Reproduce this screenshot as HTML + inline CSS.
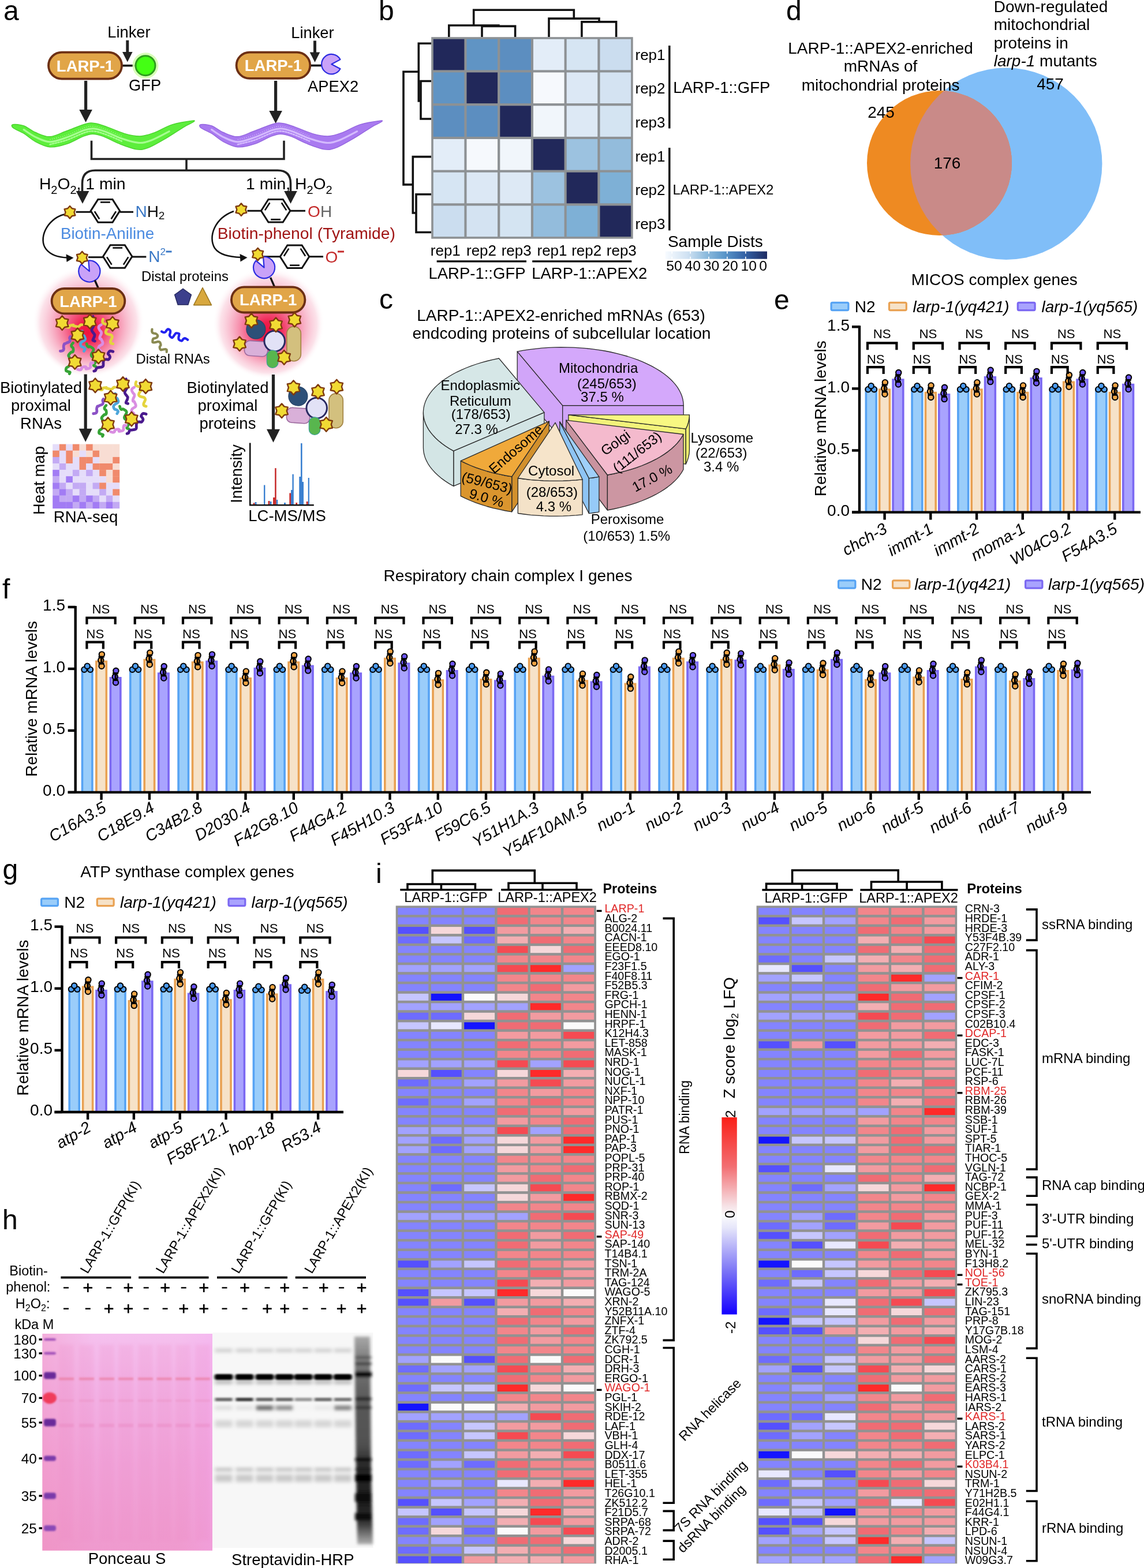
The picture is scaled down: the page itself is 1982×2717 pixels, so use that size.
<!DOCTYPE html><html><head><meta charset="utf-8"><title>Figure</title><style>html,body{margin:0;padding:0;background:#fff;}svg{display:block;}text{font-family:"Liberation Sans", Arial, Helvetica, sans-serif;}</style></head><body><svg width="1982" height="2717" viewBox="0 0 1982 2717"><defs><linearGradient id="cbar" x1="0" y1="0" x2="0" y2="1"><stop offset="0" stop-color="#FA2018"/><stop offset="0.25" stop-color="#F26E72"/><stop offset="0.45" stop-color="#F6E2E6"/><stop offset="0.5" stop-color="#FAFAFC"/><stop offset="0.56" stop-color="#E6E6FA"/><stop offset="0.78" stop-color="#7B74F6"/><stop offset="1" stop-color="#1400FF"/></linearGradient><linearGradient id="ponG" x1="0" y1="0" x2="0" y2="1"><stop offset="0" stop-color="#F5C0EE"/><stop offset="0.25" stop-color="#F3B2E6"/><stop offset="0.6" stop-color="#F1A4DA"/><stop offset="1" stop-color="#EF9ACE"/></linearGradient><linearGradient id="ponH" x1="0" y1="0" x2="1" y2="0"><stop offset="0" stop-color="#F08CB8" stop-opacity="0.35"/><stop offset="0.3" stop-color="#F08CB8" stop-opacity="0"/><stop offset="0.8" stop-color="#F4A8F0" stop-opacity="0"/><stop offset="1" stop-color="#F4A8F4" stop-opacity="0.3"/></linearGradient><filter id="blur2" x="-20%" y="-200%" width="140%" height="500%"><feGaussianBlur stdDeviation="1.6"/></filter><filter id="blur3" x="-20%" y="-200%" width="140%" height="500%"><feGaussianBlur stdDeviation="2.4"/></filter><filter id="blur5" x="-50%" y="-50%" width="200%" height="200%"><feGaussianBlur stdDeviation="4"/></filter><filter id="blurB" x="-30%" y="-300%" width="160%" height="700%"><feGaussianBlur stdDeviation="2.2 1.8"/></filter><filter id="blurS" x="-30%" y="-300%" width="160%" height="700%"><feGaussianBlur stdDeviation="3 3"/></filter><linearGradient id="l8" x1="0" y1="0" x2="0" y2="1"><stop offset="0" stop-color="#A8A8A8"/><stop offset="0.12" stop-color="#787878"/><stop offset="0.3" stop-color="#5A5A5A"/><stop offset="0.52" stop-color="#505050"/><stop offset="0.62" stop-color="#2A2A2A"/><stop offset="0.8" stop-color="#1A1A1A"/><stop offset="0.9" stop-color="#383838"/><stop offset="1" stop-color="#B0B0B0"/></linearGradient><linearGradient id="sdist" x1="0" y1="0" x2="1" y2="0"><stop offset="0" stop-color="#F7FBFF"/><stop offset="0.22" stop-color="#CFE1F2"/><stop offset="0.4" stop-color="#8DBBDD"/><stop offset="0.58" stop-color="#5A97CA"/><stop offset="0.78" stop-color="#3462A6"/><stop offset="1" stop-color="#1E2B62"/></linearGradient><clipPath id="orclip"><circle cx="1627.5" cy="282.5" r="125.5"/></clipPath><radialGradient id="glow" fx="0.5" fy="0.6"><stop offset="0" stop-color="#F0123E"/><stop offset="0.18" stop-color="#F01E4C"/><stop offset="0.42" stop-color="#F4628A" stop-opacity="0.92"/><stop offset="0.66" stop-color="#F7A6BE" stop-opacity="0.82"/><stop offset="0.86" stop-color="#FAD2DE" stop-opacity="0.65"/><stop offset="1" stop-color="#FFFFFF" stop-opacity="0"/></radialGradient></defs><rect width="1982" height="2717" fill="#fff"/><text x="651.0" y="1530.0" font-size="48">i</text>
<rect x="685.7" y="1569.4" width="347.2" height="1140.0" fill="#929292"/>
<rect x="689.4" y="1573.1" width="52.9" height="12.0" fill="#8484FF"/>
<rect x="746.8" y="1573.1" width="52.9" height="12.0" fill="#8484FF"/>
<rect x="804.2" y="1573.1" width="52.9" height="12.0" fill="#8484FF"/>
<rect x="861.6" y="1573.1" width="52.9" height="12.0" fill="#F06C74"/>
<rect x="918.9" y="1573.1" width="52.9" height="12.0" fill="#F2868B"/>
<rect x="976.3" y="1573.1" width="52.9" height="12.0" fill="#F2868B"/>
<rect x="689.4" y="1589.6" width="52.9" height="12.0" fill="#8484FF"/>
<rect x="746.8" y="1589.6" width="52.9" height="12.0" fill="#8484FF"/>
<rect x="804.2" y="1589.6" width="52.9" height="12.0" fill="#8484FF"/>
<rect x="861.6" y="1589.6" width="52.9" height="12.0" fill="#F06C74"/>
<rect x="918.9" y="1589.6" width="52.9" height="12.0" fill="#F2868B"/>
<rect x="976.3" y="1589.6" width="52.9" height="12.0" fill="#F2868B"/>
<rect x="689.4" y="1606.1" width="52.9" height="12.0" fill="#5550FF"/>
<rect x="746.8" y="1606.1" width="52.9" height="12.0" fill="#F6D8DA"/>
<rect x="804.2" y="1606.1" width="52.9" height="12.0" fill="#5550FF"/>
<rect x="861.6" y="1606.1" width="52.9" height="12.0" fill="#F29BA0"/>
<rect x="918.9" y="1606.1" width="52.9" height="12.0" fill="#F29BA0"/>
<rect x="976.3" y="1606.1" width="52.9" height="12.0" fill="#F3AEB2"/>
<rect x="689.4" y="1622.7" width="52.9" height="12.0" fill="#6E6CFF"/>
<rect x="746.8" y="1622.7" width="52.9" height="12.0" fill="#C6C6FF"/>
<rect x="804.2" y="1622.7" width="52.9" height="12.0" fill="#6E6CFF"/>
<rect x="861.6" y="1622.7" width="52.9" height="12.0" fill="#F3AEB2"/>
<rect x="918.9" y="1622.7" width="52.9" height="12.0" fill="#F06C74"/>
<rect x="976.3" y="1622.7" width="52.9" height="12.0" fill="#F2868B"/>
<rect x="689.4" y="1639.2" width="52.9" height="12.0" fill="#8484FF"/>
<rect x="746.8" y="1639.2" width="52.9" height="12.0" fill="#8484FF"/>
<rect x="804.2" y="1639.2" width="52.9" height="12.0" fill="#8484FF"/>
<rect x="861.6" y="1639.2" width="52.9" height="12.0" fill="#F54A52"/>
<rect x="918.9" y="1639.2" width="52.9" height="12.0" fill="#F6D8DA"/>
<rect x="976.3" y="1639.2" width="52.9" height="12.0" fill="#F06C74"/>
<rect x="689.4" y="1655.7" width="52.9" height="12.0" fill="#8484FF"/>
<rect x="746.8" y="1655.7" width="52.9" height="12.0" fill="#8484FF"/>
<rect x="804.2" y="1655.7" width="52.9" height="12.0" fill="#8484FF"/>
<rect x="861.6" y="1655.7" width="52.9" height="12.0" fill="#F2868B"/>
<rect x="918.9" y="1655.7" width="52.9" height="12.0" fill="#F2868B"/>
<rect x="976.3" y="1655.7" width="52.9" height="12.0" fill="#F2868B"/>
<rect x="689.4" y="1672.2" width="52.9" height="12.0" fill="#A2A2FF"/>
<rect x="746.8" y="1672.2" width="52.9" height="12.0" fill="#A2A2FF"/>
<rect x="804.2" y="1672.2" width="52.9" height="12.0" fill="#A2A2FF"/>
<rect x="861.6" y="1672.2" width="52.9" height="12.0" fill="#F54A52"/>
<rect x="918.9" y="1672.2" width="52.9" height="12.0" fill="#FF2A2A"/>
<rect x="976.3" y="1672.2" width="52.9" height="12.0" fill="#A2A2FF"/>
<rect x="689.4" y="1688.8" width="52.9" height="12.0" fill="#8484FF"/>
<rect x="746.8" y="1688.8" width="52.9" height="12.0" fill="#8484FF"/>
<rect x="804.2" y="1688.8" width="52.9" height="12.0" fill="#8484FF"/>
<rect x="861.6" y="1688.8" width="52.9" height="12.0" fill="#F2868B"/>
<rect x="918.9" y="1688.8" width="52.9" height="12.0" fill="#F2868B"/>
<rect x="976.3" y="1688.8" width="52.9" height="12.0" fill="#F2868B"/>
<rect x="689.4" y="1705.3" width="52.9" height="12.0" fill="#8484FF"/>
<rect x="746.8" y="1705.3" width="52.9" height="12.0" fill="#8484FF"/>
<rect x="804.2" y="1705.3" width="52.9" height="12.0" fill="#8484FF"/>
<rect x="861.6" y="1705.3" width="52.9" height="12.0" fill="#F2868B"/>
<rect x="918.9" y="1705.3" width="52.9" height="12.0" fill="#F06C74"/>
<rect x="976.3" y="1705.3" width="52.9" height="12.0" fill="#F29BA0"/>
<rect x="689.4" y="1721.8" width="52.9" height="12.0" fill="#C6C6FF"/>
<rect x="746.8" y="1721.8" width="52.9" height="12.0" fill="#1414FF"/>
<rect x="804.2" y="1721.8" width="52.9" height="12.0" fill="#FBFBFB"/>
<rect x="861.6" y="1721.8" width="52.9" height="12.0" fill="#F6D8DA"/>
<rect x="918.9" y="1721.8" width="52.9" height="12.0" fill="#F2868B"/>
<rect x="976.3" y="1721.8" width="52.9" height="12.0" fill="#F2868B"/>
<rect x="689.4" y="1738.3" width="52.9" height="12.0" fill="#A2A2FF"/>
<rect x="746.8" y="1738.3" width="52.9" height="12.0" fill="#A2A2FF"/>
<rect x="804.2" y="1738.3" width="52.9" height="12.0" fill="#A2A2FF"/>
<rect x="861.6" y="1738.3" width="52.9" height="12.0" fill="#A2A2FF"/>
<rect x="918.9" y="1738.3" width="52.9" height="12.0" fill="#FF2A2A"/>
<rect x="976.3" y="1738.3" width="52.9" height="12.0" fill="#F2868B"/>
<rect x="689.4" y="1754.8" width="52.9" height="12.0" fill="#6E6CFF"/>
<rect x="746.8" y="1754.8" width="52.9" height="12.0" fill="#6E6CFF"/>
<rect x="804.2" y="1754.8" width="52.9" height="12.0" fill="#F6D8DA"/>
<rect x="861.6" y="1754.8" width="52.9" height="12.0" fill="#F06C74"/>
<rect x="918.9" y="1754.8" width="52.9" height="12.0" fill="#F29BA0"/>
<rect x="976.3" y="1754.8" width="52.9" height="12.0" fill="#F29BA0"/>
<rect x="689.4" y="1771.4" width="52.9" height="12.0" fill="#C6C6FF"/>
<rect x="746.8" y="1771.4" width="52.9" height="12.0" fill="#E8E8FF"/>
<rect x="804.2" y="1771.4" width="52.9" height="12.0" fill="#1414FF"/>
<rect x="861.6" y="1771.4" width="52.9" height="12.0" fill="#F06C74"/>
<rect x="918.9" y="1771.4" width="52.9" height="12.0" fill="#F06C74"/>
<rect x="976.3" y="1771.4" width="52.9" height="12.0" fill="#FBFBFB"/>
<rect x="689.4" y="1787.9" width="52.9" height="12.0" fill="#8484FF"/>
<rect x="746.8" y="1787.9" width="52.9" height="12.0" fill="#8484FF"/>
<rect x="804.2" y="1787.9" width="52.9" height="12.0" fill="#8484FF"/>
<rect x="861.6" y="1787.9" width="52.9" height="12.0" fill="#F29BA0"/>
<rect x="918.9" y="1787.9" width="52.9" height="12.0" fill="#F29BA0"/>
<rect x="976.3" y="1787.9" width="52.9" height="12.0" fill="#F54A52"/>
<rect x="689.4" y="1804.4" width="52.9" height="12.0" fill="#8484FF"/>
<rect x="746.8" y="1804.4" width="52.9" height="12.0" fill="#8484FF"/>
<rect x="804.2" y="1804.4" width="52.9" height="12.0" fill="#8484FF"/>
<rect x="861.6" y="1804.4" width="52.9" height="12.0" fill="#F06C74"/>
<rect x="918.9" y="1804.4" width="52.9" height="12.0" fill="#F2868B"/>
<rect x="976.3" y="1804.4" width="52.9" height="12.0" fill="#F29BA0"/>
<rect x="689.4" y="1820.9" width="52.9" height="12.0" fill="#8484FF"/>
<rect x="746.8" y="1820.9" width="52.9" height="12.0" fill="#8484FF"/>
<rect x="804.2" y="1820.9" width="52.9" height="12.0" fill="#8484FF"/>
<rect x="861.6" y="1820.9" width="52.9" height="12.0" fill="#F2868B"/>
<rect x="918.9" y="1820.9" width="52.9" height="12.0" fill="#F2868B"/>
<rect x="976.3" y="1820.9" width="52.9" height="12.0" fill="#F06C74"/>
<rect x="689.4" y="1837.4" width="52.9" height="12.0" fill="#A2A2FF"/>
<rect x="746.8" y="1837.4" width="52.9" height="12.0" fill="#A2A2FF"/>
<rect x="804.2" y="1837.4" width="52.9" height="12.0" fill="#A2A2FF"/>
<rect x="861.6" y="1837.4" width="52.9" height="12.0" fill="#F54A52"/>
<rect x="918.9" y="1837.4" width="52.9" height="12.0" fill="#A2A2FF"/>
<rect x="976.3" y="1837.4" width="52.9" height="12.0" fill="#F54A52"/>
<rect x="689.4" y="1854.0" width="52.9" height="12.0" fill="#F6D8DA"/>
<rect x="746.8" y="1854.0" width="52.9" height="12.0" fill="#5550FF"/>
<rect x="804.2" y="1854.0" width="52.9" height="12.0" fill="#8484FF"/>
<rect x="861.6" y="1854.0" width="52.9" height="12.0" fill="#F6D8DA"/>
<rect x="918.9" y="1854.0" width="52.9" height="12.0" fill="#FF2A2A"/>
<rect x="976.3" y="1854.0" width="52.9" height="12.0" fill="#F3AEB2"/>
<rect x="689.4" y="1870.5" width="52.9" height="12.0" fill="#6E6CFF"/>
<rect x="746.8" y="1870.5" width="52.9" height="12.0" fill="#8484FF"/>
<rect x="804.2" y="1870.5" width="52.9" height="12.0" fill="#A2A2FF"/>
<rect x="861.6" y="1870.5" width="52.9" height="12.0" fill="#F29BA0"/>
<rect x="918.9" y="1870.5" width="52.9" height="12.0" fill="#F54A52"/>
<rect x="976.3" y="1870.5" width="52.9" height="12.0" fill="#F29BA0"/>
<rect x="689.4" y="1887.0" width="52.9" height="12.0" fill="#8484FF"/>
<rect x="746.8" y="1887.0" width="52.9" height="12.0" fill="#8484FF"/>
<rect x="804.2" y="1887.0" width="52.9" height="12.0" fill="#8484FF"/>
<rect x="861.6" y="1887.0" width="52.9" height="12.0" fill="#F2868B"/>
<rect x="918.9" y="1887.0" width="52.9" height="12.0" fill="#F29BA0"/>
<rect x="976.3" y="1887.0" width="52.9" height="12.0" fill="#F2868B"/>
<rect x="689.4" y="1903.5" width="52.9" height="12.0" fill="#6E6CFF"/>
<rect x="746.8" y="1903.5" width="52.9" height="12.0" fill="#8484FF"/>
<rect x="804.2" y="1903.5" width="52.9" height="12.0" fill="#A2A2FF"/>
<rect x="861.6" y="1903.5" width="52.9" height="12.0" fill="#F2868B"/>
<rect x="918.9" y="1903.5" width="52.9" height="12.0" fill="#F06C74"/>
<rect x="976.3" y="1903.5" width="52.9" height="12.0" fill="#F2868B"/>
<rect x="689.4" y="1920.1" width="52.9" height="12.0" fill="#8484FF"/>
<rect x="746.8" y="1920.1" width="52.9" height="12.0" fill="#8484FF"/>
<rect x="804.2" y="1920.1" width="52.9" height="12.0" fill="#8484FF"/>
<rect x="861.6" y="1920.1" width="52.9" height="12.0" fill="#F06C74"/>
<rect x="918.9" y="1920.1" width="52.9" height="12.0" fill="#F2868B"/>
<rect x="976.3" y="1920.1" width="52.9" height="12.0" fill="#F29BA0"/>
<rect x="689.4" y="1936.6" width="52.9" height="12.0" fill="#8484FF"/>
<rect x="746.8" y="1936.6" width="52.9" height="12.0" fill="#8484FF"/>
<rect x="804.2" y="1936.6" width="52.9" height="12.0" fill="#8484FF"/>
<rect x="861.6" y="1936.6" width="52.9" height="12.0" fill="#F29BA0"/>
<rect x="918.9" y="1936.6" width="52.9" height="12.0" fill="#F2868B"/>
<rect x="976.3" y="1936.6" width="52.9" height="12.0" fill="#F06C74"/>
<rect x="689.4" y="1953.1" width="52.9" height="12.0" fill="#A2A2FF"/>
<rect x="746.8" y="1953.1" width="52.9" height="12.0" fill="#A2A2FF"/>
<rect x="804.2" y="1953.1" width="52.9" height="12.0" fill="#A2A2FF"/>
<rect x="861.6" y="1953.1" width="52.9" height="12.0" fill="#F54A52"/>
<rect x="918.9" y="1953.1" width="52.9" height="12.0" fill="#A2A2FF"/>
<rect x="976.3" y="1953.1" width="52.9" height="12.0" fill="#F06C74"/>
<rect x="689.4" y="1969.6" width="52.9" height="12.0" fill="#A2A2FF"/>
<rect x="746.8" y="1969.6" width="52.9" height="12.0" fill="#6E6CFF"/>
<rect x="804.2" y="1969.6" width="52.9" height="12.0" fill="#A2A2FF"/>
<rect x="861.6" y="1969.6" width="52.9" height="12.0" fill="#F6D8DA"/>
<rect x="918.9" y="1969.6" width="52.9" height="12.0" fill="#F29BA0"/>
<rect x="976.3" y="1969.6" width="52.9" height="12.0" fill="#FF2A2A"/>
<rect x="689.4" y="1986.1" width="52.9" height="12.0" fill="#A2A2FF"/>
<rect x="746.8" y="1986.1" width="52.9" height="12.0" fill="#6E6CFF"/>
<rect x="804.2" y="1986.1" width="52.9" height="12.0" fill="#A2A2FF"/>
<rect x="861.6" y="1986.1" width="52.9" height="12.0" fill="#F6D8DA"/>
<rect x="918.9" y="1986.1" width="52.9" height="12.0" fill="#F29BA0"/>
<rect x="976.3" y="1986.1" width="52.9" height="12.0" fill="#FF2A2A"/>
<rect x="689.4" y="2002.7" width="52.9" height="12.0" fill="#8484FF"/>
<rect x="746.8" y="2002.7" width="52.9" height="12.0" fill="#8484FF"/>
<rect x="804.2" y="2002.7" width="52.9" height="12.0" fill="#8484FF"/>
<rect x="861.6" y="2002.7" width="52.9" height="12.0" fill="#F2868B"/>
<rect x="918.9" y="2002.7" width="52.9" height="12.0" fill="#F2868B"/>
<rect x="976.3" y="2002.7" width="52.9" height="12.0" fill="#F2868B"/>
<rect x="689.4" y="2019.2" width="52.9" height="12.0" fill="#8484FF"/>
<rect x="746.8" y="2019.2" width="52.9" height="12.0" fill="#8484FF"/>
<rect x="804.2" y="2019.2" width="52.9" height="12.0" fill="#8484FF"/>
<rect x="861.6" y="2019.2" width="52.9" height="12.0" fill="#F29BA0"/>
<rect x="918.9" y="2019.2" width="52.9" height="12.0" fill="#F2868B"/>
<rect x="976.3" y="2019.2" width="52.9" height="12.0" fill="#F06C74"/>
<rect x="689.4" y="2035.7" width="52.9" height="12.0" fill="#8484FF"/>
<rect x="746.8" y="2035.7" width="52.9" height="12.0" fill="#8484FF"/>
<rect x="804.2" y="2035.7" width="52.9" height="12.0" fill="#8484FF"/>
<rect x="861.6" y="2035.7" width="52.9" height="12.0" fill="#F29BA0"/>
<rect x="918.9" y="2035.7" width="52.9" height="12.0" fill="#F06C74"/>
<rect x="976.3" y="2035.7" width="52.9" height="12.0" fill="#F2868B"/>
<rect x="689.4" y="2052.2" width="52.9" height="12.0" fill="#8484FF"/>
<rect x="746.8" y="2052.2" width="52.9" height="12.0" fill="#6E6CFF"/>
<rect x="804.2" y="2052.2" width="52.9" height="12.0" fill="#C6C6FF"/>
<rect x="861.6" y="2052.2" width="52.9" height="12.0" fill="#F6D8DA"/>
<rect x="918.9" y="2052.2" width="52.9" height="12.0" fill="#F54A52"/>
<rect x="976.3" y="2052.2" width="52.9" height="12.0" fill="#F2868B"/>
<rect x="689.4" y="2068.8" width="52.9" height="12.0" fill="#8484FF"/>
<rect x="746.8" y="2068.8" width="52.9" height="12.0" fill="#8484FF"/>
<rect x="804.2" y="2068.8" width="52.9" height="12.0" fill="#8484FF"/>
<rect x="861.6" y="2068.8" width="52.9" height="12.0" fill="#F6D8DA"/>
<rect x="918.9" y="2068.8" width="52.9" height="12.0" fill="#F29BA0"/>
<rect x="976.3" y="2068.8" width="52.9" height="12.0" fill="#FF2A2A"/>
<rect x="689.4" y="2085.3" width="52.9" height="12.0" fill="#8484FF"/>
<rect x="746.8" y="2085.3" width="52.9" height="12.0" fill="#8484FF"/>
<rect x="804.2" y="2085.3" width="52.9" height="12.0" fill="#8484FF"/>
<rect x="861.6" y="2085.3" width="52.9" height="12.0" fill="#F2868B"/>
<rect x="918.9" y="2085.3" width="52.9" height="12.0" fill="#F2868B"/>
<rect x="976.3" y="2085.3" width="52.9" height="12.0" fill="#F2868B"/>
<rect x="689.4" y="2101.8" width="52.9" height="12.0" fill="#A2A2FF"/>
<rect x="746.8" y="2101.8" width="52.9" height="12.0" fill="#A2A2FF"/>
<rect x="804.2" y="2101.8" width="52.9" height="12.0" fill="#A2A2FF"/>
<rect x="861.6" y="2101.8" width="52.9" height="12.0" fill="#A2A2FF"/>
<rect x="918.9" y="2101.8" width="52.9" height="12.0" fill="#F06C74"/>
<rect x="976.3" y="2101.8" width="52.9" height="12.0" fill="#F54A52"/>
<rect x="689.4" y="2118.3" width="52.9" height="12.0" fill="#8484FF"/>
<rect x="746.8" y="2118.3" width="52.9" height="12.0" fill="#8484FF"/>
<rect x="804.2" y="2118.3" width="52.9" height="12.0" fill="#8484FF"/>
<rect x="861.6" y="2118.3" width="52.9" height="12.0" fill="#F2868B"/>
<rect x="918.9" y="2118.3" width="52.9" height="12.0" fill="#F2868B"/>
<rect x="976.3" y="2118.3" width="52.9" height="12.0" fill="#F2868B"/>
<rect x="689.4" y="2134.8" width="52.9" height="12.0" fill="#8484FF"/>
<rect x="746.8" y="2134.8" width="52.9" height="12.0" fill="#8484FF"/>
<rect x="804.2" y="2134.8" width="52.9" height="12.0" fill="#8484FF"/>
<rect x="861.6" y="2134.8" width="52.9" height="12.0" fill="#F06C74"/>
<rect x="918.9" y="2134.8" width="52.9" height="12.0" fill="#F29BA0"/>
<rect x="976.3" y="2134.8" width="52.9" height="12.0" fill="#F06C74"/>
<rect x="689.4" y="2151.4" width="52.9" height="12.0" fill="#8484FF"/>
<rect x="746.8" y="2151.4" width="52.9" height="12.0" fill="#8484FF"/>
<rect x="804.2" y="2151.4" width="52.9" height="12.0" fill="#8484FF"/>
<rect x="861.6" y="2151.4" width="52.9" height="12.0" fill="#F06C74"/>
<rect x="918.9" y="2151.4" width="52.9" height="12.0" fill="#F29BA0"/>
<rect x="976.3" y="2151.4" width="52.9" height="12.0" fill="#F2868B"/>
<rect x="689.4" y="2167.9" width="52.9" height="12.0" fill="#8484FF"/>
<rect x="746.8" y="2167.9" width="52.9" height="12.0" fill="#8484FF"/>
<rect x="804.2" y="2167.9" width="52.9" height="12.0" fill="#8484FF"/>
<rect x="861.6" y="2167.9" width="52.9" height="12.0" fill="#F2868B"/>
<rect x="918.9" y="2167.9" width="52.9" height="12.0" fill="#F2868B"/>
<rect x="976.3" y="2167.9" width="52.9" height="12.0" fill="#F2868B"/>
<rect x="689.4" y="2184.4" width="52.9" height="12.0" fill="#5550FF"/>
<rect x="746.8" y="2184.4" width="52.9" height="12.0" fill="#A2A2FF"/>
<rect x="804.2" y="2184.4" width="52.9" height="12.0" fill="#C6C6FF"/>
<rect x="861.6" y="2184.4" width="52.9" height="12.0" fill="#F06C74"/>
<rect x="918.9" y="2184.4" width="52.9" height="12.0" fill="#F2868B"/>
<rect x="976.3" y="2184.4" width="52.9" height="12.0" fill="#F29BA0"/>
<rect x="689.4" y="2200.9" width="52.9" height="12.0" fill="#8484FF"/>
<rect x="746.8" y="2200.9" width="52.9" height="12.0" fill="#8484FF"/>
<rect x="804.2" y="2200.9" width="52.9" height="12.0" fill="#8484FF"/>
<rect x="861.6" y="2200.9" width="52.9" height="12.0" fill="#F2868B"/>
<rect x="918.9" y="2200.9" width="52.9" height="12.0" fill="#F06C74"/>
<rect x="976.3" y="2200.9" width="52.9" height="12.0" fill="#F29BA0"/>
<rect x="689.4" y="2217.4" width="52.9" height="12.0" fill="#8484FF"/>
<rect x="746.8" y="2217.4" width="52.9" height="12.0" fill="#8484FF"/>
<rect x="804.2" y="2217.4" width="52.9" height="12.0" fill="#8484FF"/>
<rect x="861.6" y="2217.4" width="52.9" height="12.0" fill="#F54A52"/>
<rect x="918.9" y="2217.4" width="52.9" height="12.0" fill="#F3AEB2"/>
<rect x="976.3" y="2217.4" width="52.9" height="12.0" fill="#F29BA0"/>
<rect x="689.4" y="2234.0" width="52.9" height="12.0" fill="#5550FF"/>
<rect x="746.8" y="2234.0" width="52.9" height="12.0" fill="#C6C6FF"/>
<rect x="804.2" y="2234.0" width="52.9" height="12.0" fill="#C6C6FF"/>
<rect x="861.6" y="2234.0" width="52.9" height="12.0" fill="#FF2A2A"/>
<rect x="918.9" y="2234.0" width="52.9" height="12.0" fill="#F6D8DA"/>
<rect x="976.3" y="2234.0" width="52.9" height="12.0" fill="#FBFBFB"/>
<rect x="689.4" y="2250.5" width="52.9" height="12.0" fill="#5550FF"/>
<rect x="746.8" y="2250.5" width="52.9" height="12.0" fill="#F29BA0"/>
<rect x="804.2" y="2250.5" width="52.9" height="12.0" fill="#5550FF"/>
<rect x="861.6" y="2250.5" width="52.9" height="12.0" fill="#F29BA0"/>
<rect x="918.9" y="2250.5" width="52.9" height="12.0" fill="#F29BA0"/>
<rect x="976.3" y="2250.5" width="52.9" height="12.0" fill="#F3AEB2"/>
<rect x="689.4" y="2267.0" width="52.9" height="12.0" fill="#8484FF"/>
<rect x="746.8" y="2267.0" width="52.9" height="12.0" fill="#8484FF"/>
<rect x="804.2" y="2267.0" width="52.9" height="12.0" fill="#8484FF"/>
<rect x="861.6" y="2267.0" width="52.9" height="12.0" fill="#F3AEB2"/>
<rect x="918.9" y="2267.0" width="52.9" height="12.0" fill="#F06C74"/>
<rect x="976.3" y="2267.0" width="52.9" height="12.0" fill="#F2868B"/>
<rect x="689.4" y="2283.5" width="52.9" height="12.0" fill="#8484FF"/>
<rect x="746.8" y="2283.5" width="52.9" height="12.0" fill="#8484FF"/>
<rect x="804.2" y="2283.5" width="52.9" height="12.0" fill="#8484FF"/>
<rect x="861.6" y="2283.5" width="52.9" height="12.0" fill="#F06C74"/>
<rect x="918.9" y="2283.5" width="52.9" height="12.0" fill="#F2868B"/>
<rect x="976.3" y="2283.5" width="52.9" height="12.0" fill="#F29BA0"/>
<rect x="689.4" y="2300.1" width="52.9" height="12.0" fill="#8484FF"/>
<rect x="746.8" y="2300.1" width="52.9" height="12.0" fill="#8484FF"/>
<rect x="804.2" y="2300.1" width="52.9" height="12.0" fill="#8484FF"/>
<rect x="861.6" y="2300.1" width="52.9" height="12.0" fill="#F2868B"/>
<rect x="918.9" y="2300.1" width="52.9" height="12.0" fill="#F29BA0"/>
<rect x="976.3" y="2300.1" width="52.9" height="12.0" fill="#F06C74"/>
<rect x="689.4" y="2316.6" width="52.9" height="12.0" fill="#8484FF"/>
<rect x="746.8" y="2316.6" width="52.9" height="12.0" fill="#8484FF"/>
<rect x="804.2" y="2316.6" width="52.9" height="12.0" fill="#8484FF"/>
<rect x="861.6" y="2316.6" width="52.9" height="12.0" fill="#F06C74"/>
<rect x="918.9" y="2316.6" width="52.9" height="12.0" fill="#F29BA0"/>
<rect x="976.3" y="2316.6" width="52.9" height="12.0" fill="#F2868B"/>
<rect x="689.4" y="2333.1" width="52.9" height="12.0" fill="#8484FF"/>
<rect x="746.8" y="2333.1" width="52.9" height="12.0" fill="#8484FF"/>
<rect x="804.2" y="2333.1" width="52.9" height="12.0" fill="#8484FF"/>
<rect x="861.6" y="2333.1" width="52.9" height="12.0" fill="#F2868B"/>
<rect x="918.9" y="2333.1" width="52.9" height="12.0" fill="#F2868B"/>
<rect x="976.3" y="2333.1" width="52.9" height="12.0" fill="#F2868B"/>
<rect x="689.4" y="2349.6" width="52.9" height="12.0" fill="#A2A2FF"/>
<rect x="746.8" y="2349.6" width="52.9" height="12.0" fill="#FBFBFB"/>
<rect x="804.2" y="2349.6" width="52.9" height="12.0" fill="#5550FF"/>
<rect x="861.6" y="2349.6" width="52.9" height="12.0" fill="#F06C74"/>
<rect x="918.9" y="2349.6" width="52.9" height="12.0" fill="#FBFBFB"/>
<rect x="976.3" y="2349.6" width="52.9" height="12.0" fill="#F06C74"/>
<rect x="689.4" y="2366.1" width="52.9" height="12.0" fill="#6E6CFF"/>
<rect x="746.8" y="2366.1" width="52.9" height="12.0" fill="#A2A2FF"/>
<rect x="804.2" y="2366.1" width="52.9" height="12.0" fill="#A2A2FF"/>
<rect x="861.6" y="2366.1" width="52.9" height="12.0" fill="#F54A52"/>
<rect x="918.9" y="2366.1" width="52.9" height="12.0" fill="#F2868B"/>
<rect x="976.3" y="2366.1" width="52.9" height="12.0" fill="#F3AEB2"/>
<rect x="689.4" y="2382.7" width="52.9" height="12.0" fill="#8484FF"/>
<rect x="746.8" y="2382.7" width="52.9" height="12.0" fill="#8484FF"/>
<rect x="804.2" y="2382.7" width="52.9" height="12.0" fill="#8484FF"/>
<rect x="861.6" y="2382.7" width="52.9" height="12.0" fill="#F06C74"/>
<rect x="918.9" y="2382.7" width="52.9" height="12.0" fill="#F2868B"/>
<rect x="976.3" y="2382.7" width="52.9" height="12.0" fill="#F29BA0"/>
<rect x="689.4" y="2399.2" width="52.9" height="12.0" fill="#6E6CFF"/>
<rect x="746.8" y="2399.2" width="52.9" height="12.0" fill="#C6C6FF"/>
<rect x="804.2" y="2399.2" width="52.9" height="12.0" fill="#C6C6FF"/>
<rect x="861.6" y="2399.2" width="52.9" height="12.0" fill="#FF2A2A"/>
<rect x="918.9" y="2399.2" width="52.9" height="12.0" fill="#F6D8DA"/>
<rect x="976.3" y="2399.2" width="52.9" height="12.0" fill="#FBFBFB"/>
<rect x="689.4" y="2415.7" width="52.9" height="12.0" fill="#8484FF"/>
<rect x="746.8" y="2415.7" width="52.9" height="12.0" fill="#8484FF"/>
<rect x="804.2" y="2415.7" width="52.9" height="12.0" fill="#8484FF"/>
<rect x="861.6" y="2415.7" width="52.9" height="12.0" fill="#F2868B"/>
<rect x="918.9" y="2415.7" width="52.9" height="12.0" fill="#F2868B"/>
<rect x="976.3" y="2415.7" width="52.9" height="12.0" fill="#F2868B"/>
<rect x="689.4" y="2432.2" width="52.9" height="12.0" fill="#1414FF"/>
<rect x="746.8" y="2432.2" width="52.9" height="12.0" fill="#FBFBFB"/>
<rect x="804.2" y="2432.2" width="52.9" height="12.0" fill="#FBFBFB"/>
<rect x="861.6" y="2432.2" width="52.9" height="12.0" fill="#F3AEB2"/>
<rect x="918.9" y="2432.2" width="52.9" height="12.0" fill="#F29BA0"/>
<rect x="976.3" y="2432.2" width="52.9" height="12.0" fill="#F29BA0"/>
<rect x="689.4" y="2448.8" width="52.9" height="12.0" fill="#A2A2FF"/>
<rect x="746.8" y="2448.8" width="52.9" height="12.0" fill="#A2A2FF"/>
<rect x="804.2" y="2448.8" width="52.9" height="12.0" fill="#A2A2FF"/>
<rect x="861.6" y="2448.8" width="52.9" height="12.0" fill="#A2A2FF"/>
<rect x="918.9" y="2448.8" width="52.9" height="12.0" fill="#F54A52"/>
<rect x="976.3" y="2448.8" width="52.9" height="12.0" fill="#F06C74"/>
<rect x="689.4" y="2465.3" width="52.9" height="12.0" fill="#6E6CFF"/>
<rect x="746.8" y="2465.3" width="52.9" height="12.0" fill="#8484FF"/>
<rect x="804.2" y="2465.3" width="52.9" height="12.0" fill="#C6C6FF"/>
<rect x="861.6" y="2465.3" width="52.9" height="12.0" fill="#F29BA0"/>
<rect x="918.9" y="2465.3" width="52.9" height="12.0" fill="#F29BA0"/>
<rect x="976.3" y="2465.3" width="52.9" height="12.0" fill="#F06C74"/>
<rect x="689.4" y="2481.8" width="52.9" height="12.0" fill="#6E6CFF"/>
<rect x="746.8" y="2481.8" width="52.9" height="12.0" fill="#8484FF"/>
<rect x="804.2" y="2481.8" width="52.9" height="12.0" fill="#C6C6FF"/>
<rect x="861.6" y="2481.8" width="52.9" height="12.0" fill="#F54A52"/>
<rect x="918.9" y="2481.8" width="52.9" height="12.0" fill="#F2868B"/>
<rect x="976.3" y="2481.8" width="52.9" height="12.0" fill="#F6D8DA"/>
<rect x="689.4" y="2498.3" width="52.9" height="12.0" fill="#8484FF"/>
<rect x="746.8" y="2498.3" width="52.9" height="12.0" fill="#8484FF"/>
<rect x="804.2" y="2498.3" width="52.9" height="12.0" fill="#8484FF"/>
<rect x="861.6" y="2498.3" width="52.9" height="12.0" fill="#F2868B"/>
<rect x="918.9" y="2498.3" width="52.9" height="12.0" fill="#F2868B"/>
<rect x="976.3" y="2498.3" width="52.9" height="12.0" fill="#F06C74"/>
<rect x="689.4" y="2514.8" width="52.9" height="12.0" fill="#6E6CFF"/>
<rect x="746.8" y="2514.8" width="52.9" height="12.0" fill="#8484FF"/>
<rect x="804.2" y="2514.8" width="52.9" height="12.0" fill="#C6C6FF"/>
<rect x="861.6" y="2514.8" width="52.9" height="12.0" fill="#F29BA0"/>
<rect x="918.9" y="2514.8" width="52.9" height="12.0" fill="#F3AEB2"/>
<rect x="976.3" y="2514.8" width="52.9" height="12.0" fill="#F54A52"/>
<rect x="689.4" y="2531.4" width="52.9" height="12.0" fill="#6E6CFF"/>
<rect x="746.8" y="2531.4" width="52.9" height="12.0" fill="#A2A2FF"/>
<rect x="804.2" y="2531.4" width="52.9" height="12.0" fill="#6E6CFF"/>
<rect x="861.6" y="2531.4" width="52.9" height="12.0" fill="#F06C74"/>
<rect x="918.9" y="2531.4" width="52.9" height="12.0" fill="#F2868B"/>
<rect x="976.3" y="2531.4" width="52.9" height="12.0" fill="#F2868B"/>
<rect x="689.4" y="2547.9" width="52.9" height="12.0" fill="#8484FF"/>
<rect x="746.8" y="2547.9" width="52.9" height="12.0" fill="#8484FF"/>
<rect x="804.2" y="2547.9" width="52.9" height="12.0" fill="#8484FF"/>
<rect x="861.6" y="2547.9" width="52.9" height="12.0" fill="#F06C74"/>
<rect x="918.9" y="2547.9" width="52.9" height="12.0" fill="#F2868B"/>
<rect x="976.3" y="2547.9" width="52.9" height="12.0" fill="#F2868B"/>
<rect x="689.4" y="2564.4" width="52.9" height="12.0" fill="#8484FF"/>
<rect x="746.8" y="2564.4" width="52.9" height="12.0" fill="#A2A2FF"/>
<rect x="804.2" y="2564.4" width="52.9" height="12.0" fill="#8484FF"/>
<rect x="861.6" y="2564.4" width="52.9" height="12.0" fill="#E8E8FF"/>
<rect x="918.9" y="2564.4" width="52.9" height="12.0" fill="#F3AEB2"/>
<rect x="976.3" y="2564.4" width="52.9" height="12.0" fill="#FF2A2A"/>
<rect x="689.4" y="2580.9" width="52.9" height="12.0" fill="#8484FF"/>
<rect x="746.8" y="2580.9" width="52.9" height="12.0" fill="#8484FF"/>
<rect x="804.2" y="2580.9" width="52.9" height="12.0" fill="#8484FF"/>
<rect x="861.6" y="2580.9" width="52.9" height="12.0" fill="#F2868B"/>
<rect x="918.9" y="2580.9" width="52.9" height="12.0" fill="#F06C74"/>
<rect x="976.3" y="2580.9" width="52.9" height="12.0" fill="#F29BA0"/>
<rect x="689.4" y="2597.4" width="52.9" height="12.0" fill="#5550FF"/>
<rect x="746.8" y="2597.4" width="52.9" height="12.0" fill="#C6C6FF"/>
<rect x="804.2" y="2597.4" width="52.9" height="12.0" fill="#A2A2FF"/>
<rect x="861.6" y="2597.4" width="52.9" height="12.0" fill="#F3AEB2"/>
<rect x="918.9" y="2597.4" width="52.9" height="12.0" fill="#F06C74"/>
<rect x="976.3" y="2597.4" width="52.9" height="12.0" fill="#F29BA0"/>
<rect x="689.4" y="2614.0" width="52.9" height="12.0" fill="#C6C6FF"/>
<rect x="746.8" y="2614.0" width="52.9" height="12.0" fill="#5550FF"/>
<rect x="804.2" y="2614.0" width="52.9" height="12.0" fill="#C6C6FF"/>
<rect x="861.6" y="2614.0" width="52.9" height="12.0" fill="#F6D8DA"/>
<rect x="918.9" y="2614.0" width="52.9" height="12.0" fill="#FF2A2A"/>
<rect x="976.3" y="2614.0" width="52.9" height="12.0" fill="#F3AEB2"/>
<rect x="689.4" y="2630.5" width="52.9" height="12.0" fill="#6E6CFF"/>
<rect x="746.8" y="2630.5" width="52.9" height="12.0" fill="#A2A2FF"/>
<rect x="804.2" y="2630.5" width="52.9" height="12.0" fill="#8484FF"/>
<rect x="861.6" y="2630.5" width="52.9" height="12.0" fill="#F3AEB2"/>
<rect x="918.9" y="2630.5" width="52.9" height="12.0" fill="#F54A52"/>
<rect x="976.3" y="2630.5" width="52.9" height="12.0" fill="#F29BA0"/>
<rect x="689.4" y="2647.0" width="52.9" height="12.0" fill="#6E6CFF"/>
<rect x="746.8" y="2647.0" width="52.9" height="12.0" fill="#F6D8DA"/>
<rect x="804.2" y="2647.0" width="52.9" height="12.0" fill="#6E6CFF"/>
<rect x="861.6" y="2647.0" width="52.9" height="12.0" fill="#FBFBFB"/>
<rect x="918.9" y="2647.0" width="52.9" height="12.0" fill="#F29BA0"/>
<rect x="976.3" y="2647.0" width="52.9" height="12.0" fill="#F54A52"/>
<rect x="689.4" y="2663.5" width="52.9" height="12.0" fill="#8484FF"/>
<rect x="746.8" y="2663.5" width="52.9" height="12.0" fill="#A2A2FF"/>
<rect x="804.2" y="2663.5" width="52.9" height="12.0" fill="#8484FF"/>
<rect x="861.6" y="2663.5" width="52.9" height="12.0" fill="#F06C74"/>
<rect x="918.9" y="2663.5" width="52.9" height="12.0" fill="#F06C74"/>
<rect x="976.3" y="2663.5" width="52.9" height="12.0" fill="#F6D8DA"/>
<rect x="689.4" y="2680.1" width="52.9" height="12.0" fill="#6E6CFF"/>
<rect x="746.8" y="2680.1" width="52.9" height="12.0" fill="#8484FF"/>
<rect x="804.2" y="2680.1" width="52.9" height="12.0" fill="#C6C6FF"/>
<rect x="861.6" y="2680.1" width="52.9" height="12.0" fill="#F3AEB2"/>
<rect x="918.9" y="2680.1" width="52.9" height="12.0" fill="#F2868B"/>
<rect x="976.3" y="2680.1" width="52.9" height="12.0" fill="#F06C74"/>
<rect x="689.4" y="2696.6" width="52.9" height="12.0" fill="#5550FF"/>
<rect x="746.8" y="2696.6" width="52.9" height="12.0" fill="#5550FF"/>
<rect x="804.2" y="2696.6" width="52.9" height="12.0" fill="#F29BA0"/>
<rect x="861.6" y="2696.6" width="52.9" height="12.0" fill="#F3AEB2"/>
<rect x="918.9" y="2696.6" width="52.9" height="12.0" fill="#F3AEB2"/>
<rect x="976.3" y="2696.6" width="52.9" height="12.0" fill="#F29BA0"/>
<text x="1047.4" y="1581.4" font-size="19.7" fill="#E02828">LARP-1</text>
<line x1="1033.8" y1="1578.4" x2="1042.5" y2="1578.4" stroke="#000" stroke-width="3.4" />
<text x="1047.4" y="1598.0" font-size="19.7">ALG-2</text>
<text x="1047.4" y="1614.6" font-size="19.7">B0024.11</text>
<text x="1047.4" y="1631.2" font-size="19.7">CACN-1</text>
<text x="1047.4" y="1647.8" font-size="19.7">EEED8.10</text>
<text x="1047.4" y="1664.4" font-size="19.7">EGO-1</text>
<text x="1047.4" y="1681.0" font-size="19.7">F23F1.5</text>
<text x="1047.4" y="1697.6" font-size="19.7">F40F8.11</text>
<text x="1047.4" y="1714.2" font-size="19.7">F52B5.3</text>
<text x="1047.4" y="1730.8" font-size="19.7">FRG-1</text>
<text x="1047.4" y="1747.4" font-size="19.7">GPCH-1</text>
<text x="1047.4" y="1764.0" font-size="19.7">HENN-1</text>
<text x="1047.4" y="1780.6" font-size="19.7">HRPF-1</text>
<text x="1047.4" y="1797.2" font-size="19.7">K12H4.3</text>
<text x="1047.4" y="1813.8" font-size="19.7">LET-858</text>
<text x="1047.4" y="1830.4" font-size="19.7">MASK-1</text>
<text x="1047.4" y="1847.0" font-size="19.7">NRD-1</text>
<text x="1047.4" y="1863.6" font-size="19.7">NOG-1</text>
<text x="1047.4" y="1880.2" font-size="19.7">NUCL-1</text>
<text x="1047.4" y="1896.8" font-size="19.7">NXF-1</text>
<text x="1047.4" y="1913.4" font-size="19.7">NPP-10</text>
<text x="1047.4" y="1930.0" font-size="19.7">PATR-1</text>
<text x="1047.4" y="1946.6" font-size="19.7">PUS-1</text>
<text x="1047.4" y="1963.2" font-size="19.7">PNO-1</text>
<text x="1047.4" y="1979.8" font-size="19.7">PAP-1</text>
<text x="1047.4" y="1996.4" font-size="19.7">PAP-3</text>
<text x="1047.4" y="2013.0" font-size="19.7">POPL-5</text>
<text x="1047.4" y="2029.6" font-size="19.7">PRP-31</text>
<text x="1047.4" y="2046.2" font-size="19.7">PRP-40</text>
<text x="1047.4" y="2062.8" font-size="19.7">ROP-1</text>
<text x="1047.4" y="2079.4" font-size="19.7">RBMX-2</text>
<text x="1047.4" y="2096.0" font-size="19.7">SQD-1</text>
<text x="1047.4" y="2112.6" font-size="19.7">SNR-3</text>
<text x="1047.4" y="2129.2" font-size="19.7">SUN-13</text>
<text x="1047.4" y="2145.8" font-size="19.7" fill="#E02828">SAP-49</text>
<line x1="1033.8" y1="2142.8" x2="1042.5" y2="2142.8" stroke="#000" stroke-width="3.4" />
<text x="1047.4" y="2162.4" font-size="19.7">SAP-140</text>
<text x="1047.4" y="2179.0" font-size="19.7">T14B4.1</text>
<text x="1047.4" y="2195.6" font-size="19.7">TSN-1</text>
<text x="1047.4" y="2212.2" font-size="19.7">TRM-2A</text>
<text x="1047.4" y="2228.8" font-size="19.7">TAG-124</text>
<text x="1047.4" y="2245.4" font-size="19.7">WAGO-5</text>
<text x="1047.4" y="2262.0" font-size="19.7">XRN-2</text>
<text x="1047.4" y="2278.6" font-size="19.7">Y52B11A.10</text>
<text x="1047.4" y="2295.2" font-size="19.7">ZNFX-1</text>
<text x="1047.4" y="2311.8" font-size="19.7">ZTF-4</text>
<text x="1047.4" y="2328.4" font-size="19.7">ZK792.5</text>
<text x="1047.4" y="2345.0" font-size="19.7">CGH-1</text>
<text x="1047.4" y="2361.6" font-size="19.7">DCR-1</text>
<text x="1047.4" y="2378.2" font-size="19.7">DRH-3</text>
<text x="1047.4" y="2394.8" font-size="19.7">ERGO-1</text>
<text x="1047.4" y="2411.4" font-size="19.7" fill="#E02828">WAGO-1</text>
<line x1="1033.8" y1="2408.4" x2="1042.5" y2="2408.4" stroke="#000" stroke-width="3.4" />
<text x="1047.4" y="2428.0" font-size="19.7">PGL-1</text>
<text x="1047.4" y="2444.6" font-size="19.7">SKIH-2</text>
<text x="1047.4" y="2461.2" font-size="19.7">RDE-12</text>
<text x="1047.4" y="2477.8" font-size="19.7">LAF-1</text>
<text x="1047.4" y="2494.4" font-size="19.7">VBH-1</text>
<text x="1047.4" y="2511.0" font-size="19.7">GLH-4</text>
<text x="1047.4" y="2527.6" font-size="19.7">DDX-17</text>
<text x="1047.4" y="2544.2" font-size="19.7">B0511.6</text>
<text x="1047.4" y="2560.8" font-size="19.7">LET-355</text>
<text x="1047.4" y="2577.4" font-size="19.7">HEL-1</text>
<text x="1047.4" y="2594.0" font-size="19.7">T26G10.1</text>
<text x="1047.4" y="2610.6" font-size="19.7">ZK512.2</text>
<text x="1047.4" y="2627.2" font-size="19.7">F21D5.7</text>
<text x="1047.4" y="2643.8" font-size="19.7">SRPA-68</text>
<text x="1047.4" y="2660.4" font-size="19.7">SRPA-72</text>
<text x="1047.4" y="2677.0" font-size="19.7">ADR-2</text>
<text x="1047.4" y="2693.6" font-size="19.7">D2005.1</text>
<text x="1047.4" y="2710.2" font-size="19.7">RHA-1</text>
<rect x="1310.6" y="1569.4" width="347.6" height="1140.0" fill="#929292"/>
<rect x="1314.3" y="1573.1" width="53.0" height="12.0" fill="#8484FF"/>
<rect x="1371.8" y="1573.1" width="53.0" height="12.0" fill="#8484FF"/>
<rect x="1429.2" y="1573.1" width="53.0" height="12.0" fill="#8484FF"/>
<rect x="1486.7" y="1573.1" width="53.0" height="12.0" fill="#F2868B"/>
<rect x="1544.1" y="1573.1" width="53.0" height="12.0" fill="#F2868B"/>
<rect x="1601.6" y="1573.1" width="53.0" height="12.0" fill="#F2868B"/>
<rect x="1314.3" y="1589.6" width="53.0" height="12.0" fill="#5550FF"/>
<rect x="1371.8" y="1589.6" width="53.0" height="12.0" fill="#C6C6FF"/>
<rect x="1429.2" y="1589.6" width="53.0" height="12.0" fill="#A2A2FF"/>
<rect x="1486.7" y="1589.6" width="53.0" height="12.0" fill="#F2868B"/>
<rect x="1544.1" y="1589.6" width="53.0" height="12.0" fill="#F06C74"/>
<rect x="1601.6" y="1589.6" width="53.0" height="12.0" fill="#F29BA0"/>
<rect x="1314.3" y="1606.1" width="53.0" height="12.0" fill="#8484FF"/>
<rect x="1371.8" y="1606.1" width="53.0" height="12.0" fill="#8484FF"/>
<rect x="1429.2" y="1606.1" width="53.0" height="12.0" fill="#8484FF"/>
<rect x="1486.7" y="1606.1" width="53.0" height="12.0" fill="#F06C74"/>
<rect x="1544.1" y="1606.1" width="53.0" height="12.0" fill="#F2868B"/>
<rect x="1601.6" y="1606.1" width="53.0" height="12.0" fill="#F29BA0"/>
<rect x="1314.3" y="1622.7" width="53.0" height="12.0" fill="#8484FF"/>
<rect x="1371.8" y="1622.7" width="53.0" height="12.0" fill="#8484FF"/>
<rect x="1429.2" y="1622.7" width="53.0" height="12.0" fill="#8484FF"/>
<rect x="1486.7" y="1622.7" width="53.0" height="12.0" fill="#F3AEB2"/>
<rect x="1544.1" y="1622.7" width="53.0" height="12.0" fill="#F06C74"/>
<rect x="1601.6" y="1622.7" width="53.0" height="12.0" fill="#F54A52"/>
<rect x="1314.3" y="1639.2" width="53.0" height="12.0" fill="#8484FF"/>
<rect x="1371.8" y="1639.2" width="53.0" height="12.0" fill="#8484FF"/>
<rect x="1429.2" y="1639.2" width="53.0" height="12.0" fill="#8484FF"/>
<rect x="1486.7" y="1639.2" width="53.0" height="12.0" fill="#F06C74"/>
<rect x="1544.1" y="1639.2" width="53.0" height="12.0" fill="#F3AEB2"/>
<rect x="1601.6" y="1639.2" width="53.0" height="12.0" fill="#F06C74"/>
<rect x="1314.3" y="1655.7" width="53.0" height="12.0" fill="#6E6CFF"/>
<rect x="1371.8" y="1655.7" width="53.0" height="12.0" fill="#8484FF"/>
<rect x="1429.2" y="1655.7" width="53.0" height="12.0" fill="#C6C6FF"/>
<rect x="1486.7" y="1655.7" width="53.0" height="12.0" fill="#F3AEB2"/>
<rect x="1544.1" y="1655.7" width="53.0" height="12.0" fill="#F2868B"/>
<rect x="1601.6" y="1655.7" width="53.0" height="12.0" fill="#F06C74"/>
<rect x="1314.3" y="1672.2" width="53.0" height="12.0" fill="#E8E8FF"/>
<rect x="1371.8" y="1672.2" width="53.0" height="12.0" fill="#5550FF"/>
<rect x="1429.2" y="1672.2" width="53.0" height="12.0" fill="#8484FF"/>
<rect x="1486.7" y="1672.2" width="53.0" height="12.0" fill="#F29BA0"/>
<rect x="1544.1" y="1672.2" width="53.0" height="12.0" fill="#F3AEB2"/>
<rect x="1601.6" y="1672.2" width="53.0" height="12.0" fill="#F06C74"/>
<rect x="1314.3" y="1688.8" width="53.0" height="12.0" fill="#A2A2FF"/>
<rect x="1371.8" y="1688.8" width="53.0" height="12.0" fill="#C6C6FF"/>
<rect x="1429.2" y="1688.8" width="53.0" height="12.0" fill="#8484FF"/>
<rect x="1486.7" y="1688.8" width="53.0" height="12.0" fill="#F2868B"/>
<rect x="1544.1" y="1688.8" width="53.0" height="12.0" fill="#FF2A2A"/>
<rect x="1601.6" y="1688.8" width="53.0" height="12.0" fill="#A2A2FF"/>
<rect x="1314.3" y="1705.3" width="53.0" height="12.0" fill="#8484FF"/>
<rect x="1371.8" y="1705.3" width="53.0" height="12.0" fill="#8484FF"/>
<rect x="1429.2" y="1705.3" width="53.0" height="12.0" fill="#8484FF"/>
<rect x="1486.7" y="1705.3" width="53.0" height="12.0" fill="#F06C74"/>
<rect x="1544.1" y="1705.3" width="53.0" height="12.0" fill="#F29BA0"/>
<rect x="1601.6" y="1705.3" width="53.0" height="12.0" fill="#F29BA0"/>
<rect x="1314.3" y="1721.8" width="53.0" height="12.0" fill="#A2A2FF"/>
<rect x="1371.8" y="1721.8" width="53.0" height="12.0" fill="#A2A2FF"/>
<rect x="1429.2" y="1721.8" width="53.0" height="12.0" fill="#A2A2FF"/>
<rect x="1486.7" y="1721.8" width="53.0" height="12.0" fill="#FF2A2A"/>
<rect x="1544.1" y="1721.8" width="53.0" height="12.0" fill="#F06C74"/>
<rect x="1601.6" y="1721.8" width="53.0" height="12.0" fill="#A2A2FF"/>
<rect x="1314.3" y="1738.3" width="53.0" height="12.0" fill="#8484FF"/>
<rect x="1371.8" y="1738.3" width="53.0" height="12.0" fill="#8484FF"/>
<rect x="1429.2" y="1738.3" width="53.0" height="12.0" fill="#8484FF"/>
<rect x="1486.7" y="1738.3" width="53.0" height="12.0" fill="#F3AEB2"/>
<rect x="1544.1" y="1738.3" width="53.0" height="12.0" fill="#F06C74"/>
<rect x="1601.6" y="1738.3" width="53.0" height="12.0" fill="#F06C74"/>
<rect x="1314.3" y="1754.8" width="53.0" height="12.0" fill="#A2A2FF"/>
<rect x="1371.8" y="1754.8" width="53.0" height="12.0" fill="#A2A2FF"/>
<rect x="1429.2" y="1754.8" width="53.0" height="12.0" fill="#A2A2FF"/>
<rect x="1486.7" y="1754.8" width="53.0" height="12.0" fill="#F54A52"/>
<rect x="1544.1" y="1754.8" width="53.0" height="12.0" fill="#F06C74"/>
<rect x="1601.6" y="1754.8" width="53.0" height="12.0" fill="#A2A2FF"/>
<rect x="1314.3" y="1771.4" width="53.0" height="12.0" fill="#8484FF"/>
<rect x="1371.8" y="1771.4" width="53.0" height="12.0" fill="#8484FF"/>
<rect x="1429.2" y="1771.4" width="53.0" height="12.0" fill="#8484FF"/>
<rect x="1486.7" y="1771.4" width="53.0" height="12.0" fill="#F06C74"/>
<rect x="1544.1" y="1771.4" width="53.0" height="12.0" fill="#F29BA0"/>
<rect x="1601.6" y="1771.4" width="53.0" height="12.0" fill="#F29BA0"/>
<rect x="1314.3" y="1787.9" width="53.0" height="12.0" fill="#8484FF"/>
<rect x="1371.8" y="1787.9" width="53.0" height="12.0" fill="#8484FF"/>
<rect x="1429.2" y="1787.9" width="53.0" height="12.0" fill="#8484FF"/>
<rect x="1486.7" y="1787.9" width="53.0" height="12.0" fill="#F29BA0"/>
<rect x="1544.1" y="1787.9" width="53.0" height="12.0" fill="#F29BA0"/>
<rect x="1601.6" y="1787.9" width="53.0" height="12.0" fill="#F06C74"/>
<rect x="1314.3" y="1804.4" width="53.0" height="12.0" fill="#5550FF"/>
<rect x="1371.8" y="1804.4" width="53.0" height="12.0" fill="#F29BA0"/>
<rect x="1429.2" y="1804.4" width="53.0" height="12.0" fill="#5550FF"/>
<rect x="1486.7" y="1804.4" width="53.0" height="12.0" fill="#F29BA0"/>
<rect x="1544.1" y="1804.4" width="53.0" height="12.0" fill="#F29BA0"/>
<rect x="1601.6" y="1804.4" width="53.0" height="12.0" fill="#F3AEB2"/>
<rect x="1314.3" y="1820.9" width="53.0" height="12.0" fill="#8484FF"/>
<rect x="1371.8" y="1820.9" width="53.0" height="12.0" fill="#8484FF"/>
<rect x="1429.2" y="1820.9" width="53.0" height="12.0" fill="#8484FF"/>
<rect x="1486.7" y="1820.9" width="53.0" height="12.0" fill="#F29BA0"/>
<rect x="1544.1" y="1820.9" width="53.0" height="12.0" fill="#F06C74"/>
<rect x="1601.6" y="1820.9" width="53.0" height="12.0" fill="#F29BA0"/>
<rect x="1314.3" y="1837.4" width="53.0" height="12.0" fill="#8484FF"/>
<rect x="1371.8" y="1837.4" width="53.0" height="12.0" fill="#8484FF"/>
<rect x="1429.2" y="1837.4" width="53.0" height="12.0" fill="#8484FF"/>
<rect x="1486.7" y="1837.4" width="53.0" height="12.0" fill="#F2868B"/>
<rect x="1544.1" y="1837.4" width="53.0" height="12.0" fill="#F2868B"/>
<rect x="1601.6" y="1837.4" width="53.0" height="12.0" fill="#F29BA0"/>
<rect x="1314.3" y="1854.0" width="53.0" height="12.0" fill="#8484FF"/>
<rect x="1371.8" y="1854.0" width="53.0" height="12.0" fill="#8484FF"/>
<rect x="1429.2" y="1854.0" width="53.0" height="12.0" fill="#8484FF"/>
<rect x="1486.7" y="1854.0" width="53.0" height="12.0" fill="#F06C74"/>
<rect x="1544.1" y="1854.0" width="53.0" height="12.0" fill="#F2868B"/>
<rect x="1601.6" y="1854.0" width="53.0" height="12.0" fill="#F29BA0"/>
<rect x="1314.3" y="1870.5" width="53.0" height="12.0" fill="#8484FF"/>
<rect x="1371.8" y="1870.5" width="53.0" height="12.0" fill="#8484FF"/>
<rect x="1429.2" y="1870.5" width="53.0" height="12.0" fill="#8484FF"/>
<rect x="1486.7" y="1870.5" width="53.0" height="12.0" fill="#F2868B"/>
<rect x="1544.1" y="1870.5" width="53.0" height="12.0" fill="#F3AEB2"/>
<rect x="1601.6" y="1870.5" width="53.0" height="12.0" fill="#F06C74"/>
<rect x="1314.3" y="1887.0" width="53.0" height="12.0" fill="#8484FF"/>
<rect x="1371.8" y="1887.0" width="53.0" height="12.0" fill="#8484FF"/>
<rect x="1429.2" y="1887.0" width="53.0" height="12.0" fill="#8484FF"/>
<rect x="1486.7" y="1887.0" width="53.0" height="12.0" fill="#F2868B"/>
<rect x="1544.1" y="1887.0" width="53.0" height="12.0" fill="#F2868B"/>
<rect x="1601.6" y="1887.0" width="53.0" height="12.0" fill="#F2868B"/>
<rect x="1314.3" y="1903.5" width="53.0" height="12.0" fill="#8484FF"/>
<rect x="1371.8" y="1903.5" width="53.0" height="12.0" fill="#8484FF"/>
<rect x="1429.2" y="1903.5" width="53.0" height="12.0" fill="#8484FF"/>
<rect x="1486.7" y="1903.5" width="53.0" height="12.0" fill="#F2868B"/>
<rect x="1544.1" y="1903.5" width="53.0" height="12.0" fill="#F3AEB2"/>
<rect x="1601.6" y="1903.5" width="53.0" height="12.0" fill="#F06C74"/>
<rect x="1314.3" y="1920.1" width="53.0" height="12.0" fill="#A2A2FF"/>
<rect x="1371.8" y="1920.1" width="53.0" height="12.0" fill="#A2A2FF"/>
<rect x="1429.2" y="1920.1" width="53.0" height="12.0" fill="#A2A2FF"/>
<rect x="1486.7" y="1920.1" width="53.0" height="12.0" fill="#A2A2FF"/>
<rect x="1544.1" y="1920.1" width="53.0" height="12.0" fill="#F2868B"/>
<rect x="1601.6" y="1920.1" width="53.0" height="12.0" fill="#FF2A2A"/>
<rect x="1314.3" y="1936.6" width="53.0" height="12.0" fill="#8484FF"/>
<rect x="1371.8" y="1936.6" width="53.0" height="12.0" fill="#8484FF"/>
<rect x="1429.2" y="1936.6" width="53.0" height="12.0" fill="#8484FF"/>
<rect x="1486.7" y="1936.6" width="53.0" height="12.0" fill="#F29BA0"/>
<rect x="1544.1" y="1936.6" width="53.0" height="12.0" fill="#F2868B"/>
<rect x="1601.6" y="1936.6" width="53.0" height="12.0" fill="#F2868B"/>
<rect x="1314.3" y="1953.1" width="53.0" height="12.0" fill="#8484FF"/>
<rect x="1371.8" y="1953.1" width="53.0" height="12.0" fill="#8484FF"/>
<rect x="1429.2" y="1953.1" width="53.0" height="12.0" fill="#8484FF"/>
<rect x="1486.7" y="1953.1" width="53.0" height="12.0" fill="#F2868B"/>
<rect x="1544.1" y="1953.1" width="53.0" height="12.0" fill="#F06C74"/>
<rect x="1601.6" y="1953.1" width="53.0" height="12.0" fill="#F29BA0"/>
<rect x="1314.3" y="1969.6" width="53.0" height="12.0" fill="#1414FF"/>
<rect x="1371.8" y="1969.6" width="53.0" height="12.0" fill="#C6C6FF"/>
<rect x="1429.2" y="1969.6" width="53.0" height="12.0" fill="#C6C6FF"/>
<rect x="1486.7" y="1969.6" width="53.0" height="12.0" fill="#F29BA0"/>
<rect x="1544.1" y="1969.6" width="53.0" height="12.0" fill="#F06C74"/>
<rect x="1601.6" y="1969.6" width="53.0" height="12.0" fill="#F29BA0"/>
<rect x="1314.3" y="1986.1" width="53.0" height="12.0" fill="#8484FF"/>
<rect x="1371.8" y="1986.1" width="53.0" height="12.0" fill="#8484FF"/>
<rect x="1429.2" y="1986.1" width="53.0" height="12.0" fill="#8484FF"/>
<rect x="1486.7" y="1986.1" width="53.0" height="12.0" fill="#F29BA0"/>
<rect x="1544.1" y="1986.1" width="53.0" height="12.0" fill="#F06C74"/>
<rect x="1601.6" y="1986.1" width="53.0" height="12.0" fill="#F06C74"/>
<rect x="1314.3" y="2002.7" width="53.0" height="12.0" fill="#8484FF"/>
<rect x="1371.8" y="2002.7" width="53.0" height="12.0" fill="#8484FF"/>
<rect x="1429.2" y="2002.7" width="53.0" height="12.0" fill="#8484FF"/>
<rect x="1486.7" y="2002.7" width="53.0" height="12.0" fill="#F2868B"/>
<rect x="1544.1" y="2002.7" width="53.0" height="12.0" fill="#F2868B"/>
<rect x="1601.6" y="2002.7" width="53.0" height="12.0" fill="#F2868B"/>
<rect x="1314.3" y="2019.2" width="53.0" height="12.0" fill="#5550FF"/>
<rect x="1371.8" y="2019.2" width="53.0" height="12.0" fill="#8484FF"/>
<rect x="1429.2" y="2019.2" width="53.0" height="12.0" fill="#E8E8FF"/>
<rect x="1486.7" y="2019.2" width="53.0" height="12.0" fill="#F29BA0"/>
<rect x="1544.1" y="2019.2" width="53.0" height="12.0" fill="#F2868B"/>
<rect x="1601.6" y="2019.2" width="53.0" height="12.0" fill="#F06C74"/>
<rect x="1314.3" y="2035.7" width="53.0" height="12.0" fill="#8484FF"/>
<rect x="1371.8" y="2035.7" width="53.0" height="12.0" fill="#8484FF"/>
<rect x="1429.2" y="2035.7" width="53.0" height="12.0" fill="#8484FF"/>
<rect x="1486.7" y="2035.7" width="53.0" height="12.0" fill="#F06C74"/>
<rect x="1544.1" y="2035.7" width="53.0" height="12.0" fill="#F2868B"/>
<rect x="1601.6" y="2035.7" width="53.0" height="12.0" fill="#F3AEB2"/>
<rect x="1314.3" y="2052.2" width="53.0" height="12.0" fill="#8484FF"/>
<rect x="1371.8" y="2052.2" width="53.0" height="12.0" fill="#6E6CFF"/>
<rect x="1429.2" y="2052.2" width="53.0" height="12.0" fill="#A2A2FF"/>
<rect x="1486.7" y="2052.2" width="53.0" height="12.0" fill="#F6D8DA"/>
<rect x="1544.1" y="2052.2" width="53.0" height="12.0" fill="#F29BA0"/>
<rect x="1601.6" y="2052.2" width="53.0" height="12.0" fill="#FF2A2A"/>
<rect x="1314.3" y="2068.8" width="53.0" height="12.0" fill="#8484FF"/>
<rect x="1371.8" y="2068.8" width="53.0" height="12.0" fill="#8484FF"/>
<rect x="1429.2" y="2068.8" width="53.0" height="12.0" fill="#8484FF"/>
<rect x="1486.7" y="2068.8" width="53.0" height="12.0" fill="#F2868B"/>
<rect x="1544.1" y="2068.8" width="53.0" height="12.0" fill="#F29BA0"/>
<rect x="1601.6" y="2068.8" width="53.0" height="12.0" fill="#F2868B"/>
<rect x="1314.3" y="2085.3" width="53.0" height="12.0" fill="#8484FF"/>
<rect x="1371.8" y="2085.3" width="53.0" height="12.0" fill="#8484FF"/>
<rect x="1429.2" y="2085.3" width="53.0" height="12.0" fill="#8484FF"/>
<rect x="1486.7" y="2085.3" width="53.0" height="12.0" fill="#F2868B"/>
<rect x="1544.1" y="2085.3" width="53.0" height="12.0" fill="#F2868B"/>
<rect x="1601.6" y="2085.3" width="53.0" height="12.0" fill="#F2868B"/>
<rect x="1314.3" y="2101.8" width="53.0" height="12.0" fill="#8484FF"/>
<rect x="1371.8" y="2101.8" width="53.0" height="12.0" fill="#A2A2FF"/>
<rect x="1429.2" y="2101.8" width="53.0" height="12.0" fill="#6E6CFF"/>
<rect x="1486.7" y="2101.8" width="53.0" height="12.0" fill="#F2868B"/>
<rect x="1544.1" y="2101.8" width="53.0" height="12.0" fill="#F06C74"/>
<rect x="1601.6" y="2101.8" width="53.0" height="12.0" fill="#F29BA0"/>
<rect x="1314.3" y="2118.3" width="53.0" height="12.0" fill="#6E6CFF"/>
<rect x="1371.8" y="2118.3" width="53.0" height="12.0" fill="#A2A2FF"/>
<rect x="1429.2" y="2118.3" width="53.0" height="12.0" fill="#6E6CFF"/>
<rect x="1486.7" y="2118.3" width="53.0" height="12.0" fill="#F29BA0"/>
<rect x="1544.1" y="2118.3" width="53.0" height="12.0" fill="#F54A52"/>
<rect x="1601.6" y="2118.3" width="53.0" height="12.0" fill="#F29BA0"/>
<rect x="1314.3" y="2134.8" width="53.0" height="12.0" fill="#5550FF"/>
<rect x="1371.8" y="2134.8" width="53.0" height="12.0" fill="#C6C6FF"/>
<rect x="1429.2" y="2134.8" width="53.0" height="12.0" fill="#A2A2FF"/>
<rect x="1486.7" y="2134.8" width="53.0" height="12.0" fill="#F06C74"/>
<rect x="1544.1" y="2134.8" width="53.0" height="12.0" fill="#F29BA0"/>
<rect x="1601.6" y="2134.8" width="53.0" height="12.0" fill="#F29BA0"/>
<rect x="1314.3" y="2151.4" width="53.0" height="12.0" fill="#8484FF"/>
<rect x="1371.8" y="2151.4" width="53.0" height="12.0" fill="#5550FF"/>
<rect x="1429.2" y="2151.4" width="53.0" height="12.0" fill="#E8E8FF"/>
<rect x="1486.7" y="2151.4" width="53.0" height="12.0" fill="#F54A52"/>
<rect x="1544.1" y="2151.4" width="53.0" height="12.0" fill="#F3AEB2"/>
<rect x="1601.6" y="2151.4" width="53.0" height="12.0" fill="#F29BA0"/>
<rect x="1314.3" y="2167.9" width="53.0" height="12.0" fill="#8484FF"/>
<rect x="1371.8" y="2167.9" width="53.0" height="12.0" fill="#8484FF"/>
<rect x="1429.2" y="2167.9" width="53.0" height="12.0" fill="#8484FF"/>
<rect x="1486.7" y="2167.9" width="53.0" height="12.0" fill="#F2868B"/>
<rect x="1544.1" y="2167.9" width="53.0" height="12.0" fill="#F06C74"/>
<rect x="1601.6" y="2167.9" width="53.0" height="12.0" fill="#F29BA0"/>
<rect x="1314.3" y="2184.4" width="53.0" height="12.0" fill="#1414FF"/>
<rect x="1371.8" y="2184.4" width="53.0" height="12.0" fill="#FBFBFB"/>
<rect x="1429.2" y="2184.4" width="53.0" height="12.0" fill="#C6C6FF"/>
<rect x="1486.7" y="2184.4" width="53.0" height="12.0" fill="#F29BA0"/>
<rect x="1544.1" y="2184.4" width="53.0" height="12.0" fill="#F2868B"/>
<rect x="1601.6" y="2184.4" width="53.0" height="12.0" fill="#F2868B"/>
<rect x="1314.3" y="2200.9" width="53.0" height="12.0" fill="#8484FF"/>
<rect x="1371.8" y="2200.9" width="53.0" height="12.0" fill="#6E6CFF"/>
<rect x="1429.2" y="2200.9" width="53.0" height="12.0" fill="#C6C6FF"/>
<rect x="1486.7" y="2200.9" width="53.0" height="12.0" fill="#F6D8DA"/>
<rect x="1544.1" y="2200.9" width="53.0" height="12.0" fill="#F06C74"/>
<rect x="1601.6" y="2200.9" width="53.0" height="12.0" fill="#F54A52"/>
<rect x="1314.3" y="2217.4" width="53.0" height="12.0" fill="#6E6CFF"/>
<rect x="1371.8" y="2217.4" width="53.0" height="12.0" fill="#C6C6FF"/>
<rect x="1429.2" y="2217.4" width="53.0" height="12.0" fill="#8484FF"/>
<rect x="1486.7" y="2217.4" width="53.0" height="12.0" fill="#F06C74"/>
<rect x="1544.1" y="2217.4" width="53.0" height="12.0" fill="#F29BA0"/>
<rect x="1601.6" y="2217.4" width="53.0" height="12.0" fill="#F3AEB2"/>
<rect x="1314.3" y="2234.0" width="53.0" height="12.0" fill="#8484FF"/>
<rect x="1371.8" y="2234.0" width="53.0" height="12.0" fill="#8484FF"/>
<rect x="1429.2" y="2234.0" width="53.0" height="12.0" fill="#8484FF"/>
<rect x="1486.7" y="2234.0" width="53.0" height="12.0" fill="#F29BA0"/>
<rect x="1544.1" y="2234.0" width="53.0" height="12.0" fill="#F29BA0"/>
<rect x="1601.6" y="2234.0" width="53.0" height="12.0" fill="#F54A52"/>
<rect x="1314.3" y="2250.5" width="53.0" height="12.0" fill="#8484FF"/>
<rect x="1371.8" y="2250.5" width="53.0" height="12.0" fill="#8484FF"/>
<rect x="1429.2" y="2250.5" width="53.0" height="12.0" fill="#E8E8FF"/>
<rect x="1486.7" y="2250.5" width="53.0" height="12.0" fill="#F06C74"/>
<rect x="1544.1" y="2250.5" width="53.0" height="12.0" fill="#F54A52"/>
<rect x="1601.6" y="2250.5" width="53.0" height="12.0" fill="#C6C6FF"/>
<rect x="1314.3" y="2267.0" width="53.0" height="12.0" fill="#6E6CFF"/>
<rect x="1371.8" y="2267.0" width="53.0" height="12.0" fill="#8484FF"/>
<rect x="1429.2" y="2267.0" width="53.0" height="12.0" fill="#E8E8FF"/>
<rect x="1486.7" y="2267.0" width="53.0" height="12.0" fill="#F06C74"/>
<rect x="1544.1" y="2267.0" width="53.0" height="12.0" fill="#F6D8DA"/>
<rect x="1601.6" y="2267.0" width="53.0" height="12.0" fill="#F06C74"/>
<rect x="1314.3" y="2283.5" width="53.0" height="12.0" fill="#1414FF"/>
<rect x="1371.8" y="2283.5" width="53.0" height="12.0" fill="#C6C6FF"/>
<rect x="1429.2" y="2283.5" width="53.0" height="12.0" fill="#C6C6FF"/>
<rect x="1486.7" y="2283.5" width="53.0" height="12.0" fill="#F29BA0"/>
<rect x="1544.1" y="2283.5" width="53.0" height="12.0" fill="#F06C74"/>
<rect x="1601.6" y="2283.5" width="53.0" height="12.0" fill="#F29BA0"/>
<rect x="1314.3" y="2300.1" width="53.0" height="12.0" fill="#5550FF"/>
<rect x="1371.8" y="2300.1" width="53.0" height="12.0" fill="#5550FF"/>
<rect x="1429.2" y="2300.1" width="53.0" height="12.0" fill="#F29BA0"/>
<rect x="1486.7" y="2300.1" width="53.0" height="12.0" fill="#F3AEB2"/>
<rect x="1544.1" y="2300.1" width="53.0" height="12.0" fill="#F29BA0"/>
<rect x="1601.6" y="2300.1" width="53.0" height="12.0" fill="#F3AEB2"/>
<rect x="1314.3" y="2316.6" width="53.0" height="12.0" fill="#8484FF"/>
<rect x="1371.8" y="2316.6" width="53.0" height="12.0" fill="#8484FF"/>
<rect x="1429.2" y="2316.6" width="53.0" height="12.0" fill="#8484FF"/>
<rect x="1486.7" y="2316.6" width="53.0" height="12.0" fill="#F6D8DA"/>
<rect x="1544.1" y="2316.6" width="53.0" height="12.0" fill="#F06C74"/>
<rect x="1601.6" y="2316.6" width="53.0" height="12.0" fill="#F54A52"/>
<rect x="1314.3" y="2333.1" width="53.0" height="12.0" fill="#8484FF"/>
<rect x="1371.8" y="2333.1" width="53.0" height="12.0" fill="#8484FF"/>
<rect x="1429.2" y="2333.1" width="53.0" height="12.0" fill="#8484FF"/>
<rect x="1486.7" y="2333.1" width="53.0" height="12.0" fill="#F2868B"/>
<rect x="1544.1" y="2333.1" width="53.0" height="12.0" fill="#F29BA0"/>
<rect x="1601.6" y="2333.1" width="53.0" height="12.0" fill="#F2868B"/>
<rect x="1314.3" y="2349.6" width="53.0" height="12.0" fill="#6E6CFF"/>
<rect x="1371.8" y="2349.6" width="53.0" height="12.0" fill="#8484FF"/>
<rect x="1429.2" y="2349.6" width="53.0" height="12.0" fill="#C6C6FF"/>
<rect x="1486.7" y="2349.6" width="53.0" height="12.0" fill="#F29BA0"/>
<rect x="1544.1" y="2349.6" width="53.0" height="12.0" fill="#F29BA0"/>
<rect x="1601.6" y="2349.6" width="53.0" height="12.0" fill="#F06C74"/>
<rect x="1314.3" y="2366.1" width="53.0" height="12.0" fill="#A2A2FF"/>
<rect x="1371.8" y="2366.1" width="53.0" height="12.0" fill="#5550FF"/>
<rect x="1429.2" y="2366.1" width="53.0" height="12.0" fill="#C6C6FF"/>
<rect x="1486.7" y="2366.1" width="53.0" height="12.0" fill="#F54A52"/>
<rect x="1544.1" y="2366.1" width="53.0" height="12.0" fill="#F3AEB2"/>
<rect x="1601.6" y="2366.1" width="53.0" height="12.0" fill="#F6D8DA"/>
<rect x="1314.3" y="2382.7" width="53.0" height="12.0" fill="#8484FF"/>
<rect x="1371.8" y="2382.7" width="53.0" height="12.0" fill="#8484FF"/>
<rect x="1429.2" y="2382.7" width="53.0" height="12.0" fill="#8484FF"/>
<rect x="1486.7" y="2382.7" width="53.0" height="12.0" fill="#F06C74"/>
<rect x="1544.1" y="2382.7" width="53.0" height="12.0" fill="#F29BA0"/>
<rect x="1601.6" y="2382.7" width="53.0" height="12.0" fill="#F29BA0"/>
<rect x="1314.3" y="2399.2" width="53.0" height="12.0" fill="#8484FF"/>
<rect x="1371.8" y="2399.2" width="53.0" height="12.0" fill="#A2A2FF"/>
<rect x="1429.2" y="2399.2" width="53.0" height="12.0" fill="#8484FF"/>
<rect x="1486.7" y="2399.2" width="53.0" height="12.0" fill="#FF2A2A"/>
<rect x="1544.1" y="2399.2" width="53.0" height="12.0" fill="#FBFBFB"/>
<rect x="1601.6" y="2399.2" width="53.0" height="12.0" fill="#F29BA0"/>
<rect x="1314.3" y="2415.7" width="53.0" height="12.0" fill="#8484FF"/>
<rect x="1371.8" y="2415.7" width="53.0" height="12.0" fill="#8484FF"/>
<rect x="1429.2" y="2415.7" width="53.0" height="12.0" fill="#A2A2FF"/>
<rect x="1486.7" y="2415.7" width="53.0" height="12.0" fill="#F2868B"/>
<rect x="1544.1" y="2415.7" width="53.0" height="12.0" fill="#F29BA0"/>
<rect x="1601.6" y="2415.7" width="53.0" height="12.0" fill="#F06C74"/>
<rect x="1314.3" y="2432.2" width="53.0" height="12.0" fill="#8484FF"/>
<rect x="1371.8" y="2432.2" width="53.0" height="12.0" fill="#8484FF"/>
<rect x="1429.2" y="2432.2" width="53.0" height="12.0" fill="#8484FF"/>
<rect x="1486.7" y="2432.2" width="53.0" height="12.0" fill="#F06C74"/>
<rect x="1544.1" y="2432.2" width="53.0" height="12.0" fill="#F29BA0"/>
<rect x="1601.6" y="2432.2" width="53.0" height="12.0" fill="#F2868B"/>
<rect x="1314.3" y="2448.8" width="53.0" height="12.0" fill="#6E6CFF"/>
<rect x="1371.8" y="2448.8" width="53.0" height="12.0" fill="#6E6CFF"/>
<rect x="1429.2" y="2448.8" width="53.0" height="12.0" fill="#E8E8FF"/>
<rect x="1486.7" y="2448.8" width="53.0" height="12.0" fill="#F2868B"/>
<rect x="1544.1" y="2448.8" width="53.0" height="12.0" fill="#F2868B"/>
<rect x="1601.6" y="2448.8" width="53.0" height="12.0" fill="#F29BA0"/>
<rect x="1314.3" y="2465.3" width="53.0" height="12.0" fill="#5550FF"/>
<rect x="1371.8" y="2465.3" width="53.0" height="12.0" fill="#A2A2FF"/>
<rect x="1429.2" y="2465.3" width="53.0" height="12.0" fill="#C6C6FF"/>
<rect x="1486.7" y="2465.3" width="53.0" height="12.0" fill="#F06C74"/>
<rect x="1544.1" y="2465.3" width="53.0" height="12.0" fill="#F06C74"/>
<rect x="1601.6" y="2465.3" width="53.0" height="12.0" fill="#F6D8DA"/>
<rect x="1314.3" y="2481.8" width="53.0" height="12.0" fill="#6E6CFF"/>
<rect x="1371.8" y="2481.8" width="53.0" height="12.0" fill="#A2A2FF"/>
<rect x="1429.2" y="2481.8" width="53.0" height="12.0" fill="#8484FF"/>
<rect x="1486.7" y="2481.8" width="53.0" height="12.0" fill="#F2868B"/>
<rect x="1544.1" y="2481.8" width="53.0" height="12.0" fill="#F06C74"/>
<rect x="1601.6" y="2481.8" width="53.0" height="12.0" fill="#F3AEB2"/>
<rect x="1314.3" y="2498.3" width="53.0" height="12.0" fill="#8484FF"/>
<rect x="1371.8" y="2498.3" width="53.0" height="12.0" fill="#8484FF"/>
<rect x="1429.2" y="2498.3" width="53.0" height="12.0" fill="#8484FF"/>
<rect x="1486.7" y="2498.3" width="53.0" height="12.0" fill="#F2868B"/>
<rect x="1544.1" y="2498.3" width="53.0" height="12.0" fill="#F2868B"/>
<rect x="1601.6" y="2498.3" width="53.0" height="12.0" fill="#F06C74"/>
<rect x="1314.3" y="2514.8" width="53.0" height="12.0" fill="#1414FF"/>
<rect x="1371.8" y="2514.8" width="53.0" height="12.0" fill="#FBFBFB"/>
<rect x="1429.2" y="2514.8" width="53.0" height="12.0" fill="#F6D8DA"/>
<rect x="1486.7" y="2514.8" width="53.0" height="12.0" fill="#F3AEB2"/>
<rect x="1544.1" y="2514.8" width="53.0" height="12.0" fill="#F3AEB2"/>
<rect x="1601.6" y="2514.8" width="53.0" height="12.0" fill="#F29BA0"/>
<rect x="1314.3" y="2531.4" width="53.0" height="12.0" fill="#8484FF"/>
<rect x="1371.8" y="2531.4" width="53.0" height="12.0" fill="#8484FF"/>
<rect x="1429.2" y="2531.4" width="53.0" height="12.0" fill="#8484FF"/>
<rect x="1486.7" y="2531.4" width="53.0" height="12.0" fill="#F2868B"/>
<rect x="1544.1" y="2531.4" width="53.0" height="12.0" fill="#F06C74"/>
<rect x="1601.6" y="2531.4" width="53.0" height="12.0" fill="#F29BA0"/>
<rect x="1314.3" y="2547.9" width="53.0" height="12.0" fill="#E8E8FF"/>
<rect x="1371.8" y="2547.9" width="53.0" height="12.0" fill="#8484FF"/>
<rect x="1429.2" y="2547.9" width="53.0" height="12.0" fill="#5550FF"/>
<rect x="1486.7" y="2547.9" width="53.0" height="12.0" fill="#F2868B"/>
<rect x="1544.1" y="2547.9" width="53.0" height="12.0" fill="#F29BA0"/>
<rect x="1601.6" y="2547.9" width="53.0" height="12.0" fill="#F2868B"/>
<rect x="1314.3" y="2564.4" width="53.0" height="12.0" fill="#6E6CFF"/>
<rect x="1371.8" y="2564.4" width="53.0" height="12.0" fill="#C6C6FF"/>
<rect x="1429.2" y="2564.4" width="53.0" height="12.0" fill="#8484FF"/>
<rect x="1486.7" y="2564.4" width="53.0" height="12.0" fill="#F54A52"/>
<rect x="1544.1" y="2564.4" width="53.0" height="12.0" fill="#F06C74"/>
<rect x="1601.6" y="2564.4" width="53.0" height="12.0" fill="#F6D8DA"/>
<rect x="1314.3" y="2580.9" width="53.0" height="12.0" fill="#8484FF"/>
<rect x="1371.8" y="2580.9" width="53.0" height="12.0" fill="#8484FF"/>
<rect x="1429.2" y="2580.9" width="53.0" height="12.0" fill="#8484FF"/>
<rect x="1486.7" y="2580.9" width="53.0" height="12.0" fill="#F29BA0"/>
<rect x="1544.1" y="2580.9" width="53.0" height="12.0" fill="#F06C74"/>
<rect x="1601.6" y="2580.9" width="53.0" height="12.0" fill="#F06C74"/>
<rect x="1314.3" y="2597.4" width="53.0" height="12.0" fill="#6E6CFF"/>
<rect x="1371.8" y="2597.4" width="53.0" height="12.0" fill="#C6C6FF"/>
<rect x="1429.2" y="2597.4" width="53.0" height="12.0" fill="#A2A2FF"/>
<rect x="1486.7" y="2597.4" width="53.0" height="12.0" fill="#F06C74"/>
<rect x="1544.1" y="2597.4" width="53.0" height="12.0" fill="#E8E8FF"/>
<rect x="1601.6" y="2597.4" width="53.0" height="12.0" fill="#F54A52"/>
<rect x="1314.3" y="2614.0" width="53.0" height="12.0" fill="#E8E8FF"/>
<rect x="1371.8" y="2614.0" width="53.0" height="12.0" fill="#C6C6FF"/>
<rect x="1429.2" y="2614.0" width="53.0" height="12.0" fill="#1414FF"/>
<rect x="1486.7" y="2614.0" width="53.0" height="12.0" fill="#F29BA0"/>
<rect x="1544.1" y="2614.0" width="53.0" height="12.0" fill="#F2868B"/>
<rect x="1601.6" y="2614.0" width="53.0" height="12.0" fill="#F29BA0"/>
<rect x="1314.3" y="2630.5" width="53.0" height="12.0" fill="#5550FF"/>
<rect x="1371.8" y="2630.5" width="53.0" height="12.0" fill="#5550FF"/>
<rect x="1429.2" y="2630.5" width="53.0" height="12.0" fill="#F6D8DA"/>
<rect x="1486.7" y="2630.5" width="53.0" height="12.0" fill="#F29BA0"/>
<rect x="1544.1" y="2630.5" width="53.0" height="12.0" fill="#F29BA0"/>
<rect x="1601.6" y="2630.5" width="53.0" height="12.0" fill="#F29BA0"/>
<rect x="1314.3" y="2647.0" width="53.0" height="12.0" fill="#5550FF"/>
<rect x="1371.8" y="2647.0" width="53.0" height="12.0" fill="#A2A2FF"/>
<rect x="1429.2" y="2647.0" width="53.0" height="12.0" fill="#C6C6FF"/>
<rect x="1486.7" y="2647.0" width="53.0" height="12.0" fill="#F06C74"/>
<rect x="1544.1" y="2647.0" width="53.0" height="12.0" fill="#F2868B"/>
<rect x="1601.6" y="2647.0" width="53.0" height="12.0" fill="#F3AEB2"/>
<rect x="1314.3" y="2663.5" width="53.0" height="12.0" fill="#A2A2FF"/>
<rect x="1371.8" y="2663.5" width="53.0" height="12.0" fill="#8484FF"/>
<rect x="1429.2" y="2663.5" width="53.0" height="12.0" fill="#C6C6FF"/>
<rect x="1486.7" y="2663.5" width="53.0" height="12.0" fill="#FF2A2A"/>
<rect x="1544.1" y="2663.5" width="53.0" height="12.0" fill="#F3AEB2"/>
<rect x="1601.6" y="2663.5" width="53.0" height="12.0" fill="#C6C6FF"/>
<rect x="1314.3" y="2680.1" width="53.0" height="12.0" fill="#8484FF"/>
<rect x="1371.8" y="2680.1" width="53.0" height="12.0" fill="#8484FF"/>
<rect x="1429.2" y="2680.1" width="53.0" height="12.0" fill="#8484FF"/>
<rect x="1486.7" y="2680.1" width="53.0" height="12.0" fill="#F2868B"/>
<rect x="1544.1" y="2680.1" width="53.0" height="12.0" fill="#F2868B"/>
<rect x="1601.6" y="2680.1" width="53.0" height="12.0" fill="#F2868B"/>
<rect x="1314.3" y="2696.6" width="53.0" height="12.0" fill="#A2A2FF"/>
<rect x="1371.8" y="2696.6" width="53.0" height="12.0" fill="#A2A2FF"/>
<rect x="1429.2" y="2696.6" width="53.0" height="12.0" fill="#A2A2FF"/>
<rect x="1486.7" y="2696.6" width="53.0" height="12.0" fill="#F06C74"/>
<rect x="1544.1" y="2696.6" width="53.0" height="12.0" fill="#FF2A2A"/>
<rect x="1601.6" y="2696.6" width="53.0" height="12.0" fill="#A2A2FF"/>
<text x="1671.8" y="1581.4" font-size="19.7">CRN-3</text>
<text x="1671.8" y="1598.0" font-size="19.7">HRDE-1</text>
<text x="1671.8" y="1614.6" font-size="19.7">HRDE-3</text>
<text x="1671.8" y="1631.2" font-size="19.7">Y53F4B.39</text>
<text x="1671.8" y="1647.8" font-size="19.7">C27F2.10</text>
<text x="1671.8" y="1664.4" font-size="19.7">ADR-1</text>
<text x="1671.8" y="1681.0" font-size="19.7">ALY-3</text>
<text x="1671.8" y="1697.6" font-size="19.7" fill="#E02828">CAR-1</text>
<line x1="1658.5" y1="1694.6" x2="1667.5" y2="1694.6" stroke="#000" stroke-width="3.4" />
<text x="1671.8" y="1714.2" font-size="19.7">CFIM-2</text>
<text x="1671.8" y="1730.8" font-size="19.7">CPSF-1</text>
<text x="1671.8" y="1747.4" font-size="19.7">CPSF-2</text>
<text x="1671.8" y="1764.0" font-size="19.7">CPSF-3</text>
<text x="1671.8" y="1780.6" font-size="19.7">C02B10.4</text>
<text x="1671.8" y="1797.2" font-size="19.7" fill="#E02828">DCAP-1</text>
<line x1="1658.5" y1="1794.2" x2="1667.5" y2="1794.2" stroke="#000" stroke-width="3.4" />
<text x="1671.8" y="1813.8" font-size="19.7">EDC-3</text>
<text x="1671.8" y="1830.4" font-size="19.7">FASK-1</text>
<text x="1671.8" y="1847.0" font-size="19.7">LUC-7L</text>
<text x="1671.8" y="1863.6" font-size="19.7">PCF-11</text>
<text x="1671.8" y="1880.2" font-size="19.7">RSP-6</text>
<text x="1671.8" y="1896.8" font-size="19.7" fill="#E02828">RBM-25</text>
<line x1="1658.5" y1="1893.8" x2="1667.5" y2="1893.8" stroke="#000" stroke-width="3.4" />
<text x="1671.8" y="1913.4" font-size="19.7">RBM-26</text>
<text x="1671.8" y="1930.0" font-size="19.7">RBM-39</text>
<text x="1671.8" y="1946.6" font-size="19.7">SSB-1</text>
<text x="1671.8" y="1963.2" font-size="19.7">SUF-1</text>
<text x="1671.8" y="1979.8" font-size="19.7">SPT-5</text>
<text x="1671.8" y="1996.4" font-size="19.7">TIAR-1</text>
<text x="1671.8" y="2013.0" font-size="19.7">THOC-5</text>
<text x="1671.8" y="2029.6" font-size="19.7">VGLN-1</text>
<text x="1671.8" y="2046.2" font-size="19.7">TAG-72</text>
<text x="1671.8" y="2062.8" font-size="19.7">NCBP-1</text>
<text x="1671.8" y="2079.4" font-size="19.7">GEX-2</text>
<text x="1671.8" y="2096.0" font-size="19.7">MMA-1</text>
<text x="1671.8" y="2112.6" font-size="19.7">PUF-3</text>
<text x="1671.8" y="2129.2" font-size="19.7">PUF-11</text>
<text x="1671.8" y="2145.8" font-size="19.7">PUF-12</text>
<text x="1671.8" y="2162.4" font-size="19.7">MEL-32</text>
<text x="1671.8" y="2179.0" font-size="19.7">BYN-1</text>
<text x="1671.8" y="2195.6" font-size="19.7">F13H8.2</text>
<text x="1671.8" y="2212.2" font-size="19.7" fill="#E02828">NOL-56</text>
<line x1="1658.5" y1="2209.2" x2="1667.5" y2="2209.2" stroke="#000" stroke-width="3.4" />
<text x="1671.8" y="2228.8" font-size="19.7" fill="#E02828">TOE-1</text>
<line x1="1658.5" y1="2225.8" x2="1667.5" y2="2225.8" stroke="#000" stroke-width="3.4" />
<text x="1671.8" y="2245.4" font-size="19.7">ZK795.3</text>
<text x="1671.8" y="2262.0" font-size="19.7">LIN-23</text>
<text x="1671.8" y="2278.6" font-size="19.7">TAG-151</text>
<text x="1671.8" y="2295.2" font-size="19.7">PRP-8</text>
<text x="1671.8" y="2311.8" font-size="19.7">Y17G7B.18</text>
<text x="1671.8" y="2328.4" font-size="19.7">MOG-2</text>
<text x="1671.8" y="2345.0" font-size="19.7">LSM-4</text>
<text x="1671.8" y="2361.6" font-size="19.7">AARS-2</text>
<text x="1671.8" y="2378.2" font-size="19.7">CARS-1</text>
<text x="1671.8" y="2394.8" font-size="19.7">EARS-2</text>
<text x="1671.8" y="2411.4" font-size="19.7">EARS-3</text>
<text x="1671.8" y="2428.0" font-size="19.7">HARS-1</text>
<text x="1671.8" y="2444.6" font-size="19.7">IARS-2</text>
<text x="1671.8" y="2461.2" font-size="19.7" fill="#E02828">KARS-1</text>
<line x1="1658.5" y1="2458.2" x2="1667.5" y2="2458.2" stroke="#000" stroke-width="3.4" />
<text x="1671.8" y="2477.8" font-size="19.7">LARS-2</text>
<text x="1671.8" y="2494.4" font-size="19.7">SARS-1</text>
<text x="1671.8" y="2511.0" font-size="19.7">YARS-2</text>
<text x="1671.8" y="2527.6" font-size="19.7">ELPC-1</text>
<text x="1671.8" y="2544.2" font-size="19.7" fill="#E02828">K03B4.1</text>
<line x1="1658.5" y1="2541.2" x2="1667.5" y2="2541.2" stroke="#000" stroke-width="3.4" />
<text x="1671.8" y="2560.8" font-size="19.7">NSUN-2</text>
<text x="1671.8" y="2577.4" font-size="19.7">TRM-1</text>
<text x="1671.8" y="2594.0" font-size="19.7">Y71H2B.5</text>
<text x="1671.8" y="2610.6" font-size="19.7">E02H1.1</text>
<text x="1671.8" y="2627.2" font-size="19.7">F44G4.1</text>
<text x="1671.8" y="2643.8" font-size="19.7">KRR-1</text>
<text x="1671.8" y="2660.4" font-size="19.7">LPD-6</text>
<text x="1671.8" y="2677.0" font-size="19.7">NSUN-1</text>
<text x="1671.8" y="2693.6" font-size="19.7">NSUN-4</text>
<text x="1671.8" y="2710.2" font-size="19.7">W09G3.7</text>
<line x1="693.3" y1="1541.7" x2="852.8" y2="1541.7" stroke="#000" stroke-width="3.6" />
<text x="700.3" y="1562.9" font-size="23.6">LARP-1::GFP</text>
<line x1="868.2" y1="1541.7" x2="1026.2" y2="1541.7" stroke="#000" stroke-width="3.6" />
<text x="862.2" y="1562.9" font-size="23.6">LARP-1::APEX2</text>
<text x="1044.4" y="1547.8" font-size="23" font-weight="bold" textLength="93.8" lengthAdjust="spacingAndGlyphs">Proteins</text>
<path d="M706,1541 V1532 H823.4 V1541 M764.4,1532 V1541 M749.3,1532 V1508.4 H926.3 V1530 M881,1541 V1530.2 H999 V1541 M940,1530.2 V1541" fill="none" stroke="#000" stroke-width="3.6"/>
<line x1="1320.4" y1="1542.0" x2="1477.6" y2="1542.0" stroke="#000" stroke-width="3.6" />
<text x="1324.6" y="1564.1" font-size="23.6">LARP-1::GFP</text>
<line x1="1490.4" y1="1542.0" x2="1659.5" y2="1542.0" stroke="#000" stroke-width="3.6" />
<text x="1488.2" y="1564.1" font-size="23.6">LARP-1::APEX2</text>
<text x="1675.2" y="1548.0" font-size="23" font-weight="bold" textLength="95.7" lengthAdjust="spacingAndGlyphs">Proteins</text>
<path d="M1327.6,1542 V1531.4 H1450 V1542 M1389.6,1531.4 V1542 M1372.6,1531.4 V1508 H1556.2 V1528 M1509.5,1542 V1528 H1631.9 V1542 M1571.1,1528 V1542" fill="none" stroke="#000" stroke-width="3.6"/>
<path d="M1148.5,1591.4 H1167.2 V2322.4 H1148.5" fill="none" stroke="#000" stroke-width="3.6"/>
<path d="M1148.5,2335.5 H1167.2 V2604.3 H1148.5" fill="none" stroke="#000" stroke-width="3.6"/>
<path d="M1148.5,2618.4 H1167.2 V2651.6 H1148.5" fill="none" stroke="#000" stroke-width="3.6"/>
<path d="M1148.5,2670.1 H1167.2 V2702.3 H1148.5" fill="none" stroke="#000" stroke-width="3.6"/>
<text x="1194.4" y="1936.0" font-size="23" text-anchor="middle" transform="rotate(-90 1194.4 1936.0)">RNA binding</text>
<text x="1235.6" y="2448.3" font-size="23.5" text-anchor="middle" transform="rotate(-45 1235.6 2448.3)">RNA helicase</text>
<text x="1237.0" y="2599.0" font-size="23.5" text-anchor="middle" transform="rotate(-45 1237.0 2599.0)">7S RNA binding</text>
<text x="1238.0" y="2637.0" font-size="23.5" text-anchor="middle" transform="rotate(-45 1238.0 2637.0)">dsRNA binding</text>
<rect x="1250.4" y="1936.1" width="26.4" height="341.5" fill="url(#cbar)"/>
<text x="1273.5" y="1937.0" font-size="24" transform="rotate(-90 1273.5 1937.0)">2</text>
<text x="1273.5" y="2110.8" font-size="24" transform="rotate(-90 1273.5 2110.8)">0</text>
<text x="1273.5" y="2311.0" font-size="24" transform="rotate(-90 1273.5 2311.0)">-2</text>
<text x="1273.0" y="1903.4" font-size="28" transform="rotate(-90 1273.0 1903.4)">Z score log<tspan font-size="17" dy="6">2</tspan><tspan dy="-6"> LFQ</tspan></text>
<path d="M1777.8,1575.9 H1796.0 V1629.1 H1777.8" fill="none" stroke="#000" stroke-width="3.6"/>
<path d="M1777.8,1646.6 H1796.0 V2026.1 H1777.8" fill="none" stroke="#000" stroke-width="3.6"/>
<path d="M1777.8,2040.1 H1796.0 V2072.2 H1777.8" fill="none" stroke="#000" stroke-width="3.6"/>
<path d="M1777.8,2087.5 H1796.0 V2142.2 H1777.8" fill="none" stroke="#000" stroke-width="3.6"/>
<path d="M1777.8,2172.2 H1796.0 V2336.4 H1777.8" fill="none" stroke="#000" stroke-width="3.6"/>
<path d="M1777.8,2353.3 H1796.0 V2583.5 H1777.8" fill="none" stroke="#000" stroke-width="3.6"/>
<path d="M1777.8,2601.2 H1796.0 V2704.7 H1777.8" fill="none" stroke="#000" stroke-width="3.6"/>
<line x1="1777.7" y1="2156.7" x2="1796.8" y2="2156.7" stroke="#000" stroke-width="3.6" />
<text x="1805.0" y="1609.9" font-size="24">ssRNA binding</text>
<text x="1805.0" y="1841.7" font-size="24">mRNA binding</text>
<text x="1805.0" y="2061.9" font-size="24">RNA cap binding</text>
<text x="1805.0" y="2120.4" font-size="24">3'-UTR binding</text>
<text x="1805.0" y="2162.7" font-size="24">5'-UTR binding</text>
<text x="1805.0" y="2259.4" font-size="24">snoRNA binding</text>
<text x="1805.0" y="2471.8" font-size="24">tRNA binding</text>
<text x="1805.0" y="2655.7" font-size="24">rRNA binding</text>
<text x="1341.0" y="536.0" font-size="48">e</text>
<text x="1722.8" y="494.2" font-size="28" text-anchor="middle">MICOS complex genes</text>
<rect x="1498.6" y="673.4" width="21.3" height="214.2" fill="#56A3F4"/>
<rect x="1502.2" y="676.6" width="14.1" height="211.0" fill="#9ACDFA"/>
<rect x="1521.9" y="673.4" width="21.3" height="214.2" fill="#E9A152"/>
<rect x="1525.5" y="676.6" width="14.1" height="211.0" fill="#F6E2C8"/>
<rect x="1545.3" y="656.3" width="21.3" height="231.3" fill="#7B68F2"/>
<rect x="1548.9" y="659.5" width="14.1" height="228.1" fill="#A9A3FE"/>
<rect x="1578.3" y="673.4" width="21.3" height="214.2" fill="#56A3F4"/>
<rect x="1581.9" y="676.6" width="14.1" height="211.0" fill="#9ACDFA"/>
<rect x="1601.7" y="678.8" width="21.3" height="208.8" fill="#E9A152"/>
<rect x="1605.3" y="682.0" width="14.1" height="205.6" fill="#F6E2C8"/>
<rect x="1625.0" y="682.0" width="21.3" height="205.6" fill="#7B68F2"/>
<rect x="1628.6" y="685.2" width="14.1" height="202.4" fill="#A9A3FE"/>
<rect x="1658.1" y="673.4" width="21.3" height="214.2" fill="#56A3F4"/>
<rect x="1661.7" y="676.6" width="14.1" height="211.0" fill="#9ACDFA"/>
<rect x="1681.4" y="673.4" width="21.3" height="214.2" fill="#E9A152"/>
<rect x="1685.0" y="676.6" width="14.1" height="211.0" fill="#F6E2C8"/>
<rect x="1704.8" y="652.0" width="21.3" height="235.6" fill="#7B68F2"/>
<rect x="1708.4" y="655.2" width="14.1" height="232.4" fill="#A9A3FE"/>
<rect x="1737.8" y="673.4" width="21.3" height="214.2" fill="#56A3F4"/>
<rect x="1741.4" y="676.6" width="14.1" height="211.0" fill="#9ACDFA"/>
<rect x="1761.2" y="678.8" width="21.3" height="208.8" fill="#E9A152"/>
<rect x="1764.8" y="682.0" width="14.1" height="205.6" fill="#F6E2C8"/>
<rect x="1784.5" y="654.1" width="21.3" height="233.5" fill="#7B68F2"/>
<rect x="1788.1" y="657.4" width="14.1" height="230.2" fill="#A9A3FE"/>
<rect x="1817.6" y="673.4" width="21.3" height="214.2" fill="#56A3F4"/>
<rect x="1821.2" y="676.6" width="14.1" height="211.0" fill="#9ACDFA"/>
<rect x="1840.9" y="660.5" width="21.3" height="227.1" fill="#E9A152"/>
<rect x="1844.5" y="663.8" width="14.1" height="223.8" fill="#F6E2C8"/>
<rect x="1864.3" y="656.3" width="21.3" height="231.3" fill="#7B68F2"/>
<rect x="1867.9" y="659.5" width="14.1" height="228.1" fill="#A9A3FE"/>
<rect x="1897.3" y="673.4" width="21.3" height="214.2" fill="#56A3F4"/>
<rect x="1900.9" y="676.6" width="14.1" height="211.0" fill="#9ACDFA"/>
<rect x="1920.7" y="678.8" width="21.3" height="208.8" fill="#E9A152"/>
<rect x="1924.3" y="682.0" width="14.1" height="205.6" fill="#F6E2C8"/>
<rect x="1944.0" y="664.8" width="21.3" height="222.8" fill="#7B68F2"/>
<rect x="1947.6" y="668.1" width="14.1" height="219.5" fill="#A9A3FE"/>
<circle cx="1504.0" cy="674.7" r="4.7" fill="#4C9CF0" stroke="#000" stroke-width="2.1"/>
<circle cx="1514.5" cy="674.7" r="4.7" fill="#4C9CF0" stroke="#000" stroke-width="2.1"/>
<circle cx="1509.2" cy="668.7" r="4.7" fill="#4C9CF0" stroke="#000" stroke-width="2.1"/>
<circle cx="1533.4" cy="662.7" r="4.7" fill="#F0A444" stroke="#000" stroke-width="2.1"/>
<circle cx="1531.8" cy="673.0" r="4.7" fill="#F0A444" stroke="#000" stroke-width="2.1"/>
<circle cx="1533.0" cy="683.0" r="4.7" fill="#F0A444" stroke="#000" stroke-width="2.1"/>
<line x1="1532.6" y1="667.0" x2="1532.6" y2="678.8" stroke="#000" stroke-width="3.2" />
<line x1="1527.6" y1="667.0" x2="1537.6" y2="667.0" stroke="#000" stroke-width="3.2" />
<line x1="1527.6" y1="678.8" x2="1537.6" y2="678.8" stroke="#000" stroke-width="3.2" />
<circle cx="1556.8" cy="645.6" r="4.7" fill="#6B55F3" stroke="#000" stroke-width="2.1"/>
<circle cx="1555.2" cy="655.8" r="4.7" fill="#6B55F3" stroke="#000" stroke-width="2.1"/>
<circle cx="1556.4" cy="665.9" r="4.7" fill="#6B55F3" stroke="#000" stroke-width="2.1"/>
<line x1="1556.0" y1="649.9" x2="1556.0" y2="661.6" stroke="#000" stroke-width="3.2" />
<line x1="1551.0" y1="649.9" x2="1561.0" y2="649.9" stroke="#000" stroke-width="3.2" />
<line x1="1551.0" y1="661.6" x2="1561.0" y2="661.6" stroke="#000" stroke-width="3.2" />
<circle cx="1583.8" cy="674.7" r="4.7" fill="#4C9CF0" stroke="#000" stroke-width="2.1"/>
<circle cx="1594.2" cy="674.7" r="4.7" fill="#4C9CF0" stroke="#000" stroke-width="2.1"/>
<circle cx="1589.0" cy="668.7" r="4.7" fill="#4C9CF0" stroke="#000" stroke-width="2.1"/>
<circle cx="1613.1" cy="668.0" r="4.7" fill="#F0A444" stroke="#000" stroke-width="2.1"/>
<circle cx="1611.5" cy="678.3" r="4.7" fill="#F0A444" stroke="#000" stroke-width="2.1"/>
<circle cx="1612.8" cy="688.4" r="4.7" fill="#F0A444" stroke="#000" stroke-width="2.1"/>
<line x1="1612.3" y1="672.4" x2="1612.3" y2="684.1" stroke="#000" stroke-width="3.2" />
<line x1="1607.3" y1="672.4" x2="1617.3" y2="672.4" stroke="#000" stroke-width="3.2" />
<line x1="1607.3" y1="684.1" x2="1617.3" y2="684.1" stroke="#000" stroke-width="3.2" />
<circle cx="1636.5" cy="671.3" r="4.7" fill="#6B55F3" stroke="#000" stroke-width="2.1"/>
<circle cx="1634.9" cy="681.5" r="4.7" fill="#6B55F3" stroke="#000" stroke-width="2.1"/>
<circle cx="1636.1" cy="691.6" r="4.7" fill="#6B55F3" stroke="#000" stroke-width="2.1"/>
<line x1="1635.7" y1="675.6" x2="1635.7" y2="687.3" stroke="#000" stroke-width="3.2" />
<line x1="1630.7" y1="675.6" x2="1640.7" y2="675.6" stroke="#000" stroke-width="3.2" />
<line x1="1630.7" y1="687.3" x2="1640.7" y2="687.3" stroke="#000" stroke-width="3.2" />
<circle cx="1663.5" cy="674.7" r="4.7" fill="#4C9CF0" stroke="#000" stroke-width="2.1"/>
<circle cx="1674.0" cy="674.7" r="4.7" fill="#4C9CF0" stroke="#000" stroke-width="2.1"/>
<circle cx="1668.8" cy="668.7" r="4.7" fill="#4C9CF0" stroke="#000" stroke-width="2.1"/>
<circle cx="1692.9" cy="662.7" r="4.7" fill="#F0A444" stroke="#000" stroke-width="2.1"/>
<circle cx="1691.3" cy="673.0" r="4.7" fill="#F0A444" stroke="#000" stroke-width="2.1"/>
<circle cx="1692.5" cy="683.0" r="4.7" fill="#F0A444" stroke="#000" stroke-width="2.1"/>
<line x1="1692.1" y1="667.0" x2="1692.1" y2="678.8" stroke="#000" stroke-width="3.2" />
<line x1="1687.1" y1="667.0" x2="1697.1" y2="667.0" stroke="#000" stroke-width="3.2" />
<line x1="1687.1" y1="678.8" x2="1697.1" y2="678.8" stroke="#000" stroke-width="3.2" />
<circle cx="1716.2" cy="641.3" r="4.7" fill="#6B55F3" stroke="#000" stroke-width="2.1"/>
<circle cx="1714.7" cy="651.6" r="4.7" fill="#6B55F3" stroke="#000" stroke-width="2.1"/>
<circle cx="1715.9" cy="661.6" r="4.7" fill="#6B55F3" stroke="#000" stroke-width="2.1"/>
<line x1="1715.5" y1="645.6" x2="1715.5" y2="657.4" stroke="#000" stroke-width="3.2" />
<line x1="1710.5" y1="645.6" x2="1720.5" y2="645.6" stroke="#000" stroke-width="3.2" />
<line x1="1710.5" y1="657.4" x2="1720.5" y2="657.4" stroke="#000" stroke-width="3.2" />
<circle cx="1743.3" cy="674.7" r="4.7" fill="#4C9CF0" stroke="#000" stroke-width="2.1"/>
<circle cx="1753.7" cy="674.7" r="4.7" fill="#4C9CF0" stroke="#000" stroke-width="2.1"/>
<circle cx="1748.5" cy="668.7" r="4.7" fill="#4C9CF0" stroke="#000" stroke-width="2.1"/>
<circle cx="1772.6" cy="668.0" r="4.7" fill="#F0A444" stroke="#000" stroke-width="2.1"/>
<circle cx="1771.0" cy="678.3" r="4.7" fill="#F0A444" stroke="#000" stroke-width="2.1"/>
<circle cx="1772.2" cy="688.4" r="4.7" fill="#F0A444" stroke="#000" stroke-width="2.1"/>
<line x1="1771.8" y1="672.4" x2="1771.8" y2="684.1" stroke="#000" stroke-width="3.2" />
<line x1="1766.8" y1="672.4" x2="1776.8" y2="672.4" stroke="#000" stroke-width="3.2" />
<line x1="1766.8" y1="684.1" x2="1776.8" y2="684.1" stroke="#000" stroke-width="3.2" />
<circle cx="1796.0" cy="643.4" r="4.7" fill="#6B55F3" stroke="#000" stroke-width="2.1"/>
<circle cx="1794.4" cy="653.7" r="4.7" fill="#6B55F3" stroke="#000" stroke-width="2.1"/>
<circle cx="1795.6" cy="663.8" r="4.7" fill="#6B55F3" stroke="#000" stroke-width="2.1"/>
<line x1="1795.2" y1="647.7" x2="1795.2" y2="659.5" stroke="#000" stroke-width="3.2" />
<line x1="1790.2" y1="647.7" x2="1800.2" y2="647.7" stroke="#000" stroke-width="3.2" />
<line x1="1790.2" y1="659.5" x2="1800.2" y2="659.5" stroke="#000" stroke-width="3.2" />
<circle cx="1823.0" cy="674.7" r="4.7" fill="#4C9CF0" stroke="#000" stroke-width="2.1"/>
<circle cx="1833.5" cy="674.7" r="4.7" fill="#4C9CF0" stroke="#000" stroke-width="2.1"/>
<circle cx="1828.2" cy="668.7" r="4.7" fill="#4C9CF0" stroke="#000" stroke-width="2.1"/>
<circle cx="1852.4" cy="649.8" r="4.7" fill="#F0A444" stroke="#000" stroke-width="2.1"/>
<circle cx="1850.8" cy="660.1" r="4.7" fill="#F0A444" stroke="#000" stroke-width="2.1"/>
<circle cx="1852.0" cy="670.2" r="4.7" fill="#F0A444" stroke="#000" stroke-width="2.1"/>
<line x1="1851.6" y1="654.2" x2="1851.6" y2="665.9" stroke="#000" stroke-width="3.2" />
<line x1="1846.6" y1="654.2" x2="1856.6" y2="654.2" stroke="#000" stroke-width="3.2" />
<line x1="1846.6" y1="665.9" x2="1856.6" y2="665.9" stroke="#000" stroke-width="3.2" />
<circle cx="1875.8" cy="645.6" r="4.7" fill="#6B55F3" stroke="#000" stroke-width="2.1"/>
<circle cx="1874.2" cy="655.8" r="4.7" fill="#6B55F3" stroke="#000" stroke-width="2.1"/>
<circle cx="1875.4" cy="665.9" r="4.7" fill="#6B55F3" stroke="#000" stroke-width="2.1"/>
<line x1="1875.0" y1="649.9" x2="1875.0" y2="661.6" stroke="#000" stroke-width="3.2" />
<line x1="1870.0" y1="649.9" x2="1880.0" y2="649.9" stroke="#000" stroke-width="3.2" />
<line x1="1870.0" y1="661.6" x2="1880.0" y2="661.6" stroke="#000" stroke-width="3.2" />
<circle cx="1902.8" cy="674.7" r="4.7" fill="#4C9CF0" stroke="#000" stroke-width="2.1"/>
<circle cx="1913.2" cy="674.7" r="4.7" fill="#4C9CF0" stroke="#000" stroke-width="2.1"/>
<circle cx="1908.0" cy="668.7" r="4.7" fill="#4C9CF0" stroke="#000" stroke-width="2.1"/>
<circle cx="1932.1" cy="668.0" r="4.7" fill="#F0A444" stroke="#000" stroke-width="2.1"/>
<circle cx="1930.5" cy="678.3" r="4.7" fill="#F0A444" stroke="#000" stroke-width="2.1"/>
<circle cx="1931.8" cy="688.4" r="4.7" fill="#F0A444" stroke="#000" stroke-width="2.1"/>
<line x1="1931.3" y1="672.4" x2="1931.3" y2="684.1" stroke="#000" stroke-width="3.2" />
<line x1="1926.3" y1="672.4" x2="1936.3" y2="672.4" stroke="#000" stroke-width="3.2" />
<line x1="1926.3" y1="684.1" x2="1936.3" y2="684.1" stroke="#000" stroke-width="3.2" />
<circle cx="1955.5" cy="654.1" r="4.7" fill="#6B55F3" stroke="#000" stroke-width="2.1"/>
<circle cx="1953.9" cy="664.4" r="4.7" fill="#6B55F3" stroke="#000" stroke-width="2.1"/>
<circle cx="1955.1" cy="674.5" r="4.7" fill="#6B55F3" stroke="#000" stroke-width="2.1"/>
<line x1="1954.7" y1="658.5" x2="1954.7" y2="670.2" stroke="#000" stroke-width="3.2" />
<line x1="1949.7" y1="658.5" x2="1959.7" y2="658.5" stroke="#000" stroke-width="3.2" />
<line x1="1949.7" y1="670.2" x2="1959.7" y2="670.2" stroke="#000" stroke-width="3.2" />
<path d="M1503.0,606.2 V594.4 H1553.4 V606.2" fill="none" stroke="#000" stroke-width="4.2"/>
<path d="M1503.0,648.0 V636.2 H1530.7 V648.0" fill="none" stroke="#000" stroke-width="4.2"/>
<text x="1528.2" y="586.3" font-size="22.3" text-anchor="middle">NS</text>
<text x="1501.7" y="629.8" font-size="22.3">NS</text>
<path d="M1582.8,606.2 V594.4 H1633.1 V606.2" fill="none" stroke="#000" stroke-width="4.2"/>
<path d="M1582.8,648.0 V636.2 H1610.4 V648.0" fill="none" stroke="#000" stroke-width="4.2"/>
<text x="1607.9" y="586.3" font-size="22.3" text-anchor="middle">NS</text>
<text x="1581.4" y="629.8" font-size="22.3">NS</text>
<path d="M1662.5,606.2 V594.4 H1712.9 V606.2" fill="none" stroke="#000" stroke-width="4.2"/>
<path d="M1662.5,648.0 V636.2 H1690.2 V648.0" fill="none" stroke="#000" stroke-width="4.2"/>
<text x="1687.7" y="586.3" font-size="22.3" text-anchor="middle">NS</text>
<text x="1661.2" y="629.8" font-size="22.3">NS</text>
<path d="M1742.2,606.2 V594.4 H1792.6 V606.2" fill="none" stroke="#000" stroke-width="4.2"/>
<path d="M1742.2,648.0 V636.2 H1769.9 V648.0" fill="none" stroke="#000" stroke-width="4.2"/>
<text x="1767.4" y="586.3" font-size="22.3" text-anchor="middle">NS</text>
<text x="1740.9" y="629.8" font-size="22.3">NS</text>
<path d="M1822.0,606.2 V594.4 H1872.4 V606.2" fill="none" stroke="#000" stroke-width="4.2"/>
<path d="M1822.0,648.0 V636.2 H1849.7 V648.0" fill="none" stroke="#000" stroke-width="4.2"/>
<text x="1847.2" y="586.3" font-size="22.3" text-anchor="middle">NS</text>
<text x="1820.7" y="629.8" font-size="22.3">NS</text>
<path d="M1901.8,606.2 V594.4 H1952.1 V606.2" fill="none" stroke="#000" stroke-width="4.2"/>
<path d="M1901.8,648.0 V636.2 H1929.4 V648.0" fill="none" stroke="#000" stroke-width="4.2"/>
<text x="1926.9" y="586.3" font-size="22.3" text-anchor="middle">NS</text>
<text x="1900.4" y="629.8" font-size="22.3">NS</text>
<line x1="1489.0" y1="564.3" x2="1489.0" y2="889.6" stroke="#000" stroke-width="4.4" />
<line x1="1476.0" y1="887.6" x2="1976.0" y2="887.6" stroke="#000" stroke-width="4.4" />
<line x1="1476.0" y1="566.3" x2="1489.0" y2="566.3" stroke="#000" stroke-width="4.4" />
<text x="1472.0" y="572.5" font-size="28" text-anchor="end">1.5</text>
<line x1="1476.0" y1="673.4" x2="1489.0" y2="673.4" stroke="#000" stroke-width="4.4" />
<text x="1472.0" y="679.6" font-size="28" text-anchor="end">1.0</text>
<line x1="1476.0" y1="780.5" x2="1489.0" y2="780.5" stroke="#000" stroke-width="4.4" />
<text x="1472.0" y="786.7" font-size="28" text-anchor="end">0.5</text>
<line x1="1476.0" y1="887.6" x2="1489.0" y2="887.6" stroke="#000" stroke-width="4.4" />
<text x="1472.0" y="893.8" font-size="28" text-anchor="end">0.0</text>
<line x1="1532.6" y1="887.6" x2="1532.6" y2="900.6" stroke="#000" stroke-width="4.4" />
<text x="1539.1" y="921.6" font-size="28" text-anchor="end" font-style="italic" transform="rotate(-30 1539.1 921.6)">chch-3</text>
<line x1="1612.3" y1="887.6" x2="1612.3" y2="900.6" stroke="#000" stroke-width="4.4" />
<text x="1618.8" y="921.6" font-size="28" text-anchor="end" font-style="italic" transform="rotate(-30 1618.8 921.6)">immt-1</text>
<line x1="1692.1" y1="887.6" x2="1692.1" y2="900.6" stroke="#000" stroke-width="4.4" />
<text x="1698.6" y="921.6" font-size="28" text-anchor="end" font-style="italic" transform="rotate(-30 1698.6 921.6)">immt-2</text>
<line x1="1771.8" y1="887.6" x2="1771.8" y2="900.6" stroke="#000" stroke-width="4.4" />
<text x="1778.3" y="921.6" font-size="28" text-anchor="end" font-style="italic" transform="rotate(-30 1778.3 921.6)">moma-1</text>
<line x1="1851.6" y1="887.6" x2="1851.6" y2="900.6" stroke="#000" stroke-width="4.4" />
<text x="1858.1" y="921.6" font-size="28" text-anchor="end" font-style="italic" transform="rotate(-30 1858.1 921.6)">W04C9.2</text>
<line x1="1931.3" y1="887.6" x2="1931.3" y2="900.6" stroke="#000" stroke-width="4.4" />
<text x="1937.8" y="921.6" font-size="28" text-anchor="end" font-style="italic" transform="rotate(-30 1937.8 921.6)">F54A3.5</text>
<rect x="1440.1" y="524.3" width="29.8" height="13.3" fill="#9ACDFA" stroke="#56A3F4" stroke-width="3.2" rx="2"/>
<text x="1480.8" y="541.0" font-size="28.1">N2</text>
<rect x="1540.5" y="524.3" width="29.8" height="13.3" fill="#F6E2C8" stroke="#E9A152" stroke-width="3.2" rx="2"/>
<text x="1581.6" y="541.0" font-size="28.1" font-style="italic">larp-1(yq421)</text>
<rect x="1763.3" y="524.3" width="29.8" height="13.3" fill="#A9A3FE" stroke="#7B68F2" stroke-width="3.2" rx="2"/>
<text x="1804.4" y="541.0" font-size="28.1" font-style="italic">larp-1(yq565)</text>
<text x="1431.5" y="725.2" font-size="28.1" text-anchor="middle" transform="rotate(-90 1431.5 725.2)">Relative mRNA levels</text>
<text x="4.0" y="1037.0" font-size="48">f</text>
<text x="880.0" y="1007.2" font-size="28.1" text-anchor="middle">Respiratory chain complex I genes</text>
<rect x="140.7" y="1158.9" width="21.0" height="214.0" fill="#56A3F4"/>
<rect x="144.3" y="1162.1" width="13.8" height="210.8" fill="#9ACDFA"/>
<rect x="165.1" y="1144.6" width="21.0" height="228.3" fill="#E9A152"/>
<rect x="168.7" y="1147.8" width="13.8" height="225.1" fill="#F6E2C8"/>
<rect x="189.6" y="1173.0" width="21.0" height="199.9" fill="#7B68F2"/>
<rect x="193.2" y="1176.3" width="13.8" height="196.6" fill="#A9A3FE"/>
<rect x="224.0" y="1158.9" width="21.0" height="214.0" fill="#56A3F4"/>
<rect x="227.6" y="1162.1" width="13.8" height="210.8" fill="#9ACDFA"/>
<rect x="248.4" y="1141.8" width="21.0" height="231.1" fill="#E9A152"/>
<rect x="252.0" y="1145.0" width="13.8" height="227.9" fill="#F6E2C8"/>
<rect x="272.9" y="1165.3" width="21.0" height="207.6" fill="#7B68F2"/>
<rect x="276.5" y="1168.6" width="13.8" height="204.3" fill="#A9A3FE"/>
<rect x="307.3" y="1158.9" width="21.0" height="214.0" fill="#56A3F4"/>
<rect x="310.9" y="1162.1" width="13.8" height="210.8" fill="#9ACDFA"/>
<rect x="331.7" y="1146.1" width="21.0" height="226.8" fill="#E9A152"/>
<rect x="335.3" y="1149.3" width="13.8" height="223.6" fill="#F6E2C8"/>
<rect x="356.2" y="1144.6" width="21.0" height="228.3" fill="#7B68F2"/>
<rect x="359.8" y="1147.8" width="13.8" height="225.1" fill="#A9A3FE"/>
<rect x="390.6" y="1158.9" width="21.0" height="214.0" fill="#56A3F4"/>
<rect x="394.2" y="1162.1" width="13.8" height="210.8" fill="#9ACDFA"/>
<rect x="415.0" y="1173.9" width="21.0" height="199.0" fill="#E9A152"/>
<rect x="418.6" y="1177.1" width="13.8" height="195.8" fill="#F6E2C8"/>
<rect x="439.5" y="1156.8" width="21.0" height="216.1" fill="#7B68F2"/>
<rect x="443.1" y="1160.0" width="13.8" height="212.9" fill="#A9A3FE"/>
<rect x="473.9" y="1158.9" width="21.0" height="214.0" fill="#56A3F4"/>
<rect x="477.5" y="1162.1" width="13.8" height="210.8" fill="#9ACDFA"/>
<rect x="498.3" y="1146.1" width="21.0" height="226.8" fill="#E9A152"/>
<rect x="501.9" y="1149.3" width="13.8" height="223.6" fill="#F6E2C8"/>
<rect x="522.8" y="1152.5" width="21.0" height="220.4" fill="#7B68F2"/>
<rect x="526.4" y="1155.7" width="13.8" height="217.2" fill="#A9A3FE"/>
<rect x="557.2" y="1158.9" width="21.0" height="214.0" fill="#56A3F4"/>
<rect x="560.8" y="1162.1" width="13.8" height="210.8" fill="#9ACDFA"/>
<rect x="581.7" y="1173.9" width="21.0" height="199.0" fill="#E9A152"/>
<rect x="585.3" y="1177.1" width="13.8" height="195.8" fill="#F6E2C8"/>
<rect x="606.1" y="1165.3" width="21.0" height="207.6" fill="#7B68F2"/>
<rect x="609.7" y="1168.6" width="13.8" height="204.3" fill="#A9A3FE"/>
<rect x="640.5" y="1158.9" width="21.0" height="214.0" fill="#56A3F4"/>
<rect x="644.1" y="1162.1" width="13.8" height="210.8" fill="#9ACDFA"/>
<rect x="665.0" y="1139.6" width="21.0" height="233.3" fill="#E9A152"/>
<rect x="668.6" y="1142.9" width="13.8" height="230.0" fill="#F6E2C8"/>
<rect x="689.4" y="1148.2" width="21.0" height="224.7" fill="#7B68F2"/>
<rect x="693.0" y="1151.4" width="13.8" height="221.5" fill="#A9A3FE"/>
<rect x="723.8" y="1158.9" width="21.0" height="214.0" fill="#56A3F4"/>
<rect x="727.4" y="1162.1" width="13.8" height="210.8" fill="#9ACDFA"/>
<rect x="748.2" y="1177.1" width="21.0" height="195.8" fill="#E9A152"/>
<rect x="751.9" y="1180.3" width="13.8" height="192.6" fill="#F6E2C8"/>
<rect x="772.7" y="1161.0" width="21.0" height="211.9" fill="#7B68F2"/>
<rect x="776.3" y="1164.3" width="13.8" height="208.6" fill="#A9A3FE"/>
<rect x="807.1" y="1158.9" width="21.0" height="214.0" fill="#56A3F4"/>
<rect x="810.7" y="1162.1" width="13.8" height="210.8" fill="#9ACDFA"/>
<rect x="831.5" y="1176.0" width="21.0" height="196.9" fill="#E9A152"/>
<rect x="835.1" y="1179.3" width="13.8" height="193.6" fill="#F6E2C8"/>
<rect x="856.0" y="1178.2" width="21.0" height="194.7" fill="#7B68F2"/>
<rect x="859.6" y="1181.4" width="13.8" height="191.5" fill="#A9A3FE"/>
<rect x="890.4" y="1158.9" width="21.0" height="214.0" fill="#56A3F4"/>
<rect x="894.0" y="1162.1" width="13.8" height="210.8" fill="#9ACDFA"/>
<rect x="914.8" y="1139.6" width="21.0" height="233.3" fill="#E9A152"/>
<rect x="918.4" y="1142.9" width="13.8" height="230.0" fill="#F6E2C8"/>
<rect x="939.3" y="1170.7" width="21.0" height="202.2" fill="#7B68F2"/>
<rect x="942.9" y="1173.9" width="13.8" height="199.0" fill="#A9A3FE"/>
<rect x="973.7" y="1158.9" width="21.0" height="214.0" fill="#56A3F4"/>
<rect x="977.3" y="1162.1" width="13.8" height="210.8" fill="#9ACDFA"/>
<rect x="998.2" y="1178.2" width="21.0" height="194.7" fill="#E9A152"/>
<rect x="1001.8" y="1181.4" width="13.8" height="191.5" fill="#F6E2C8"/>
<rect x="1022.6" y="1180.3" width="21.0" height="192.6" fill="#7B68F2"/>
<rect x="1026.2" y="1183.5" width="13.8" height="189.4" fill="#A9A3FE"/>
<rect x="1057.0" y="1158.9" width="21.0" height="214.0" fill="#56A3F4"/>
<rect x="1060.6" y="1162.1" width="13.8" height="210.8" fill="#9ACDFA"/>
<rect x="1081.5" y="1183.5" width="21.0" height="189.4" fill="#E9A152"/>
<rect x="1085.0" y="1186.8" width="13.8" height="186.2" fill="#F6E2C8"/>
<rect x="1105.9" y="1154.6" width="21.0" height="218.3" fill="#7B68F2"/>
<rect x="1109.5" y="1157.9" width="13.8" height="215.0" fill="#A9A3FE"/>
<rect x="1140.3" y="1158.9" width="21.0" height="214.0" fill="#56A3F4"/>
<rect x="1143.9" y="1162.1" width="13.8" height="210.8" fill="#9ACDFA"/>
<rect x="1164.8" y="1139.6" width="21.0" height="233.3" fill="#E9A152"/>
<rect x="1168.3" y="1142.9" width="13.8" height="230.0" fill="#F6E2C8"/>
<rect x="1189.2" y="1146.1" width="21.0" height="226.8" fill="#7B68F2"/>
<rect x="1192.8" y="1149.3" width="13.8" height="223.6" fill="#A9A3FE"/>
<rect x="1223.6" y="1158.9" width="21.0" height="214.0" fill="#56A3F4"/>
<rect x="1227.2" y="1162.1" width="13.8" height="210.8" fill="#9ACDFA"/>
<rect x="1248.0" y="1141.8" width="21.0" height="231.1" fill="#E9A152"/>
<rect x="1251.6" y="1145.0" width="13.8" height="227.9" fill="#F6E2C8"/>
<rect x="1272.5" y="1142.9" width="21.0" height="230.0" fill="#7B68F2"/>
<rect x="1276.1" y="1146.1" width="13.8" height="226.8" fill="#A9A3FE"/>
<rect x="1306.9" y="1158.9" width="21.0" height="214.0" fill="#56A3F4"/>
<rect x="1310.5" y="1162.1" width="13.8" height="210.8" fill="#9ACDFA"/>
<rect x="1331.4" y="1151.4" width="21.0" height="221.5" fill="#E9A152"/>
<rect x="1335.0" y="1154.7" width="13.8" height="218.2" fill="#F6E2C8"/>
<rect x="1355.8" y="1158.9" width="21.0" height="214.0" fill="#7B68F2"/>
<rect x="1359.4" y="1162.1" width="13.8" height="210.8" fill="#A9A3FE"/>
<rect x="1390.2" y="1158.9" width="21.0" height="214.0" fill="#56A3F4"/>
<rect x="1393.8" y="1162.1" width="13.8" height="210.8" fill="#9ACDFA"/>
<rect x="1414.7" y="1159.8" width="21.0" height="213.1" fill="#E9A152"/>
<rect x="1418.2" y="1163.0" width="13.8" height="209.9" fill="#F6E2C8"/>
<rect x="1439.1" y="1141.8" width="21.0" height="231.1" fill="#7B68F2"/>
<rect x="1442.7" y="1145.0" width="13.8" height="227.9" fill="#A9A3FE"/>
<rect x="1473.5" y="1158.9" width="21.0" height="214.0" fill="#56A3F4"/>
<rect x="1477.1" y="1162.1" width="13.8" height="210.8" fill="#9ACDFA"/>
<rect x="1498.0" y="1176.7" width="21.0" height="196.2" fill="#E9A152"/>
<rect x="1501.5" y="1179.9" width="13.8" height="193.0" fill="#F6E2C8"/>
<rect x="1522.4" y="1165.3" width="21.0" height="207.6" fill="#7B68F2"/>
<rect x="1526.0" y="1168.6" width="13.8" height="204.3" fill="#A9A3FE"/>
<rect x="1556.8" y="1158.9" width="21.0" height="214.0" fill="#56A3F4"/>
<rect x="1560.4" y="1162.1" width="13.8" height="210.8" fill="#9ACDFA"/>
<rect x="1581.2" y="1172.4" width="21.0" height="200.5" fill="#E9A152"/>
<rect x="1584.8" y="1175.6" width="13.8" height="197.3" fill="#F6E2C8"/>
<rect x="1605.7" y="1161.0" width="21.0" height="211.9" fill="#7B68F2"/>
<rect x="1609.3" y="1164.3" width="13.8" height="208.6" fill="#A9A3FE"/>
<rect x="1640.1" y="1158.9" width="21.0" height="214.0" fill="#56A3F4"/>
<rect x="1643.7" y="1162.1" width="13.8" height="210.8" fill="#9ACDFA"/>
<rect x="1664.5" y="1176.0" width="21.0" height="196.9" fill="#E9A152"/>
<rect x="1668.1" y="1179.3" width="13.8" height="193.6" fill="#F6E2C8"/>
<rect x="1689.0" y="1154.6" width="21.0" height="218.3" fill="#7B68F2"/>
<rect x="1692.6" y="1157.9" width="13.8" height="215.0" fill="#A9A3FE"/>
<rect x="1723.4" y="1158.9" width="21.0" height="214.0" fill="#56A3F4"/>
<rect x="1727.0" y="1162.1" width="13.8" height="210.8" fill="#9ACDFA"/>
<rect x="1747.9" y="1179.2" width="21.0" height="193.7" fill="#E9A152"/>
<rect x="1751.5" y="1182.5" width="13.8" height="190.4" fill="#F6E2C8"/>
<rect x="1772.3" y="1175.0" width="21.0" height="198.0" fill="#7B68F2"/>
<rect x="1775.9" y="1178.2" width="13.8" height="194.7" fill="#A9A3FE"/>
<rect x="1806.7" y="1158.9" width="21.0" height="214.0" fill="#56A3F4"/>
<rect x="1810.3" y="1162.1" width="13.8" height="210.8" fill="#9ACDFA"/>
<rect x="1831.2" y="1161.0" width="21.0" height="211.9" fill="#E9A152"/>
<rect x="1834.8" y="1164.3" width="13.8" height="208.6" fill="#F6E2C8"/>
<rect x="1855.6" y="1159.8" width="21.0" height="213.1" fill="#7B68F2"/>
<rect x="1859.2" y="1163.0" width="13.8" height="209.9" fill="#A9A3FE"/>
<circle cx="146.0" cy="1160.2" r="4.7" fill="#4C9CF0" stroke="#000" stroke-width="2.1"/>
<circle cx="156.4" cy="1160.2" r="4.7" fill="#4C9CF0" stroke="#000" stroke-width="2.1"/>
<circle cx="151.2" cy="1154.2" r="4.7" fill="#4C9CF0" stroke="#000" stroke-width="2.1"/>
<circle cx="176.4" cy="1133.9" r="4.7" fill="#F0A444" stroke="#000" stroke-width="2.1"/>
<circle cx="174.8" cy="1144.1" r="4.7" fill="#F0A444" stroke="#000" stroke-width="2.1"/>
<circle cx="176.0" cy="1154.2" r="4.7" fill="#F0A444" stroke="#000" stroke-width="2.1"/>
<line x1="175.6" y1="1138.2" x2="175.6" y2="1149.9" stroke="#000" stroke-width="3.2" />
<line x1="170.6" y1="1138.2" x2="180.6" y2="1138.2" stroke="#000" stroke-width="3.2" />
<line x1="170.6" y1="1149.9" x2="180.6" y2="1149.9" stroke="#000" stroke-width="3.2" />
<circle cx="200.9" cy="1162.3" r="4.7" fill="#6B55F3" stroke="#000" stroke-width="2.1"/>
<circle cx="199.3" cy="1172.6" r="4.7" fill="#6B55F3" stroke="#000" stroke-width="2.1"/>
<circle cx="200.5" cy="1182.7" r="4.7" fill="#6B55F3" stroke="#000" stroke-width="2.1"/>
<line x1="200.1" y1="1166.7" x2="200.1" y2="1178.4" stroke="#000" stroke-width="3.2" />
<line x1="195.1" y1="1166.7" x2="205.1" y2="1166.7" stroke="#000" stroke-width="3.2" />
<line x1="195.1" y1="1178.4" x2="205.1" y2="1178.4" stroke="#000" stroke-width="3.2" />
<circle cx="229.3" cy="1160.2" r="4.7" fill="#4C9CF0" stroke="#000" stroke-width="2.1"/>
<circle cx="239.7" cy="1160.2" r="4.7" fill="#4C9CF0" stroke="#000" stroke-width="2.1"/>
<circle cx="234.5" cy="1154.2" r="4.7" fill="#4C9CF0" stroke="#000" stroke-width="2.1"/>
<circle cx="259.8" cy="1131.1" r="4.7" fill="#F0A444" stroke="#000" stroke-width="2.1"/>
<circle cx="258.1" cy="1141.4" r="4.7" fill="#F0A444" stroke="#000" stroke-width="2.1"/>
<circle cx="259.3" cy="1151.4" r="4.7" fill="#F0A444" stroke="#000" stroke-width="2.1"/>
<line x1="258.9" y1="1135.4" x2="258.9" y2="1147.1" stroke="#000" stroke-width="3.2" />
<line x1="253.9" y1="1135.4" x2="263.9" y2="1135.4" stroke="#000" stroke-width="3.2" />
<line x1="253.9" y1="1147.1" x2="263.9" y2="1147.1" stroke="#000" stroke-width="3.2" />
<circle cx="284.2" cy="1154.6" r="4.7" fill="#6B55F3" stroke="#000" stroke-width="2.1"/>
<circle cx="282.6" cy="1164.9" r="4.7" fill="#6B55F3" stroke="#000" stroke-width="2.1"/>
<circle cx="283.8" cy="1175.0" r="4.7" fill="#6B55F3" stroke="#000" stroke-width="2.1"/>
<line x1="283.4" y1="1159.0" x2="283.4" y2="1170.7" stroke="#000" stroke-width="3.2" />
<line x1="278.4" y1="1159.0" x2="288.4" y2="1159.0" stroke="#000" stroke-width="3.2" />
<line x1="278.4" y1="1170.7" x2="288.4" y2="1170.7" stroke="#000" stroke-width="3.2" />
<circle cx="312.6" cy="1160.2" r="4.7" fill="#4C9CF0" stroke="#000" stroke-width="2.1"/>
<circle cx="323.0" cy="1160.2" r="4.7" fill="#4C9CF0" stroke="#000" stroke-width="2.1"/>
<circle cx="317.8" cy="1154.2" r="4.7" fill="#4C9CF0" stroke="#000" stroke-width="2.1"/>
<circle cx="343.0" cy="1135.4" r="4.7" fill="#F0A444" stroke="#000" stroke-width="2.1"/>
<circle cx="341.4" cy="1145.6" r="4.7" fill="#F0A444" stroke="#000" stroke-width="2.1"/>
<circle cx="342.6" cy="1155.7" r="4.7" fill="#F0A444" stroke="#000" stroke-width="2.1"/>
<line x1="342.2" y1="1139.7" x2="342.2" y2="1151.4" stroke="#000" stroke-width="3.2" />
<line x1="337.2" y1="1139.7" x2="347.2" y2="1139.7" stroke="#000" stroke-width="3.2" />
<line x1="337.2" y1="1151.4" x2="347.2" y2="1151.4" stroke="#000" stroke-width="3.2" />
<circle cx="367.5" cy="1133.9" r="4.7" fill="#6B55F3" stroke="#000" stroke-width="2.1"/>
<circle cx="365.9" cy="1144.1" r="4.7" fill="#6B55F3" stroke="#000" stroke-width="2.1"/>
<circle cx="367.1" cy="1154.2" r="4.7" fill="#6B55F3" stroke="#000" stroke-width="2.1"/>
<line x1="366.7" y1="1138.2" x2="366.7" y2="1149.9" stroke="#000" stroke-width="3.2" />
<line x1="361.7" y1="1138.2" x2="371.7" y2="1138.2" stroke="#000" stroke-width="3.2" />
<line x1="361.7" y1="1149.9" x2="371.7" y2="1149.9" stroke="#000" stroke-width="3.2" />
<circle cx="395.9" cy="1160.2" r="4.7" fill="#4C9CF0" stroke="#000" stroke-width="2.1"/>
<circle cx="406.3" cy="1160.2" r="4.7" fill="#4C9CF0" stroke="#000" stroke-width="2.1"/>
<circle cx="401.1" cy="1154.2" r="4.7" fill="#4C9CF0" stroke="#000" stroke-width="2.1"/>
<circle cx="426.3" cy="1163.2" r="4.7" fill="#F0A444" stroke="#000" stroke-width="2.1"/>
<circle cx="424.7" cy="1173.5" r="4.7" fill="#F0A444" stroke="#000" stroke-width="2.1"/>
<circle cx="425.9" cy="1183.5" r="4.7" fill="#F0A444" stroke="#000" stroke-width="2.1"/>
<line x1="425.5" y1="1167.5" x2="425.5" y2="1179.2" stroke="#000" stroke-width="3.2" />
<line x1="420.5" y1="1167.5" x2="430.5" y2="1167.5" stroke="#000" stroke-width="3.2" />
<line x1="420.5" y1="1179.2" x2="430.5" y2="1179.2" stroke="#000" stroke-width="3.2" />
<circle cx="450.8" cy="1146.1" r="4.7" fill="#6B55F3" stroke="#000" stroke-width="2.1"/>
<circle cx="449.2" cy="1156.3" r="4.7" fill="#6B55F3" stroke="#000" stroke-width="2.1"/>
<circle cx="450.4" cy="1166.4" r="4.7" fill="#6B55F3" stroke="#000" stroke-width="2.1"/>
<line x1="450.0" y1="1150.4" x2="450.0" y2="1162.1" stroke="#000" stroke-width="3.2" />
<line x1="445.0" y1="1150.4" x2="455.0" y2="1150.4" stroke="#000" stroke-width="3.2" />
<line x1="445.0" y1="1162.1" x2="455.0" y2="1162.1" stroke="#000" stroke-width="3.2" />
<circle cx="479.2" cy="1160.2" r="4.7" fill="#4C9CF0" stroke="#000" stroke-width="2.1"/>
<circle cx="489.6" cy="1160.2" r="4.7" fill="#4C9CF0" stroke="#000" stroke-width="2.1"/>
<circle cx="484.4" cy="1154.2" r="4.7" fill="#4C9CF0" stroke="#000" stroke-width="2.1"/>
<circle cx="509.6" cy="1135.4" r="4.7" fill="#F0A444" stroke="#000" stroke-width="2.1"/>
<circle cx="508.0" cy="1145.6" r="4.7" fill="#F0A444" stroke="#000" stroke-width="2.1"/>
<circle cx="509.2" cy="1155.7" r="4.7" fill="#F0A444" stroke="#000" stroke-width="2.1"/>
<line x1="508.8" y1="1139.7" x2="508.8" y2="1151.4" stroke="#000" stroke-width="3.2" />
<line x1="503.8" y1="1139.7" x2="513.8" y2="1139.7" stroke="#000" stroke-width="3.2" />
<line x1="503.8" y1="1151.4" x2="513.8" y2="1151.4" stroke="#000" stroke-width="3.2" />
<circle cx="534.1" cy="1141.8" r="4.7" fill="#6B55F3" stroke="#000" stroke-width="2.1"/>
<circle cx="532.5" cy="1152.1" r="4.7" fill="#6B55F3" stroke="#000" stroke-width="2.1"/>
<circle cx="533.7" cy="1162.1" r="4.7" fill="#6B55F3" stroke="#000" stroke-width="2.1"/>
<line x1="533.3" y1="1146.1" x2="533.3" y2="1157.8" stroke="#000" stroke-width="3.2" />
<line x1="528.3" y1="1146.1" x2="538.3" y2="1146.1" stroke="#000" stroke-width="3.2" />
<line x1="528.3" y1="1157.8" x2="538.3" y2="1157.8" stroke="#000" stroke-width="3.2" />
<circle cx="562.5" cy="1160.2" r="4.7" fill="#4C9CF0" stroke="#000" stroke-width="2.1"/>
<circle cx="572.9" cy="1160.2" r="4.7" fill="#4C9CF0" stroke="#000" stroke-width="2.1"/>
<circle cx="567.7" cy="1154.2" r="4.7" fill="#4C9CF0" stroke="#000" stroke-width="2.1"/>
<circle cx="593.0" cy="1163.2" r="4.7" fill="#F0A444" stroke="#000" stroke-width="2.1"/>
<circle cx="591.4" cy="1173.5" r="4.7" fill="#F0A444" stroke="#000" stroke-width="2.1"/>
<circle cx="592.6" cy="1183.5" r="4.7" fill="#F0A444" stroke="#000" stroke-width="2.1"/>
<line x1="592.2" y1="1167.5" x2="592.2" y2="1179.2" stroke="#000" stroke-width="3.2" />
<line x1="587.2" y1="1167.5" x2="597.2" y2="1167.5" stroke="#000" stroke-width="3.2" />
<line x1="587.2" y1="1179.2" x2="597.2" y2="1179.2" stroke="#000" stroke-width="3.2" />
<circle cx="617.4" cy="1154.6" r="4.7" fill="#6B55F3" stroke="#000" stroke-width="2.1"/>
<circle cx="615.8" cy="1164.9" r="4.7" fill="#6B55F3" stroke="#000" stroke-width="2.1"/>
<circle cx="617.0" cy="1175.0" r="4.7" fill="#6B55F3" stroke="#000" stroke-width="2.1"/>
<line x1="616.6" y1="1159.0" x2="616.6" y2="1170.7" stroke="#000" stroke-width="3.2" />
<line x1="611.6" y1="1159.0" x2="621.6" y2="1159.0" stroke="#000" stroke-width="3.2" />
<line x1="611.6" y1="1170.7" x2="621.6" y2="1170.7" stroke="#000" stroke-width="3.2" />
<circle cx="645.8" cy="1160.2" r="4.7" fill="#4C9CF0" stroke="#000" stroke-width="2.1"/>
<circle cx="656.2" cy="1160.2" r="4.7" fill="#4C9CF0" stroke="#000" stroke-width="2.1"/>
<circle cx="651.0" cy="1154.2" r="4.7" fill="#4C9CF0" stroke="#000" stroke-width="2.1"/>
<circle cx="676.2" cy="1128.9" r="4.7" fill="#F0A444" stroke="#000" stroke-width="2.1"/>
<circle cx="674.7" cy="1139.2" r="4.7" fill="#F0A444" stroke="#000" stroke-width="2.1"/>
<circle cx="675.9" cy="1149.3" r="4.7" fill="#F0A444" stroke="#000" stroke-width="2.1"/>
<line x1="675.5" y1="1133.3" x2="675.5" y2="1145.0" stroke="#000" stroke-width="3.2" />
<line x1="670.5" y1="1133.3" x2="680.5" y2="1133.3" stroke="#000" stroke-width="3.2" />
<line x1="670.5" y1="1145.0" x2="680.5" y2="1145.0" stroke="#000" stroke-width="3.2" />
<circle cx="700.7" cy="1137.5" r="4.7" fill="#6B55F3" stroke="#000" stroke-width="2.1"/>
<circle cx="699.1" cy="1147.8" r="4.7" fill="#6B55F3" stroke="#000" stroke-width="2.1"/>
<circle cx="700.3" cy="1157.8" r="4.7" fill="#6B55F3" stroke="#000" stroke-width="2.1"/>
<line x1="699.9" y1="1141.8" x2="699.9" y2="1153.6" stroke="#000" stroke-width="3.2" />
<line x1="694.9" y1="1141.8" x2="704.9" y2="1141.8" stroke="#000" stroke-width="3.2" />
<line x1="694.9" y1="1153.6" x2="704.9" y2="1153.6" stroke="#000" stroke-width="3.2" />
<circle cx="729.1" cy="1160.2" r="4.7" fill="#4C9CF0" stroke="#000" stroke-width="2.1"/>
<circle cx="739.5" cy="1160.2" r="4.7" fill="#4C9CF0" stroke="#000" stroke-width="2.1"/>
<circle cx="734.3" cy="1154.2" r="4.7" fill="#4C9CF0" stroke="#000" stroke-width="2.1"/>
<circle cx="759.5" cy="1166.4" r="4.7" fill="#F0A444" stroke="#000" stroke-width="2.1"/>
<circle cx="758.0" cy="1176.7" r="4.7" fill="#F0A444" stroke="#000" stroke-width="2.1"/>
<circle cx="759.1" cy="1186.7" r="4.7" fill="#F0A444" stroke="#000" stroke-width="2.1"/>
<line x1="758.8" y1="1170.7" x2="758.8" y2="1182.5" stroke="#000" stroke-width="3.2" />
<line x1="753.8" y1="1170.7" x2="763.8" y2="1170.7" stroke="#000" stroke-width="3.2" />
<line x1="753.8" y1="1182.5" x2="763.8" y2="1182.5" stroke="#000" stroke-width="3.2" />
<circle cx="784.0" cy="1150.3" r="4.7" fill="#6B55F3" stroke="#000" stroke-width="2.1"/>
<circle cx="782.4" cy="1160.6" r="4.7" fill="#6B55F3" stroke="#000" stroke-width="2.1"/>
<circle cx="783.6" cy="1170.7" r="4.7" fill="#6B55F3" stroke="#000" stroke-width="2.1"/>
<line x1="783.2" y1="1154.7" x2="783.2" y2="1166.4" stroke="#000" stroke-width="3.2" />
<line x1="778.2" y1="1154.7" x2="788.2" y2="1154.7" stroke="#000" stroke-width="3.2" />
<line x1="778.2" y1="1166.4" x2="788.2" y2="1166.4" stroke="#000" stroke-width="3.2" />
<circle cx="812.4" cy="1160.2" r="4.7" fill="#4C9CF0" stroke="#000" stroke-width="2.1"/>
<circle cx="822.8" cy="1160.2" r="4.7" fill="#4C9CF0" stroke="#000" stroke-width="2.1"/>
<circle cx="817.6" cy="1154.2" r="4.7" fill="#4C9CF0" stroke="#000" stroke-width="2.1"/>
<circle cx="842.8" cy="1165.3" r="4.7" fill="#F0A444" stroke="#000" stroke-width="2.1"/>
<circle cx="841.2" cy="1175.6" r="4.7" fill="#F0A444" stroke="#000" stroke-width="2.1"/>
<circle cx="842.4" cy="1185.7" r="4.7" fill="#F0A444" stroke="#000" stroke-width="2.1"/>
<line x1="842.0" y1="1169.7" x2="842.0" y2="1181.4" stroke="#000" stroke-width="3.2" />
<line x1="837.0" y1="1169.7" x2="847.0" y2="1169.7" stroke="#000" stroke-width="3.2" />
<line x1="837.0" y1="1181.4" x2="847.0" y2="1181.4" stroke="#000" stroke-width="3.2" />
<circle cx="867.3" cy="1167.5" r="4.7" fill="#6B55F3" stroke="#000" stroke-width="2.1"/>
<circle cx="865.7" cy="1177.7" r="4.7" fill="#6B55F3" stroke="#000" stroke-width="2.1"/>
<circle cx="866.9" cy="1187.8" r="4.7" fill="#6B55F3" stroke="#000" stroke-width="2.1"/>
<line x1="866.5" y1="1171.8" x2="866.5" y2="1183.5" stroke="#000" stroke-width="3.2" />
<line x1="861.5" y1="1171.8" x2="871.5" y2="1171.8" stroke="#000" stroke-width="3.2" />
<line x1="861.5" y1="1183.5" x2="871.5" y2="1183.5" stroke="#000" stroke-width="3.2" />
<circle cx="895.7" cy="1160.2" r="4.7" fill="#4C9CF0" stroke="#000" stroke-width="2.1"/>
<circle cx="906.1" cy="1160.2" r="4.7" fill="#4C9CF0" stroke="#000" stroke-width="2.1"/>
<circle cx="900.9" cy="1154.2" r="4.7" fill="#4C9CF0" stroke="#000" stroke-width="2.1"/>
<circle cx="926.1" cy="1128.9" r="4.7" fill="#F0A444" stroke="#000" stroke-width="2.1"/>
<circle cx="924.5" cy="1139.2" r="4.7" fill="#F0A444" stroke="#000" stroke-width="2.1"/>
<circle cx="925.7" cy="1149.3" r="4.7" fill="#F0A444" stroke="#000" stroke-width="2.1"/>
<line x1="925.3" y1="1133.3" x2="925.3" y2="1145.0" stroke="#000" stroke-width="3.2" />
<line x1="920.3" y1="1133.3" x2="930.3" y2="1133.3" stroke="#000" stroke-width="3.2" />
<line x1="920.3" y1="1145.0" x2="930.3" y2="1145.0" stroke="#000" stroke-width="3.2" />
<circle cx="950.6" cy="1160.0" r="4.7" fill="#6B55F3" stroke="#000" stroke-width="2.1"/>
<circle cx="949.0" cy="1170.2" r="4.7" fill="#6B55F3" stroke="#000" stroke-width="2.1"/>
<circle cx="950.2" cy="1180.3" r="4.7" fill="#6B55F3" stroke="#000" stroke-width="2.1"/>
<line x1="949.8" y1="1164.3" x2="949.8" y2="1176.0" stroke="#000" stroke-width="3.2" />
<line x1="944.8" y1="1164.3" x2="954.8" y2="1164.3" stroke="#000" stroke-width="3.2" />
<line x1="944.8" y1="1176.0" x2="954.8" y2="1176.0" stroke="#000" stroke-width="3.2" />
<circle cx="979.0" cy="1160.2" r="4.7" fill="#4C9CF0" stroke="#000" stroke-width="2.1"/>
<circle cx="989.4" cy="1160.2" r="4.7" fill="#4C9CF0" stroke="#000" stroke-width="2.1"/>
<circle cx="984.2" cy="1154.2" r="4.7" fill="#4C9CF0" stroke="#000" stroke-width="2.1"/>
<circle cx="1009.5" cy="1167.5" r="4.7" fill="#F0A444" stroke="#000" stroke-width="2.1"/>
<circle cx="1007.9" cy="1177.7" r="4.7" fill="#F0A444" stroke="#000" stroke-width="2.1"/>
<circle cx="1009.1" cy="1187.8" r="4.7" fill="#F0A444" stroke="#000" stroke-width="2.1"/>
<line x1="1008.7" y1="1171.8" x2="1008.7" y2="1183.5" stroke="#000" stroke-width="3.2" />
<line x1="1003.7" y1="1171.8" x2="1013.7" y2="1171.8" stroke="#000" stroke-width="3.2" />
<line x1="1003.7" y1="1183.5" x2="1013.7" y2="1183.5" stroke="#000" stroke-width="3.2" />
<circle cx="1033.9" cy="1169.6" r="4.7" fill="#6B55F3" stroke="#000" stroke-width="2.1"/>
<circle cx="1032.3" cy="1179.9" r="4.7" fill="#6B55F3" stroke="#000" stroke-width="2.1"/>
<circle cx="1033.5" cy="1189.9" r="4.7" fill="#6B55F3" stroke="#000" stroke-width="2.1"/>
<line x1="1033.1" y1="1173.9" x2="1033.1" y2="1185.7" stroke="#000" stroke-width="3.2" />
<line x1="1028.1" y1="1173.9" x2="1038.1" y2="1173.9" stroke="#000" stroke-width="3.2" />
<line x1="1028.1" y1="1185.7" x2="1038.1" y2="1185.7" stroke="#000" stroke-width="3.2" />
<circle cx="1062.3" cy="1160.2" r="4.7" fill="#4C9CF0" stroke="#000" stroke-width="2.1"/>
<circle cx="1072.7" cy="1160.2" r="4.7" fill="#4C9CF0" stroke="#000" stroke-width="2.1"/>
<circle cx="1067.5" cy="1154.2" r="4.7" fill="#4C9CF0" stroke="#000" stroke-width="2.1"/>
<circle cx="1092.8" cy="1172.8" r="4.7" fill="#F0A444" stroke="#000" stroke-width="2.1"/>
<circle cx="1091.2" cy="1183.1" r="4.7" fill="#F0A444" stroke="#000" stroke-width="2.1"/>
<circle cx="1092.4" cy="1193.1" r="4.7" fill="#F0A444" stroke="#000" stroke-width="2.1"/>
<line x1="1092.0" y1="1177.1" x2="1092.0" y2="1188.9" stroke="#000" stroke-width="3.2" />
<line x1="1087.0" y1="1177.1" x2="1097.0" y2="1177.1" stroke="#000" stroke-width="3.2" />
<line x1="1087.0" y1="1188.9" x2="1097.0" y2="1188.9" stroke="#000" stroke-width="3.2" />
<circle cx="1117.2" cy="1143.9" r="4.7" fill="#6B55F3" stroke="#000" stroke-width="2.1"/>
<circle cx="1115.6" cy="1154.2" r="4.7" fill="#6B55F3" stroke="#000" stroke-width="2.1"/>
<circle cx="1116.8" cy="1164.2" r="4.7" fill="#6B55F3" stroke="#000" stroke-width="2.1"/>
<line x1="1116.4" y1="1148.3" x2="1116.4" y2="1160.0" stroke="#000" stroke-width="3.2" />
<line x1="1111.4" y1="1148.3" x2="1121.4" y2="1148.3" stroke="#000" stroke-width="3.2" />
<line x1="1111.4" y1="1160.0" x2="1121.4" y2="1160.0" stroke="#000" stroke-width="3.2" />
<circle cx="1145.6" cy="1160.2" r="4.7" fill="#4C9CF0" stroke="#000" stroke-width="2.1"/>
<circle cx="1156.0" cy="1160.2" r="4.7" fill="#4C9CF0" stroke="#000" stroke-width="2.1"/>
<circle cx="1150.8" cy="1154.2" r="4.7" fill="#4C9CF0" stroke="#000" stroke-width="2.1"/>
<circle cx="1176.0" cy="1128.9" r="4.7" fill="#F0A444" stroke="#000" stroke-width="2.1"/>
<circle cx="1174.5" cy="1139.2" r="4.7" fill="#F0A444" stroke="#000" stroke-width="2.1"/>
<circle cx="1175.7" cy="1149.3" r="4.7" fill="#F0A444" stroke="#000" stroke-width="2.1"/>
<line x1="1175.2" y1="1133.3" x2="1175.2" y2="1145.0" stroke="#000" stroke-width="3.2" />
<line x1="1170.2" y1="1133.3" x2="1180.2" y2="1133.3" stroke="#000" stroke-width="3.2" />
<line x1="1170.2" y1="1145.0" x2="1180.2" y2="1145.0" stroke="#000" stroke-width="3.2" />
<circle cx="1200.5" cy="1135.4" r="4.7" fill="#6B55F3" stroke="#000" stroke-width="2.1"/>
<circle cx="1198.9" cy="1145.6" r="4.7" fill="#6B55F3" stroke="#000" stroke-width="2.1"/>
<circle cx="1200.1" cy="1155.7" r="4.7" fill="#6B55F3" stroke="#000" stroke-width="2.1"/>
<line x1="1199.7" y1="1139.7" x2="1199.7" y2="1151.4" stroke="#000" stroke-width="3.2" />
<line x1="1194.7" y1="1139.7" x2="1204.7" y2="1139.7" stroke="#000" stroke-width="3.2" />
<line x1="1194.7" y1="1151.4" x2="1204.7" y2="1151.4" stroke="#000" stroke-width="3.2" />
<circle cx="1228.9" cy="1160.2" r="4.7" fill="#4C9CF0" stroke="#000" stroke-width="2.1"/>
<circle cx="1239.3" cy="1160.2" r="4.7" fill="#4C9CF0" stroke="#000" stroke-width="2.1"/>
<circle cx="1234.1" cy="1154.2" r="4.7" fill="#4C9CF0" stroke="#000" stroke-width="2.1"/>
<circle cx="1259.3" cy="1131.1" r="4.7" fill="#F0A444" stroke="#000" stroke-width="2.1"/>
<circle cx="1257.8" cy="1141.4" r="4.7" fill="#F0A444" stroke="#000" stroke-width="2.1"/>
<circle cx="1259.0" cy="1151.4" r="4.7" fill="#F0A444" stroke="#000" stroke-width="2.1"/>
<line x1="1258.5" y1="1135.4" x2="1258.5" y2="1147.1" stroke="#000" stroke-width="3.2" />
<line x1="1253.5" y1="1135.4" x2="1263.5" y2="1135.4" stroke="#000" stroke-width="3.2" />
<line x1="1253.5" y1="1147.1" x2="1263.5" y2="1147.1" stroke="#000" stroke-width="3.2" />
<circle cx="1283.8" cy="1132.2" r="4.7" fill="#6B55F3" stroke="#000" stroke-width="2.1"/>
<circle cx="1282.2" cy="1142.4" r="4.7" fill="#6B55F3" stroke="#000" stroke-width="2.1"/>
<circle cx="1283.4" cy="1152.5" r="4.7" fill="#6B55F3" stroke="#000" stroke-width="2.1"/>
<line x1="1283.0" y1="1136.5" x2="1283.0" y2="1148.2" stroke="#000" stroke-width="3.2" />
<line x1="1278.0" y1="1136.5" x2="1288.0" y2="1136.5" stroke="#000" stroke-width="3.2" />
<line x1="1278.0" y1="1148.2" x2="1288.0" y2="1148.2" stroke="#000" stroke-width="3.2" />
<circle cx="1312.2" cy="1160.2" r="4.7" fill="#4C9CF0" stroke="#000" stroke-width="2.1"/>
<circle cx="1322.6" cy="1160.2" r="4.7" fill="#4C9CF0" stroke="#000" stroke-width="2.1"/>
<circle cx="1317.4" cy="1154.2" r="4.7" fill="#4C9CF0" stroke="#000" stroke-width="2.1"/>
<circle cx="1342.7" cy="1140.7" r="4.7" fill="#F0A444" stroke="#000" stroke-width="2.1"/>
<circle cx="1341.1" cy="1151.0" r="4.7" fill="#F0A444" stroke="#000" stroke-width="2.1"/>
<circle cx="1342.3" cy="1161.0" r="4.7" fill="#F0A444" stroke="#000" stroke-width="2.1"/>
<line x1="1341.9" y1="1145.0" x2="1341.9" y2="1156.8" stroke="#000" stroke-width="3.2" />
<line x1="1336.9" y1="1145.0" x2="1346.9" y2="1145.0" stroke="#000" stroke-width="3.2" />
<line x1="1336.9" y1="1156.8" x2="1346.9" y2="1156.8" stroke="#000" stroke-width="3.2" />
<circle cx="1367.1" cy="1148.2" r="4.7" fill="#6B55F3" stroke="#000" stroke-width="2.1"/>
<circle cx="1365.5" cy="1158.5" r="4.7" fill="#6B55F3" stroke="#000" stroke-width="2.1"/>
<circle cx="1366.7" cy="1168.5" r="4.7" fill="#6B55F3" stroke="#000" stroke-width="2.1"/>
<line x1="1366.3" y1="1152.5" x2="1366.3" y2="1164.3" stroke="#000" stroke-width="3.2" />
<line x1="1361.3" y1="1152.5" x2="1371.3" y2="1152.5" stroke="#000" stroke-width="3.2" />
<line x1="1361.3" y1="1164.3" x2="1371.3" y2="1164.3" stroke="#000" stroke-width="3.2" />
<circle cx="1395.5" cy="1160.2" r="4.7" fill="#4C9CF0" stroke="#000" stroke-width="2.1"/>
<circle cx="1405.9" cy="1160.2" r="4.7" fill="#4C9CF0" stroke="#000" stroke-width="2.1"/>
<circle cx="1400.7" cy="1154.2" r="4.7" fill="#4C9CF0" stroke="#000" stroke-width="2.1"/>
<circle cx="1426.0" cy="1149.1" r="4.7" fill="#F0A444" stroke="#000" stroke-width="2.1"/>
<circle cx="1424.4" cy="1159.3" r="4.7" fill="#F0A444" stroke="#000" stroke-width="2.1"/>
<circle cx="1425.6" cy="1169.4" r="4.7" fill="#F0A444" stroke="#000" stroke-width="2.1"/>
<line x1="1425.2" y1="1153.4" x2="1425.2" y2="1165.1" stroke="#000" stroke-width="3.2" />
<line x1="1420.2" y1="1153.4" x2="1430.2" y2="1153.4" stroke="#000" stroke-width="3.2" />
<line x1="1420.2" y1="1165.1" x2="1430.2" y2="1165.1" stroke="#000" stroke-width="3.2" />
<circle cx="1450.4" cy="1131.1" r="4.7" fill="#6B55F3" stroke="#000" stroke-width="2.1"/>
<circle cx="1448.8" cy="1141.4" r="4.7" fill="#6B55F3" stroke="#000" stroke-width="2.1"/>
<circle cx="1450.0" cy="1151.4" r="4.7" fill="#6B55F3" stroke="#000" stroke-width="2.1"/>
<line x1="1449.6" y1="1135.4" x2="1449.6" y2="1147.1" stroke="#000" stroke-width="3.2" />
<line x1="1444.6" y1="1135.4" x2="1454.6" y2="1135.4" stroke="#000" stroke-width="3.2" />
<line x1="1444.6" y1="1147.1" x2="1454.6" y2="1147.1" stroke="#000" stroke-width="3.2" />
<circle cx="1478.8" cy="1160.2" r="4.7" fill="#4C9CF0" stroke="#000" stroke-width="2.1"/>
<circle cx="1489.2" cy="1160.2" r="4.7" fill="#4C9CF0" stroke="#000" stroke-width="2.1"/>
<circle cx="1484.0" cy="1154.2" r="4.7" fill="#4C9CF0" stroke="#000" stroke-width="2.1"/>
<circle cx="1509.2" cy="1166.0" r="4.7" fill="#F0A444" stroke="#000" stroke-width="2.1"/>
<circle cx="1507.7" cy="1176.2" r="4.7" fill="#F0A444" stroke="#000" stroke-width="2.1"/>
<circle cx="1508.9" cy="1186.3" r="4.7" fill="#F0A444" stroke="#000" stroke-width="2.1"/>
<line x1="1508.5" y1="1170.3" x2="1508.5" y2="1182.0" stroke="#000" stroke-width="3.2" />
<line x1="1503.5" y1="1170.3" x2="1513.5" y2="1170.3" stroke="#000" stroke-width="3.2" />
<line x1="1503.5" y1="1182.0" x2="1513.5" y2="1182.0" stroke="#000" stroke-width="3.2" />
<circle cx="1533.7" cy="1154.6" r="4.7" fill="#6B55F3" stroke="#000" stroke-width="2.1"/>
<circle cx="1532.1" cy="1164.9" r="4.7" fill="#6B55F3" stroke="#000" stroke-width="2.1"/>
<circle cx="1533.3" cy="1175.0" r="4.7" fill="#6B55F3" stroke="#000" stroke-width="2.1"/>
<line x1="1532.9" y1="1159.0" x2="1532.9" y2="1170.7" stroke="#000" stroke-width="3.2" />
<line x1="1527.9" y1="1159.0" x2="1537.9" y2="1159.0" stroke="#000" stroke-width="3.2" />
<line x1="1527.9" y1="1170.7" x2="1537.9" y2="1170.7" stroke="#000" stroke-width="3.2" />
<circle cx="1562.1" cy="1160.2" r="4.7" fill="#4C9CF0" stroke="#000" stroke-width="2.1"/>
<circle cx="1572.5" cy="1160.2" r="4.7" fill="#4C9CF0" stroke="#000" stroke-width="2.1"/>
<circle cx="1567.3" cy="1154.2" r="4.7" fill="#4C9CF0" stroke="#000" stroke-width="2.1"/>
<circle cx="1592.5" cy="1161.7" r="4.7" fill="#F0A444" stroke="#000" stroke-width="2.1"/>
<circle cx="1591.0" cy="1172.0" r="4.7" fill="#F0A444" stroke="#000" stroke-width="2.1"/>
<circle cx="1592.2" cy="1182.0" r="4.7" fill="#F0A444" stroke="#000" stroke-width="2.1"/>
<line x1="1591.8" y1="1166.0" x2="1591.8" y2="1177.8" stroke="#000" stroke-width="3.2" />
<line x1="1586.8" y1="1166.0" x2="1596.8" y2="1166.0" stroke="#000" stroke-width="3.2" />
<line x1="1586.8" y1="1177.8" x2="1596.8" y2="1177.8" stroke="#000" stroke-width="3.2" />
<circle cx="1617.0" cy="1150.3" r="4.7" fill="#6B55F3" stroke="#000" stroke-width="2.1"/>
<circle cx="1615.4" cy="1160.6" r="4.7" fill="#6B55F3" stroke="#000" stroke-width="2.1"/>
<circle cx="1616.6" cy="1170.7" r="4.7" fill="#6B55F3" stroke="#000" stroke-width="2.1"/>
<line x1="1616.2" y1="1154.7" x2="1616.2" y2="1166.4" stroke="#000" stroke-width="3.2" />
<line x1="1611.2" y1="1154.7" x2="1621.2" y2="1154.7" stroke="#000" stroke-width="3.2" />
<line x1="1611.2" y1="1166.4" x2="1621.2" y2="1166.4" stroke="#000" stroke-width="3.2" />
<circle cx="1645.4" cy="1160.2" r="4.7" fill="#4C9CF0" stroke="#000" stroke-width="2.1"/>
<circle cx="1655.8" cy="1160.2" r="4.7" fill="#4C9CF0" stroke="#000" stroke-width="2.1"/>
<circle cx="1650.6" cy="1154.2" r="4.7" fill="#4C9CF0" stroke="#000" stroke-width="2.1"/>
<circle cx="1675.8" cy="1165.3" r="4.7" fill="#F0A444" stroke="#000" stroke-width="2.1"/>
<circle cx="1674.2" cy="1175.6" r="4.7" fill="#F0A444" stroke="#000" stroke-width="2.1"/>
<circle cx="1675.5" cy="1185.7" r="4.7" fill="#F0A444" stroke="#000" stroke-width="2.1"/>
<line x1="1675.0" y1="1169.7" x2="1675.0" y2="1181.4" stroke="#000" stroke-width="3.2" />
<line x1="1670.0" y1="1169.7" x2="1680.0" y2="1169.7" stroke="#000" stroke-width="3.2" />
<line x1="1670.0" y1="1181.4" x2="1680.0" y2="1181.4" stroke="#000" stroke-width="3.2" />
<circle cx="1700.3" cy="1143.9" r="4.7" fill="#6B55F3" stroke="#000" stroke-width="2.1"/>
<circle cx="1698.7" cy="1154.2" r="4.7" fill="#6B55F3" stroke="#000" stroke-width="2.1"/>
<circle cx="1699.9" cy="1164.2" r="4.7" fill="#6B55F3" stroke="#000" stroke-width="2.1"/>
<line x1="1699.5" y1="1148.3" x2="1699.5" y2="1160.0" stroke="#000" stroke-width="3.2" />
<line x1="1694.5" y1="1148.3" x2="1704.5" y2="1148.3" stroke="#000" stroke-width="3.2" />
<line x1="1694.5" y1="1160.0" x2="1704.5" y2="1160.0" stroke="#000" stroke-width="3.2" />
<circle cx="1728.7" cy="1160.2" r="4.7" fill="#4C9CF0" stroke="#000" stroke-width="2.1"/>
<circle cx="1739.1" cy="1160.2" r="4.7" fill="#4C9CF0" stroke="#000" stroke-width="2.1"/>
<circle cx="1733.9" cy="1154.2" r="4.7" fill="#4C9CF0" stroke="#000" stroke-width="2.1"/>
<circle cx="1759.2" cy="1168.5" r="4.7" fill="#F0A444" stroke="#000" stroke-width="2.1"/>
<circle cx="1757.6" cy="1178.8" r="4.7" fill="#F0A444" stroke="#000" stroke-width="2.1"/>
<circle cx="1758.8" cy="1188.9" r="4.7" fill="#F0A444" stroke="#000" stroke-width="2.1"/>
<line x1="1758.4" y1="1172.9" x2="1758.4" y2="1184.6" stroke="#000" stroke-width="3.2" />
<line x1="1753.4" y1="1172.9" x2="1763.4" y2="1172.9" stroke="#000" stroke-width="3.2" />
<line x1="1753.4" y1="1184.6" x2="1763.4" y2="1184.6" stroke="#000" stroke-width="3.2" />
<circle cx="1783.6" cy="1164.2" r="4.7" fill="#6B55F3" stroke="#000" stroke-width="2.1"/>
<circle cx="1782.0" cy="1174.5" r="4.7" fill="#6B55F3" stroke="#000" stroke-width="2.1"/>
<circle cx="1783.2" cy="1184.6" r="4.7" fill="#6B55F3" stroke="#000" stroke-width="2.1"/>
<line x1="1782.8" y1="1168.6" x2="1782.8" y2="1180.3" stroke="#000" stroke-width="3.2" />
<line x1="1777.8" y1="1168.6" x2="1787.8" y2="1168.6" stroke="#000" stroke-width="3.2" />
<line x1="1777.8" y1="1180.3" x2="1787.8" y2="1180.3" stroke="#000" stroke-width="3.2" />
<circle cx="1812.0" cy="1160.2" r="4.7" fill="#4C9CF0" stroke="#000" stroke-width="2.1"/>
<circle cx="1822.4" cy="1160.2" r="4.7" fill="#4C9CF0" stroke="#000" stroke-width="2.1"/>
<circle cx="1817.2" cy="1154.2" r="4.7" fill="#4C9CF0" stroke="#000" stroke-width="2.1"/>
<circle cx="1842.5" cy="1150.3" r="4.7" fill="#F0A444" stroke="#000" stroke-width="2.1"/>
<circle cx="1840.9" cy="1160.6" r="4.7" fill="#F0A444" stroke="#000" stroke-width="2.1"/>
<circle cx="1842.1" cy="1170.7" r="4.7" fill="#F0A444" stroke="#000" stroke-width="2.1"/>
<line x1="1841.7" y1="1154.7" x2="1841.7" y2="1166.4" stroke="#000" stroke-width="3.2" />
<line x1="1836.7" y1="1154.7" x2="1846.7" y2="1154.7" stroke="#000" stroke-width="3.2" />
<line x1="1836.7" y1="1166.4" x2="1846.7" y2="1166.4" stroke="#000" stroke-width="3.2" />
<circle cx="1866.9" cy="1149.1" r="4.7" fill="#6B55F3" stroke="#000" stroke-width="2.1"/>
<circle cx="1865.3" cy="1159.3" r="4.7" fill="#6B55F3" stroke="#000" stroke-width="2.1"/>
<circle cx="1866.5" cy="1169.4" r="4.7" fill="#6B55F3" stroke="#000" stroke-width="2.1"/>
<line x1="1866.1" y1="1153.4" x2="1866.1" y2="1165.1" stroke="#000" stroke-width="3.2" />
<line x1="1861.1" y1="1153.4" x2="1871.1" y2="1153.4" stroke="#000" stroke-width="3.2" />
<line x1="1861.1" y1="1165.1" x2="1871.1" y2="1165.1" stroke="#000" stroke-width="3.2" />
<path d="M150.4,1081.7 V1070.5 H199.7 V1081.7" fill="none" stroke="#000" stroke-width="4.2"/>
<path d="M150.4,1124.4 V1112.6 H178.9 V1124.4" fill="none" stroke="#000" stroke-width="4.2"/>
<text x="175.0" y="1062.7" font-size="22.3" text-anchor="middle">NS</text>
<text x="149.3" y="1105.7" font-size="22.3">NS</text>
<path d="M233.7,1081.7 V1070.5 H283.0 V1081.7" fill="none" stroke="#000" stroke-width="4.2"/>
<path d="M233.7,1124.4 V1112.6 H262.2 V1124.4" fill="none" stroke="#000" stroke-width="4.2"/>
<text x="258.4" y="1062.7" font-size="22.3" text-anchor="middle">NS</text>
<text x="232.6" y="1105.7" font-size="22.3">NS</text>
<path d="M317.0,1081.7 V1070.5 H366.3 V1081.7" fill="none" stroke="#000" stroke-width="4.2"/>
<path d="M317.0,1124.4 V1112.6 H345.5 V1124.4" fill="none" stroke="#000" stroke-width="4.2"/>
<text x="341.6" y="1062.7" font-size="22.3" text-anchor="middle">NS</text>
<text x="315.9" y="1105.7" font-size="22.3">NS</text>
<path d="M400.3,1081.7 V1070.5 H449.6 V1081.7" fill="none" stroke="#000" stroke-width="4.2"/>
<path d="M400.3,1124.4 V1112.6 H428.8 V1124.4" fill="none" stroke="#000" stroke-width="4.2"/>
<text x="424.9" y="1062.7" font-size="22.3" text-anchor="middle">NS</text>
<text x="399.2" y="1105.7" font-size="22.3">NS</text>
<path d="M483.6,1081.7 V1070.5 H532.9 V1081.7" fill="none" stroke="#000" stroke-width="4.2"/>
<path d="M483.6,1124.4 V1112.6 H512.1 V1124.4" fill="none" stroke="#000" stroke-width="4.2"/>
<text x="508.2" y="1062.7" font-size="22.3" text-anchor="middle">NS</text>
<text x="482.5" y="1105.7" font-size="22.3">NS</text>
<path d="M566.9,1081.7 V1070.5 H616.2 V1081.7" fill="none" stroke="#000" stroke-width="4.2"/>
<path d="M566.9,1124.4 V1112.6 H595.4 V1124.4" fill="none" stroke="#000" stroke-width="4.2"/>
<text x="591.6" y="1062.7" font-size="22.3" text-anchor="middle">NS</text>
<text x="565.8" y="1105.7" font-size="22.3">NS</text>
<path d="M650.2,1081.7 V1070.5 H699.5 V1081.7" fill="none" stroke="#000" stroke-width="4.2"/>
<path d="M650.2,1124.4 V1112.6 H678.7 V1124.4" fill="none" stroke="#000" stroke-width="4.2"/>
<text x="674.9" y="1062.7" font-size="22.3" text-anchor="middle">NS</text>
<text x="649.1" y="1105.7" font-size="22.3">NS</text>
<path d="M733.5,1081.7 V1070.5 H782.8 V1081.7" fill="none" stroke="#000" stroke-width="4.2"/>
<path d="M733.5,1124.4 V1112.6 H762.0 V1124.4" fill="none" stroke="#000" stroke-width="4.2"/>
<text x="758.1" y="1062.7" font-size="22.3" text-anchor="middle">NS</text>
<text x="732.4" y="1105.7" font-size="22.3">NS</text>
<path d="M816.8,1081.7 V1070.5 H866.1 V1081.7" fill="none" stroke="#000" stroke-width="4.2"/>
<path d="M816.8,1124.4 V1112.6 H845.3 V1124.4" fill="none" stroke="#000" stroke-width="4.2"/>
<text x="841.4" y="1062.7" font-size="22.3" text-anchor="middle">NS</text>
<text x="815.7" y="1105.7" font-size="22.3">NS</text>
<path d="M900.1,1081.7 V1070.5 H949.4 V1081.7" fill="none" stroke="#000" stroke-width="4.2"/>
<path d="M900.1,1124.4 V1112.6 H928.6 V1124.4" fill="none" stroke="#000" stroke-width="4.2"/>
<text x="924.7" y="1062.7" font-size="22.3" text-anchor="middle">NS</text>
<text x="899.0" y="1105.7" font-size="22.3">NS</text>
<path d="M983.4,1081.7 V1070.5 H1032.7 V1081.7" fill="none" stroke="#000" stroke-width="4.2"/>
<path d="M983.4,1124.4 V1112.6 H1011.9 V1124.4" fill="none" stroke="#000" stroke-width="4.2"/>
<text x="1008.1" y="1062.7" font-size="22.3" text-anchor="middle">NS</text>
<text x="982.3" y="1105.7" font-size="22.3">NS</text>
<path d="M1066.7,1081.7 V1070.5 H1116.0 V1081.7" fill="none" stroke="#000" stroke-width="4.2"/>
<path d="M1066.7,1124.4 V1112.6 H1095.2 V1124.4" fill="none" stroke="#000" stroke-width="4.2"/>
<text x="1091.3" y="1062.7" font-size="22.3" text-anchor="middle">NS</text>
<text x="1065.6" y="1105.7" font-size="22.3">NS</text>
<path d="M1150.0,1081.7 V1070.5 H1199.3 V1081.7" fill="none" stroke="#000" stroke-width="4.2"/>
<path d="M1150.0,1124.4 V1112.6 H1178.5 V1124.4" fill="none" stroke="#000" stroke-width="4.2"/>
<text x="1174.6" y="1062.7" font-size="22.3" text-anchor="middle">NS</text>
<text x="1148.9" y="1105.7" font-size="22.3">NS</text>
<path d="M1233.3,1081.7 V1070.5 H1282.6 V1081.7" fill="none" stroke="#000" stroke-width="4.2"/>
<path d="M1233.3,1124.4 V1112.6 H1261.8 V1124.4" fill="none" stroke="#000" stroke-width="4.2"/>
<text x="1257.9" y="1062.7" font-size="22.3" text-anchor="middle">NS</text>
<text x="1232.2" y="1105.7" font-size="22.3">NS</text>
<path d="M1316.6,1081.7 V1070.5 H1365.9 V1081.7" fill="none" stroke="#000" stroke-width="4.2"/>
<path d="M1316.6,1124.4 V1112.6 H1345.1 V1124.4" fill="none" stroke="#000" stroke-width="4.2"/>
<text x="1341.2" y="1062.7" font-size="22.3" text-anchor="middle">NS</text>
<text x="1315.5" y="1105.7" font-size="22.3">NS</text>
<path d="M1399.9,1081.7 V1070.5 H1449.2 V1081.7" fill="none" stroke="#000" stroke-width="4.2"/>
<path d="M1399.9,1124.4 V1112.6 H1428.4 V1124.4" fill="none" stroke="#000" stroke-width="4.2"/>
<text x="1424.5" y="1062.7" font-size="22.3" text-anchor="middle">NS</text>
<text x="1398.8" y="1105.7" font-size="22.3">NS</text>
<path d="M1483.2,1081.7 V1070.5 H1532.5 V1081.7" fill="none" stroke="#000" stroke-width="4.2"/>
<path d="M1483.2,1124.4 V1112.6 H1511.7 V1124.4" fill="none" stroke="#000" stroke-width="4.2"/>
<text x="1507.8" y="1062.7" font-size="22.3" text-anchor="middle">NS</text>
<text x="1482.1" y="1105.7" font-size="22.3">NS</text>
<path d="M1566.5,1081.7 V1070.5 H1615.8 V1081.7" fill="none" stroke="#000" stroke-width="4.2"/>
<path d="M1566.5,1124.4 V1112.6 H1595.0 V1124.4" fill="none" stroke="#000" stroke-width="4.2"/>
<text x="1591.1" y="1062.7" font-size="22.3" text-anchor="middle">NS</text>
<text x="1565.4" y="1105.7" font-size="22.3">NS</text>
<path d="M1649.8,1081.7 V1070.5 H1699.1 V1081.7" fill="none" stroke="#000" stroke-width="4.2"/>
<path d="M1649.8,1124.4 V1112.6 H1678.3 V1124.4" fill="none" stroke="#000" stroke-width="4.2"/>
<text x="1674.4" y="1062.7" font-size="22.3" text-anchor="middle">NS</text>
<text x="1648.7" y="1105.7" font-size="22.3">NS</text>
<path d="M1733.1,1081.7 V1070.5 H1782.4 V1081.7" fill="none" stroke="#000" stroke-width="4.2"/>
<path d="M1733.1,1124.4 V1112.6 H1761.6 V1124.4" fill="none" stroke="#000" stroke-width="4.2"/>
<text x="1757.8" y="1062.7" font-size="22.3" text-anchor="middle">NS</text>
<text x="1732.0" y="1105.7" font-size="22.3">NS</text>
<path d="M1816.4,1081.7 V1070.5 H1865.7 V1081.7" fill="none" stroke="#000" stroke-width="4.2"/>
<path d="M1816.4,1124.4 V1112.6 H1844.9 V1124.4" fill="none" stroke="#000" stroke-width="4.2"/>
<text x="1841.0" y="1062.7" font-size="22.3" text-anchor="middle">NS</text>
<text x="1815.3" y="1105.7" font-size="22.3">NS</text>
<line x1="130.7" y1="1049.9" x2="130.7" y2="1374.9" stroke="#000" stroke-width="4.4" />
<line x1="117.7" y1="1372.9" x2="1890.0" y2="1372.9" stroke="#000" stroke-width="4.4" />
<line x1="117.7" y1="1051.9" x2="130.7" y2="1051.9" stroke="#000" stroke-width="4.4" />
<text x="113.0" y="1058.1" font-size="28" text-anchor="end">1.5</text>
<line x1="117.7" y1="1158.9" x2="130.7" y2="1158.9" stroke="#000" stroke-width="4.4" />
<text x="113.0" y="1165.1" font-size="28" text-anchor="end">1.0</text>
<line x1="117.7" y1="1265.9" x2="130.7" y2="1265.9" stroke="#000" stroke-width="4.4" />
<text x="113.0" y="1272.1" font-size="28" text-anchor="end">0.5</text>
<line x1="117.7" y1="1372.9" x2="130.7" y2="1372.9" stroke="#000" stroke-width="4.4" />
<text x="113.0" y="1379.1" font-size="28" text-anchor="end">0.0</text>
<line x1="175.6" y1="1372.9" x2="175.6" y2="1385.9" stroke="#000" stroke-width="4.4" />
<text x="186.1" y="1404.9" font-size="28" text-anchor="end" font-style="italic" transform="rotate(-30 186.1 1404.9)">C16A3.5</text>
<line x1="258.9" y1="1372.9" x2="258.9" y2="1385.9" stroke="#000" stroke-width="4.4" />
<text x="269.4" y="1404.9" font-size="28" text-anchor="end" font-style="italic" transform="rotate(-30 269.4 1404.9)">C18E9.4</text>
<line x1="342.2" y1="1372.9" x2="342.2" y2="1385.9" stroke="#000" stroke-width="4.4" />
<text x="352.7" y="1404.9" font-size="28" text-anchor="end" font-style="italic" transform="rotate(-30 352.7 1404.9)">C34B2.8</text>
<line x1="425.5" y1="1372.9" x2="425.5" y2="1385.9" stroke="#000" stroke-width="4.4" />
<text x="436.0" y="1404.9" font-size="28" text-anchor="end" font-style="italic" transform="rotate(-30 436.0 1404.9)">D2030.4</text>
<line x1="508.8" y1="1372.9" x2="508.8" y2="1385.9" stroke="#000" stroke-width="4.4" />
<text x="519.3" y="1404.9" font-size="28" text-anchor="end" font-style="italic" transform="rotate(-30 519.3 1404.9)">F42G8.10</text>
<line x1="592.2" y1="1372.9" x2="592.2" y2="1385.9" stroke="#000" stroke-width="4.4" />
<text x="602.7" y="1404.9" font-size="28" text-anchor="end" font-style="italic" transform="rotate(-30 602.7 1404.9)">F44G4.2</text>
<line x1="675.5" y1="1372.9" x2="675.5" y2="1385.9" stroke="#000" stroke-width="4.4" />
<text x="686.0" y="1404.9" font-size="28" text-anchor="end" font-style="italic" transform="rotate(-30 686.0 1404.9)">F45H10.3</text>
<line x1="758.8" y1="1372.9" x2="758.8" y2="1385.9" stroke="#000" stroke-width="4.4" />
<text x="769.2" y="1404.9" font-size="28" text-anchor="end" font-style="italic" transform="rotate(-30 769.2 1404.9)">F53F4.10</text>
<line x1="842.0" y1="1372.9" x2="842.0" y2="1385.9" stroke="#000" stroke-width="4.4" />
<text x="852.5" y="1404.9" font-size="28" text-anchor="end" font-style="italic" transform="rotate(-30 852.5 1404.9)">F59C6.5</text>
<line x1="925.3" y1="1372.9" x2="925.3" y2="1385.9" stroke="#000" stroke-width="4.4" />
<text x="935.8" y="1404.9" font-size="28" text-anchor="end" font-style="italic" transform="rotate(-30 935.8 1404.9)">Y51H1A.3</text>
<line x1="1008.7" y1="1372.9" x2="1008.7" y2="1385.9" stroke="#000" stroke-width="4.4" />
<text x="1019.2" y="1404.9" font-size="28" text-anchor="end" font-style="italic" transform="rotate(-30 1019.2 1404.9)">Y54F10AM.5</text>
<line x1="1092.0" y1="1372.9" x2="1092.0" y2="1385.9" stroke="#000" stroke-width="4.4" />
<text x="1102.5" y="1404.9" font-size="28" text-anchor="end" font-style="italic" transform="rotate(-30 1102.5 1404.9)">nuo-1</text>
<line x1="1175.2" y1="1372.9" x2="1175.2" y2="1385.9" stroke="#000" stroke-width="4.4" />
<text x="1185.8" y="1404.9" font-size="28" text-anchor="end" font-style="italic" transform="rotate(-30 1185.8 1404.9)">nuo-2</text>
<line x1="1258.5" y1="1372.9" x2="1258.5" y2="1385.9" stroke="#000" stroke-width="4.4" />
<text x="1269.0" y="1404.9" font-size="28" text-anchor="end" font-style="italic" transform="rotate(-30 1269.0 1404.9)">nuo-3</text>
<line x1="1341.9" y1="1372.9" x2="1341.9" y2="1385.9" stroke="#000" stroke-width="4.4" />
<text x="1352.4" y="1404.9" font-size="28" text-anchor="end" font-style="italic" transform="rotate(-30 1352.4 1404.9)">nuo-4</text>
<line x1="1425.2" y1="1372.9" x2="1425.2" y2="1385.9" stroke="#000" stroke-width="4.4" />
<text x="1435.7" y="1404.9" font-size="28" text-anchor="end" font-style="italic" transform="rotate(-30 1435.7 1404.9)">nuo-5</text>
<line x1="1508.5" y1="1372.9" x2="1508.5" y2="1385.9" stroke="#000" stroke-width="4.4" />
<text x="1519.0" y="1404.9" font-size="28" text-anchor="end" font-style="italic" transform="rotate(-30 1519.0 1404.9)">nuo-6</text>
<line x1="1591.8" y1="1372.9" x2="1591.8" y2="1385.9" stroke="#000" stroke-width="4.4" />
<text x="1602.2" y="1404.9" font-size="28" text-anchor="end" font-style="italic" transform="rotate(-30 1602.2 1404.9)">nduf-5</text>
<line x1="1675.0" y1="1372.9" x2="1675.0" y2="1385.9" stroke="#000" stroke-width="4.4" />
<text x="1685.5" y="1404.9" font-size="28" text-anchor="end" font-style="italic" transform="rotate(-30 1685.5 1404.9)">nduf-6</text>
<line x1="1758.4" y1="1372.9" x2="1758.4" y2="1385.9" stroke="#000" stroke-width="4.4" />
<text x="1768.9" y="1404.9" font-size="28" text-anchor="end" font-style="italic" transform="rotate(-30 1768.9 1404.9)">nduf-7</text>
<line x1="1841.7" y1="1372.9" x2="1841.7" y2="1385.9" stroke="#000" stroke-width="4.4" />
<text x="1852.2" y="1404.9" font-size="28" text-anchor="end" font-style="italic" transform="rotate(-30 1852.2 1404.9)">nduf-9</text>
<rect x="1452.6" y="1005.8" width="29.3" height="13.3" fill="#9ACDFA" stroke="#56A3F4" stroke-width="3.2" rx="2"/>
<text x="1491.7" y="1022.3" font-size="28.1">N2</text>
<rect x="1546.6" y="1005.8" width="29.3" height="13.3" fill="#F6E2C8" stroke="#E9A152" stroke-width="3.2" rx="2"/>
<text x="1584.3" y="1022.3" font-size="28.1" font-style="italic">larp-1(yq421)</text>
<rect x="1776.6" y="1005.8" width="29.3" height="13.3" fill="#A9A3FE" stroke="#7B68F2" stroke-width="3.2" rx="2"/>
<text x="1816.0" y="1022.3" font-size="28.1" font-style="italic">larp-1(yq565)</text>
<text x="63.6" y="1210.9" font-size="28.1" text-anchor="middle" transform="rotate(-90 63.6 1210.9)">Relative mRNA levels</text>
<text x="4.5" y="1522.5" font-size="48">g</text>
<text x="324.5" y="1519.7" font-size="28.2" text-anchor="middle">ATP synthase complex genes</text>
<rect x="118.4" y="1712.8" width="20.6" height="214.2" fill="#56A3F4"/>
<rect x="122.0" y="1716.0" width="13.4" height="211.0" fill="#9ACDFA"/>
<rect x="141.8" y="1708.5" width="20.6" height="218.5" fill="#E9A152"/>
<rect x="145.4" y="1711.8" width="13.4" height="215.2" fill="#F6E2C8"/>
<rect x="165.2" y="1714.9" width="20.6" height="212.1" fill="#7B68F2"/>
<rect x="168.8" y="1718.2" width="13.4" height="208.8" fill="#A9A3FE"/>
<rect x="198.2" y="1712.8" width="20.6" height="214.2" fill="#56A3F4"/>
<rect x="201.8" y="1716.0" width="13.4" height="211.0" fill="#9ACDFA"/>
<rect x="221.6" y="1732.9" width="20.6" height="194.1" fill="#E9A152"/>
<rect x="225.2" y="1736.2" width="13.4" height="190.8" fill="#F6E2C8"/>
<rect x="245.0" y="1699.3" width="20.6" height="227.7" fill="#7B68F2"/>
<rect x="248.6" y="1702.5" width="13.4" height="224.5" fill="#A9A3FE"/>
<rect x="278.0" y="1712.8" width="20.6" height="214.2" fill="#56A3F4"/>
<rect x="281.6" y="1716.0" width="13.4" height="211.0" fill="#9ACDFA"/>
<rect x="301.4" y="1695.7" width="20.6" height="231.3" fill="#E9A152"/>
<rect x="305.0" y="1698.9" width="13.4" height="228.1" fill="#F6E2C8"/>
<rect x="324.8" y="1720.5" width="20.6" height="206.5" fill="#7B68F2"/>
<rect x="328.4" y="1723.8" width="13.4" height="203.2" fill="#A9A3FE"/>
<rect x="357.8" y="1712.8" width="20.6" height="214.2" fill="#56A3F4"/>
<rect x="361.4" y="1716.0" width="13.4" height="211.0" fill="#9ACDFA"/>
<rect x="381.2" y="1731.2" width="20.6" height="195.8" fill="#E9A152"/>
<rect x="384.8" y="1734.5" width="13.4" height="192.5" fill="#F6E2C8"/>
<rect x="404.6" y="1714.9" width="20.6" height="212.1" fill="#7B68F2"/>
<rect x="408.2" y="1718.2" width="13.4" height="208.8" fill="#A9A3FE"/>
<rect x="437.6" y="1713.9" width="20.6" height="213.1" fill="#56A3F4"/>
<rect x="441.2" y="1717.1" width="13.4" height="209.9" fill="#9ACDFA"/>
<rect x="461.0" y="1721.4" width="20.6" height="205.6" fill="#E9A152"/>
<rect x="464.6" y="1724.6" width="13.4" height="202.4" fill="#F6E2C8"/>
<rect x="484.4" y="1705.3" width="20.6" height="221.7" fill="#7B68F2"/>
<rect x="488.0" y="1708.5" width="13.4" height="218.5" fill="#A9A3FE"/>
<rect x="517.4" y="1714.9" width="20.6" height="212.1" fill="#56A3F4"/>
<rect x="521.0" y="1718.2" width="13.4" height="208.8" fill="#9ACDFA"/>
<rect x="540.8" y="1695.7" width="20.6" height="231.3" fill="#E9A152"/>
<rect x="544.4" y="1698.9" width="13.4" height="228.1" fill="#F6E2C8"/>
<rect x="564.2" y="1717.1" width="20.6" height="209.9" fill="#7B68F2"/>
<rect x="567.8" y="1720.3" width="13.4" height="206.7" fill="#A9A3FE"/>
<circle cx="123.5" cy="1714.1" r="4.7" fill="#4C9CF0" stroke="#000" stroke-width="2.1"/>
<circle cx="133.9" cy="1714.1" r="4.7" fill="#4C9CF0" stroke="#000" stroke-width="2.1"/>
<circle cx="128.7" cy="1708.1" r="4.7" fill="#4C9CF0" stroke="#000" stroke-width="2.1"/>
<circle cx="152.9" cy="1697.8" r="4.7" fill="#F0A444" stroke="#000" stroke-width="2.1"/>
<circle cx="151.3" cy="1708.1" r="4.7" fill="#F0A444" stroke="#000" stroke-width="2.1"/>
<circle cx="152.5" cy="1718.2" r="4.7" fill="#F0A444" stroke="#000" stroke-width="2.1"/>
<line x1="152.1" y1="1702.1" x2="152.1" y2="1713.9" stroke="#000" stroke-width="3.2" />
<line x1="147.1" y1="1702.1" x2="157.1" y2="1702.1" stroke="#000" stroke-width="3.2" />
<line x1="147.1" y1="1713.9" x2="157.1" y2="1713.9" stroke="#000" stroke-width="3.2" />
<circle cx="176.3" cy="1704.2" r="4.7" fill="#6B55F3" stroke="#000" stroke-width="2.1"/>
<circle cx="174.7" cy="1714.5" r="4.7" fill="#6B55F3" stroke="#000" stroke-width="2.1"/>
<circle cx="175.9" cy="1724.6" r="4.7" fill="#6B55F3" stroke="#000" stroke-width="2.1"/>
<line x1="175.5" y1="1708.6" x2="175.5" y2="1720.3" stroke="#000" stroke-width="3.2" />
<line x1="170.5" y1="1708.6" x2="180.5" y2="1708.6" stroke="#000" stroke-width="3.2" />
<line x1="170.5" y1="1720.3" x2="180.5" y2="1720.3" stroke="#000" stroke-width="3.2" />
<circle cx="203.3" cy="1714.1" r="4.7" fill="#4C9CF0" stroke="#000" stroke-width="2.1"/>
<circle cx="213.7" cy="1714.1" r="4.7" fill="#4C9CF0" stroke="#000" stroke-width="2.1"/>
<circle cx="208.5" cy="1708.1" r="4.7" fill="#4C9CF0" stroke="#000" stroke-width="2.1"/>
<circle cx="232.7" cy="1722.2" r="4.7" fill="#F0A444" stroke="#000" stroke-width="2.1"/>
<circle cx="231.1" cy="1732.5" r="4.7" fill="#F0A444" stroke="#000" stroke-width="2.1"/>
<circle cx="232.3" cy="1742.6" r="4.7" fill="#F0A444" stroke="#000" stroke-width="2.1"/>
<line x1="231.9" y1="1726.6" x2="231.9" y2="1738.3" stroke="#000" stroke-width="3.2" />
<line x1="226.9" y1="1726.6" x2="236.9" y2="1726.6" stroke="#000" stroke-width="3.2" />
<line x1="226.9" y1="1738.3" x2="236.9" y2="1738.3" stroke="#000" stroke-width="3.2" />
<circle cx="256.1" cy="1688.6" r="4.7" fill="#6B55F3" stroke="#000" stroke-width="2.1"/>
<circle cx="254.5" cy="1698.9" r="4.7" fill="#6B55F3" stroke="#000" stroke-width="2.1"/>
<circle cx="255.7" cy="1708.9" r="4.7" fill="#6B55F3" stroke="#000" stroke-width="2.1"/>
<line x1="255.3" y1="1692.9" x2="255.3" y2="1704.7" stroke="#000" stroke-width="3.2" />
<line x1="250.3" y1="1692.9" x2="260.3" y2="1692.9" stroke="#000" stroke-width="3.2" />
<line x1="250.3" y1="1704.7" x2="260.3" y2="1704.7" stroke="#000" stroke-width="3.2" />
<circle cx="283.1" cy="1714.1" r="4.7" fill="#4C9CF0" stroke="#000" stroke-width="2.1"/>
<circle cx="293.5" cy="1714.1" r="4.7" fill="#4C9CF0" stroke="#000" stroke-width="2.1"/>
<circle cx="288.3" cy="1708.1" r="4.7" fill="#4C9CF0" stroke="#000" stroke-width="2.1"/>
<circle cx="312.5" cy="1685.0" r="4.7" fill="#F0A444" stroke="#000" stroke-width="2.1"/>
<circle cx="310.9" cy="1695.2" r="4.7" fill="#F0A444" stroke="#000" stroke-width="2.1"/>
<circle cx="312.1" cy="1705.3" r="4.7" fill="#F0A444" stroke="#000" stroke-width="2.1"/>
<line x1="311.7" y1="1689.3" x2="311.7" y2="1701.0" stroke="#000" stroke-width="3.2" />
<line x1="306.7" y1="1689.3" x2="316.7" y2="1689.3" stroke="#000" stroke-width="3.2" />
<line x1="306.7" y1="1701.0" x2="316.7" y2="1701.0" stroke="#000" stroke-width="3.2" />
<circle cx="335.9" cy="1709.8" r="4.7" fill="#6B55F3" stroke="#000" stroke-width="2.1"/>
<circle cx="334.3" cy="1720.1" r="4.7" fill="#6B55F3" stroke="#000" stroke-width="2.1"/>
<circle cx="335.5" cy="1730.2" r="4.7" fill="#6B55F3" stroke="#000" stroke-width="2.1"/>
<line x1="335.1" y1="1714.1" x2="335.1" y2="1725.9" stroke="#000" stroke-width="3.2" />
<line x1="330.1" y1="1714.1" x2="340.1" y2="1714.1" stroke="#000" stroke-width="3.2" />
<line x1="330.1" y1="1725.9" x2="340.1" y2="1725.9" stroke="#000" stroke-width="3.2" />
<circle cx="362.9" cy="1714.1" r="4.7" fill="#4C9CF0" stroke="#000" stroke-width="2.1"/>
<circle cx="373.3" cy="1714.1" r="4.7" fill="#4C9CF0" stroke="#000" stroke-width="2.1"/>
<circle cx="368.1" cy="1708.1" r="4.7" fill="#4C9CF0" stroke="#000" stroke-width="2.1"/>
<circle cx="392.3" cy="1720.5" r="4.7" fill="#F0A444" stroke="#000" stroke-width="2.1"/>
<circle cx="390.7" cy="1730.8" r="4.7" fill="#F0A444" stroke="#000" stroke-width="2.1"/>
<circle cx="391.9" cy="1740.9" r="4.7" fill="#F0A444" stroke="#000" stroke-width="2.1"/>
<line x1="391.5" y1="1724.8" x2="391.5" y2="1736.6" stroke="#000" stroke-width="3.2" />
<line x1="386.5" y1="1724.8" x2="396.5" y2="1724.8" stroke="#000" stroke-width="3.2" />
<line x1="386.5" y1="1736.6" x2="396.5" y2="1736.6" stroke="#000" stroke-width="3.2" />
<circle cx="415.7" cy="1704.2" r="4.7" fill="#6B55F3" stroke="#000" stroke-width="2.1"/>
<circle cx="414.1" cy="1714.5" r="4.7" fill="#6B55F3" stroke="#000" stroke-width="2.1"/>
<circle cx="415.3" cy="1724.6" r="4.7" fill="#6B55F3" stroke="#000" stroke-width="2.1"/>
<line x1="414.9" y1="1708.6" x2="414.9" y2="1720.3" stroke="#000" stroke-width="3.2" />
<line x1="409.9" y1="1708.6" x2="419.9" y2="1708.6" stroke="#000" stroke-width="3.2" />
<line x1="409.9" y1="1720.3" x2="419.9" y2="1720.3" stroke="#000" stroke-width="3.2" />
<circle cx="442.7" cy="1715.2" r="4.7" fill="#4C9CF0" stroke="#000" stroke-width="2.1"/>
<circle cx="453.1" cy="1715.2" r="4.7" fill="#4C9CF0" stroke="#000" stroke-width="2.1"/>
<circle cx="447.9" cy="1709.2" r="4.7" fill="#4C9CF0" stroke="#000" stroke-width="2.1"/>
<circle cx="472.1" cy="1710.7" r="4.7" fill="#F0A444" stroke="#000" stroke-width="2.1"/>
<circle cx="470.5" cy="1720.9" r="4.7" fill="#F0A444" stroke="#000" stroke-width="2.1"/>
<circle cx="471.7" cy="1731.0" r="4.7" fill="#F0A444" stroke="#000" stroke-width="2.1"/>
<line x1="471.3" y1="1715.0" x2="471.3" y2="1726.7" stroke="#000" stroke-width="3.2" />
<line x1="466.3" y1="1715.0" x2="476.3" y2="1715.0" stroke="#000" stroke-width="3.2" />
<line x1="466.3" y1="1726.7" x2="476.3" y2="1726.7" stroke="#000" stroke-width="3.2" />
<circle cx="495.5" cy="1694.6" r="4.7" fill="#6B55F3" stroke="#000" stroke-width="2.1"/>
<circle cx="493.9" cy="1704.9" r="4.7" fill="#6B55F3" stroke="#000" stroke-width="2.1"/>
<circle cx="495.1" cy="1714.9" r="4.7" fill="#6B55F3" stroke="#000" stroke-width="2.1"/>
<line x1="494.7" y1="1698.9" x2="494.7" y2="1710.7" stroke="#000" stroke-width="3.2" />
<line x1="489.7" y1="1698.9" x2="499.7" y2="1698.9" stroke="#000" stroke-width="3.2" />
<line x1="489.7" y1="1710.7" x2="499.7" y2="1710.7" stroke="#000" stroke-width="3.2" />
<circle cx="522.5" cy="1716.2" r="4.7" fill="#4C9CF0" stroke="#000" stroke-width="2.1"/>
<circle cx="532.9" cy="1716.2" r="4.7" fill="#4C9CF0" stroke="#000" stroke-width="2.1"/>
<circle cx="527.7" cy="1710.2" r="4.7" fill="#4C9CF0" stroke="#000" stroke-width="2.1"/>
<circle cx="551.9" cy="1685.0" r="4.7" fill="#F0A444" stroke="#000" stroke-width="2.1"/>
<circle cx="550.3" cy="1695.2" r="4.7" fill="#F0A444" stroke="#000" stroke-width="2.1"/>
<circle cx="551.5" cy="1705.3" r="4.7" fill="#F0A444" stroke="#000" stroke-width="2.1"/>
<line x1="551.1" y1="1689.3" x2="551.1" y2="1701.0" stroke="#000" stroke-width="3.2" />
<line x1="546.1" y1="1689.3" x2="556.1" y2="1689.3" stroke="#000" stroke-width="3.2" />
<line x1="546.1" y1="1701.0" x2="556.1" y2="1701.0" stroke="#000" stroke-width="3.2" />
<circle cx="575.3" cy="1706.4" r="4.7" fill="#6B55F3" stroke="#000" stroke-width="2.1"/>
<circle cx="573.7" cy="1716.7" r="4.7" fill="#6B55F3" stroke="#000" stroke-width="2.1"/>
<circle cx="574.9" cy="1726.7" r="4.7" fill="#6B55F3" stroke="#000" stroke-width="2.1"/>
<line x1="574.5" y1="1710.7" x2="574.5" y2="1722.5" stroke="#000" stroke-width="3.2" />
<line x1="569.5" y1="1710.7" x2="579.5" y2="1710.7" stroke="#000" stroke-width="3.2" />
<line x1="569.5" y1="1722.5" x2="579.5" y2="1722.5" stroke="#000" stroke-width="3.2" />
<path d="M121.3,1635.4 V1624.5 H172.5 V1635.4" fill="none" stroke="#000" stroke-width="4.2"/>
<path d="M121.3,1678.0 V1667.1 H150.4 V1678.0" fill="none" stroke="#000" stroke-width="4.2"/>
<text x="146.9" y="1616.3" font-size="22.3" text-anchor="middle">NS</text>
<text x="121.3" y="1659.0" font-size="22.3">NS</text>
<path d="M201.1,1635.4 V1624.5 H252.3 V1635.4" fill="none" stroke="#000" stroke-width="4.2"/>
<path d="M201.1,1678.0 V1667.1 H230.2 V1678.0" fill="none" stroke="#000" stroke-width="4.2"/>
<text x="226.7" y="1616.3" font-size="22.3" text-anchor="middle">NS</text>
<text x="201.1" y="1659.0" font-size="22.3">NS</text>
<path d="M280.9,1635.4 V1624.5 H332.1 V1635.4" fill="none" stroke="#000" stroke-width="4.2"/>
<path d="M280.9,1678.0 V1667.1 H310.0 V1678.0" fill="none" stroke="#000" stroke-width="4.2"/>
<text x="306.5" y="1616.3" font-size="22.3" text-anchor="middle">NS</text>
<text x="280.9" y="1659.0" font-size="22.3">NS</text>
<path d="M360.7,1635.4 V1624.5 H411.9 V1635.4" fill="none" stroke="#000" stroke-width="4.2"/>
<path d="M360.7,1678.0 V1667.1 H389.8 V1678.0" fill="none" stroke="#000" stroke-width="4.2"/>
<text x="386.3" y="1616.3" font-size="22.3" text-anchor="middle">NS</text>
<text x="360.7" y="1659.0" font-size="22.3">NS</text>
<path d="M440.5,1635.4 V1624.5 H491.7 V1635.4" fill="none" stroke="#000" stroke-width="4.2"/>
<path d="M440.5,1678.0 V1667.1 H469.6 V1678.0" fill="none" stroke="#000" stroke-width="4.2"/>
<text x="466.1" y="1616.3" font-size="22.3" text-anchor="middle">NS</text>
<text x="440.5" y="1659.0" font-size="22.3">NS</text>
<path d="M520.3,1635.4 V1624.5 H571.5 V1635.4" fill="none" stroke="#000" stroke-width="4.2"/>
<path d="M520.3,1678.0 V1667.1 H549.4 V1678.0" fill="none" stroke="#000" stroke-width="4.2"/>
<text x="545.9" y="1616.3" font-size="22.3" text-anchor="middle">NS</text>
<text x="520.3" y="1659.0" font-size="22.3">NS</text>
<line x1="107.5" y1="1603.7" x2="107.5" y2="1929.0" stroke="#000" stroke-width="4.4" />
<line x1="94.5" y1="1927.0" x2="595.0" y2="1927.0" stroke="#000" stroke-width="4.4" />
<line x1="94.5" y1="1605.7" x2="107.5" y2="1605.7" stroke="#000" stroke-width="4.4" />
<text x="91.0" y="1611.9" font-size="28" text-anchor="end">1.5</text>
<line x1="94.5" y1="1712.8" x2="107.5" y2="1712.8" stroke="#000" stroke-width="4.4" />
<text x="91.0" y="1719.0" font-size="28" text-anchor="end">1.0</text>
<line x1="94.5" y1="1819.9" x2="107.5" y2="1819.9" stroke="#000" stroke-width="4.4" />
<text x="91.0" y="1826.1" font-size="28" text-anchor="end">0.5</text>
<line x1="94.5" y1="1927.0" x2="107.5" y2="1927.0" stroke="#000" stroke-width="4.4" />
<text x="91.0" y="1933.2" font-size="28" text-anchor="end">0.0</text>
<line x1="152.1" y1="1927.0" x2="152.1" y2="1940.0" stroke="#000" stroke-width="4.4" />
<text x="159.6" y="1959.0" font-size="28" text-anchor="end" font-style="italic" transform="rotate(-30 159.6 1959.0)">atp-2</text>
<line x1="231.9" y1="1927.0" x2="231.9" y2="1940.0" stroke="#000" stroke-width="4.4" />
<text x="239.4" y="1959.0" font-size="28" text-anchor="end" font-style="italic" transform="rotate(-30 239.4 1959.0)">atp-4</text>
<line x1="311.7" y1="1927.0" x2="311.7" y2="1940.0" stroke="#000" stroke-width="4.4" />
<text x="319.2" y="1959.0" font-size="28" text-anchor="end" font-style="italic" transform="rotate(-30 319.2 1959.0)">atp-5</text>
<line x1="391.5" y1="1927.0" x2="391.5" y2="1940.0" stroke="#000" stroke-width="4.4" />
<text x="399.0" y="1959.0" font-size="28" text-anchor="end" font-style="italic" transform="rotate(-30 399.0 1959.0)">F58F12.1</text>
<line x1="471.3" y1="1927.0" x2="471.3" y2="1940.0" stroke="#000" stroke-width="4.4" />
<text x="478.8" y="1959.0" font-size="28" text-anchor="end" font-style="italic" transform="rotate(-30 478.8 1959.0)">hop-18</text>
<line x1="551.1" y1="1927.0" x2="551.1" y2="1940.0" stroke="#000" stroke-width="4.4" />
<text x="558.6" y="1959.0" font-size="28" text-anchor="end" font-style="italic" transform="rotate(-30 558.6 1959.0)">R53.4</text>
<rect x="71.6" y="1557.1" width="28.8" height="12.5" fill="#9ACDFA" stroke="#56A3F4" stroke-width="3.2" rx="2"/>
<text x="111.2" y="1573.2" font-size="28.1">N2</text>
<rect x="168.3" y="1557.1" width="28.8" height="12.5" fill="#F6E2C8" stroke="#E9A152" stroke-width="3.2" rx="2"/>
<text x="207.9" y="1573.2" font-size="28.1" font-style="italic">larp-1(yq421)</text>
<rect x="396.0" y="1557.1" width="28.8" height="12.5" fill="#A9A3FE" stroke="#7B68F2" stroke-width="3.2" rx="2"/>
<text x="435.6" y="1573.2" font-size="28.1" font-style="italic">larp-1(yq565)</text>
<text x="49.4" y="1763.6" font-size="28.1" text-anchor="middle" transform="rotate(-90 49.4 1763.6)">Relative mRNA levels</text>
<text x="4.0" y="2130.0" font-size="48">h</text>
<line x1="105.4" y1="2213.6" x2="227.1" y2="2213.6" stroke="#000" stroke-width="3.6" />
<text x="151.8" y="2208.2" font-size="23.5" transform="rotate(-59.5 151.8 2208.2)">LARP-1::GFP(KI)</text>
<line x1="240.2" y1="2213.6" x2="361.5" y2="2213.6" stroke="#000" stroke-width="3.6" />
<text x="282.7" y="2208.2" font-size="23.5" transform="rotate(-59.5 282.7 2208.2)">LARP-1::APEX2(KI)</text>
<line x1="376.0" y1="2213.6" x2="498.0" y2="2213.6" stroke="#000" stroke-width="3.6" />
<text x="413.6" y="2208.2" font-size="23.5" transform="rotate(-59.5 413.6 2208.2)">LARP-1::GFP(KI)</text>
<line x1="511.7" y1="2213.6" x2="634.0" y2="2213.6" stroke="#000" stroke-width="3.6" />
<text x="540.3" y="2208.2" font-size="23.5" transform="rotate(-59.5 540.3 2208.2)">LARP-1::APEX2(KI)</text>
<line x1="110.0" y1="2231.4" x2="119.0" y2="2231.4" stroke="#000" stroke-width="2.4" />
<line x1="110.0" y1="2267.7" x2="119.0" y2="2267.7" stroke="#000" stroke-width="2.4" />
<line x1="144.6" y1="2231.4" x2="160.0" y2="2231.4" stroke="#000" stroke-width="2.7" />
<line x1="152.3" y1="2223.7" x2="152.3" y2="2239.1" stroke="#000" stroke-width="2.7" />
<line x1="147.8" y1="2267.7" x2="156.8" y2="2267.7" stroke="#000" stroke-width="2.4" />
<line x1="184.1" y1="2231.4" x2="193.1" y2="2231.4" stroke="#000" stroke-width="2.4" />
<line x1="180.9" y1="2267.7" x2="196.3" y2="2267.7" stroke="#000" stroke-width="2.7" />
<line x1="188.6" y1="2260.0" x2="188.6" y2="2275.4" stroke="#000" stroke-width="2.7" />
<line x1="214.6" y1="2231.4" x2="230.0" y2="2231.4" stroke="#000" stroke-width="2.7" />
<line x1="222.3" y1="2223.7" x2="222.3" y2="2239.1" stroke="#000" stroke-width="2.7" />
<line x1="214.6" y1="2267.7" x2="230.0" y2="2267.7" stroke="#000" stroke-width="2.7" />
<line x1="222.3" y1="2260.0" x2="222.3" y2="2275.4" stroke="#000" stroke-width="2.7" />
<line x1="248.7" y1="2231.4" x2="257.7" y2="2231.4" stroke="#000" stroke-width="2.4" />
<line x1="248.7" y1="2267.7" x2="257.7" y2="2267.7" stroke="#000" stroke-width="2.4" />
<line x1="278.4" y1="2231.4" x2="293.8" y2="2231.4" stroke="#000" stroke-width="2.7" />
<line x1="286.1" y1="2223.7" x2="286.1" y2="2239.1" stroke="#000" stroke-width="2.7" />
<line x1="281.6" y1="2267.7" x2="290.6" y2="2267.7" stroke="#000" stroke-width="2.4" />
<line x1="313.7" y1="2231.4" x2="322.7" y2="2231.4" stroke="#000" stroke-width="2.4" />
<line x1="310.5" y1="2267.7" x2="325.9" y2="2267.7" stroke="#000" stroke-width="2.7" />
<line x1="318.2" y1="2260.0" x2="318.2" y2="2275.4" stroke="#000" stroke-width="2.7" />
<line x1="345.5" y1="2231.4" x2="360.9" y2="2231.4" stroke="#000" stroke-width="2.7" />
<line x1="353.2" y1="2223.7" x2="353.2" y2="2239.1" stroke="#000" stroke-width="2.7" />
<line x1="345.5" y1="2267.7" x2="360.9" y2="2267.7" stroke="#000" stroke-width="2.7" />
<line x1="353.2" y1="2260.0" x2="353.2" y2="2275.4" stroke="#000" stroke-width="2.7" />
<line x1="384.5" y1="2231.4" x2="393.5" y2="2231.4" stroke="#000" stroke-width="2.4" />
<line x1="384.5" y1="2267.7" x2="393.5" y2="2267.7" stroke="#000" stroke-width="2.4" />
<line x1="416.3" y1="2231.4" x2="431.7" y2="2231.4" stroke="#000" stroke-width="2.7" />
<line x1="424.0" y1="2223.7" x2="424.0" y2="2239.1" stroke="#000" stroke-width="2.7" />
<line x1="419.5" y1="2267.7" x2="428.5" y2="2267.7" stroke="#000" stroke-width="2.4" />
<line x1="458.5" y1="2231.4" x2="467.5" y2="2231.4" stroke="#000" stroke-width="2.4" />
<line x1="455.3" y1="2267.7" x2="470.7" y2="2267.7" stroke="#000" stroke-width="2.7" />
<line x1="463.0" y1="2260.0" x2="463.0" y2="2275.4" stroke="#000" stroke-width="2.7" />
<line x1="485.5" y1="2231.4" x2="500.9" y2="2231.4" stroke="#000" stroke-width="2.7" />
<line x1="493.2" y1="2223.7" x2="493.2" y2="2239.1" stroke="#000" stroke-width="2.7" />
<line x1="485.5" y1="2267.7" x2="500.9" y2="2267.7" stroke="#000" stroke-width="2.7" />
<line x1="493.2" y1="2260.0" x2="493.2" y2="2275.4" stroke="#000" stroke-width="2.7" />
<line x1="524.5" y1="2231.4" x2="533.5" y2="2231.4" stroke="#000" stroke-width="2.4" />
<line x1="524.5" y1="2267.7" x2="533.5" y2="2267.7" stroke="#000" stroke-width="2.4" />
<line x1="553.0" y1="2231.4" x2="568.4" y2="2231.4" stroke="#000" stroke-width="2.7" />
<line x1="560.7" y1="2223.7" x2="560.7" y2="2239.1" stroke="#000" stroke-width="2.7" />
<line x1="556.2" y1="2267.7" x2="565.2" y2="2267.7" stroke="#000" stroke-width="2.4" />
<line x1="587.1" y1="2231.4" x2="596.1" y2="2231.4" stroke="#000" stroke-width="2.4" />
<line x1="583.9" y1="2267.7" x2="599.3" y2="2267.7" stroke="#000" stroke-width="2.7" />
<line x1="591.6" y1="2260.0" x2="591.6" y2="2275.4" stroke="#000" stroke-width="2.7" />
<line x1="618.9" y1="2231.4" x2="634.3" y2="2231.4" stroke="#000" stroke-width="2.7" />
<line x1="626.6" y1="2223.7" x2="626.6" y2="2239.1" stroke="#000" stroke-width="2.7" />
<line x1="618.9" y1="2267.7" x2="634.3" y2="2267.7" stroke="#000" stroke-width="2.7" />
<line x1="626.6" y1="2260.0" x2="626.6" y2="2275.4" stroke="#000" stroke-width="2.7" />
<text x="16.3" y="2210.0" font-size="23.5">Biotin-</text>
<text x="10.3" y="2238.0" font-size="23.5">phenol:</text>
<text x="26.8" y="2267.0" font-size="23.5">H<tspan font-size="16" dy="5">2</tspan><tspan dy="-5">O</tspan><tspan font-size="16" dy="5">2</tspan><tspan dy="-5">:</tspan></text>
<text x="25.4" y="2302.6" font-size="23.5">kDa M</text>
<rect x="73.4" y="2311.0" width="294.6" height="375.8" fill="url(#ponG)"/>
<rect x="73.4" y="2311.0" width="294.6" height="375.8" fill="url(#ponH)"/>
<g filter="url(#blur3)" opacity="0.5">
<rect x="102.0" y="2330.0" width="26.0" height="340.0" fill="#EC88C0" opacity="0.35"/>
<rect x="137.0" y="2330.0" width="26.0" height="340.0" fill="#EC88C0" opacity="0.35"/>
<rect x="172.0" y="2330.0" width="26.0" height="340.0" fill="#EC88C0" opacity="0.35"/>
<rect x="205.0" y="2330.0" width="26.0" height="340.0" fill="#EC88C0" opacity="0.35"/>
<rect x="239.0" y="2330.0" width="26.0" height="340.0" fill="#EC88C0" opacity="0.35"/>
<rect x="271.5" y="2330.0" width="26.0" height="340.0" fill="#EC88C0" opacity="0.35"/>
<rect x="304.0" y="2330.0" width="26.0" height="340.0" fill="#EC88C0" opacity="0.35"/>
<rect x="338.0" y="2330.0" width="26.0" height="340.0" fill="#EC88C0" opacity="0.35"/>
</g>
<g filter="url(#blur2)">
<rect x="102.0" y="2387.0" width="26.0" height="4.5" fill="#E8708E" opacity="0.55"/>
<rect x="102.0" y="2425.0" width="26.0" height="4.0" fill="#E884B4" opacity="0.3"/>
<rect x="102.0" y="2467.0" width="26.0" height="6.0" fill="#E47CB4" opacity="0.3"/>
<rect x="137.0" y="2387.0" width="26.0" height="4.5" fill="#E8708E" opacity="0.55"/>
<rect x="137.0" y="2425.0" width="26.0" height="4.0" fill="#E884B4" opacity="0.3"/>
<rect x="137.0" y="2467.0" width="26.0" height="6.0" fill="#E47CB4" opacity="0.3"/>
<rect x="172.0" y="2387.0" width="26.0" height="4.5" fill="#E8708E" opacity="0.55"/>
<rect x="172.0" y="2425.0" width="26.0" height="4.0" fill="#E884B4" opacity="0.3"/>
<rect x="172.0" y="2467.0" width="26.0" height="6.0" fill="#E47CB4" opacity="0.3"/>
<rect x="205.0" y="2387.0" width="26.0" height="4.5" fill="#E8708E" opacity="0.55"/>
<rect x="205.0" y="2425.0" width="26.0" height="4.0" fill="#E884B4" opacity="0.3"/>
<rect x="205.0" y="2467.0" width="26.0" height="6.0" fill="#E47CB4" opacity="0.3"/>
<rect x="239.0" y="2387.0" width="26.0" height="4.5" fill="#E8708E" opacity="0.55"/>
<rect x="239.0" y="2425.0" width="26.0" height="4.0" fill="#E884B4" opacity="0.3"/>
<rect x="239.0" y="2467.0" width="26.0" height="6.0" fill="#E47CB4" opacity="0.3"/>
<rect x="271.5" y="2387.0" width="26.0" height="4.5" fill="#E8708E" opacity="0.55"/>
<rect x="271.5" y="2425.0" width="26.0" height="4.0" fill="#E884B4" opacity="0.3"/>
<rect x="271.5" y="2467.0" width="26.0" height="6.0" fill="#E47CB4" opacity="0.3"/>
<rect x="304.0" y="2387.0" width="26.0" height="4.5" fill="#E8708E" opacity="0.55"/>
<rect x="304.0" y="2425.0" width="26.0" height="4.0" fill="#E884B4" opacity="0.3"/>
<rect x="304.0" y="2467.0" width="26.0" height="6.0" fill="#E47CB4" opacity="0.3"/>
<rect x="338.0" y="2387.0" width="26.0" height="4.5" fill="#E8708E" opacity="0.55"/>
<rect x="338.0" y="2425.0" width="26.0" height="4.0" fill="#E884B4" opacity="0.3"/>
<rect x="338.0" y="2467.0" width="26.0" height="6.0" fill="#E47CB4" opacity="0.3"/>
</g>
<g filter="url(#blur2)">
<rect x="76" y="2319.0" width="21" height="4" rx="4" fill="#A050B8"/>
<rect x="76" y="2342.8" width="21" height="4.5" rx="4" fill="#A050B8"/>
<rect x="76" y="2377.6" width="21" height="12" rx="4" fill="#6A2A9A"/>
<rect x="76" y="2458.5" width="21" height="13" rx="4" fill="#6A2A9A"/>
<rect x="76" y="2522.5" width="21" height="9" rx="4" fill="#7A3AAA"/>
<rect x="76" y="2586.5" width="21" height="11" rx="4" fill="#7A3AAA"/>
<rect x="76" y="2643.0" width="21" height="10" rx="4" fill="#8A4AB6"/>
<ellipse cx="86" cy="2422.4" rx="12" ry="10" fill="#F03C5C"/>
</g>
<line x1="67.5" y1="2321.0" x2="73.0" y2="2321.0" stroke="#000" stroke-width="3.4" />
<text x="63.8" y="2329.8" font-size="24.3" text-anchor="end">180</text>
<line x1="67.5" y1="2345.0" x2="73.0" y2="2345.0" stroke="#000" stroke-width="3.4" />
<text x="63.8" y="2353.8" font-size="24.3" text-anchor="end">130</text>
<line x1="67.5" y1="2383.6" x2="73.0" y2="2383.6" stroke="#000" stroke-width="3.4" />
<text x="63.8" y="2392.4" font-size="24.3" text-anchor="end">100</text>
<line x1="67.5" y1="2422.4" x2="73.0" y2="2422.4" stroke="#000" stroke-width="3.4" />
<text x="63.8" y="2431.2" font-size="24.3" text-anchor="end">70</text>
<line x1="67.5" y1="2465.0" x2="73.0" y2="2465.0" stroke="#000" stroke-width="3.4" />
<text x="63.8" y="2473.8" font-size="24.3" text-anchor="end">55</text>
<line x1="67.5" y1="2527.0" x2="73.0" y2="2527.0" stroke="#000" stroke-width="3.4" />
<text x="63.8" y="2535.8" font-size="24.3" text-anchor="end">40</text>
<line x1="67.5" y1="2592.0" x2="73.0" y2="2592.0" stroke="#000" stroke-width="3.4" />
<text x="63.8" y="2600.8" font-size="24.3" text-anchor="end">35</text>
<line x1="67.5" y1="2648.0" x2="73.0" y2="2648.0" stroke="#000" stroke-width="3.4" />
<text x="63.8" y="2656.8" font-size="24.3" text-anchor="end">25</text>
<rect x="368.3" y="2309.2" width="278.0" height="373.0" fill="#F7F7F7"/>
<g filter="url(#blurS)">
<rect x="372.6" y="2337.5" width="30" height="5" fill="#C4C4C4"/>
<rect x="372.6" y="2392" width="30" height="6" fill="#B0B0B0"/>
<rect x="372.6" y="2436.5" width="30" height="6" fill="#D8D8D8"/>
<rect x="372.6" y="2461" width="30" height="12" fill="#D6D6D6"/>
<rect x="372.6" y="2544" width="30" height="5" fill="#B6B6B6"/>
<rect x="372.6" y="2555" width="30" height="13" fill="#CACACA"/>
<rect x="408.5" y="2337.5" width="30" height="5" fill="#C4C4C4"/>
<rect x="408.5" y="2392" width="30" height="6" fill="#B0B0B0"/>
<rect x="408.5" y="2436.5" width="30" height="6" fill="#DCDCDC"/>
<rect x="408.5" y="2461" width="30" height="12" fill="#D6D6D6"/>
<rect x="408.5" y="2544" width="30" height="5" fill="#B6B6B6"/>
<rect x="408.5" y="2555" width="30" height="13" fill="#CACACA"/>
<rect x="443.5" y="2337.5" width="30" height="5" fill="#C4C4C4"/>
<rect x="443.5" y="2392" width="30" height="6" fill="#B0B0B0"/>
<rect x="443.5" y="2436.5" width="30" height="6" fill="#3C3C3C"/>
<rect x="443.5" y="2461" width="30" height="12" fill="#D6D6D6"/>
<rect x="443.5" y="2544" width="30" height="5" fill="#B6B6B6"/>
<rect x="443.5" y="2555" width="30" height="13" fill="#CACACA"/>
<rect x="477.6" y="2337.5" width="30" height="5" fill="#C4C4C4"/>
<rect x="477.6" y="2392" width="30" height="6" fill="#B0B0B0"/>
<rect x="477.6" y="2436.5" width="30" height="6" fill="#6C6C6C"/>
<rect x="477.6" y="2461" width="30" height="12" fill="#D6D6D6"/>
<rect x="477.6" y="2544" width="30" height="5" fill="#B6B6B6"/>
<rect x="477.6" y="2555" width="30" height="13" fill="#CACACA"/>
<rect x="510.7" y="2337.5" width="30" height="5" fill="#C4C4C4"/>
<rect x="510.7" y="2392" width="30" height="6" fill="#B0B0B0"/>
<rect x="510.7" y="2436.5" width="30" height="6" fill="#F2F2F2"/>
<rect x="510.7" y="2461" width="30" height="12" fill="#D6D6D6"/>
<rect x="510.7" y="2544" width="30" height="5" fill="#B6B6B6"/>
<rect x="510.7" y="2555" width="30" height="13" fill="#CACACA"/>
<rect x="544.8" y="2337.5" width="30" height="5" fill="#C4C4C4"/>
<rect x="544.8" y="2392" width="30" height="6" fill="#B0B0B0"/>
<rect x="544.8" y="2436.5" width="30" height="6" fill="#E4E4E4"/>
<rect x="544.8" y="2461" width="30" height="12" fill="#D6D6D6"/>
<rect x="544.8" y="2544" width="30" height="5" fill="#B6B6B6"/>
<rect x="544.8" y="2555" width="30" height="13" fill="#CACACA"/>
<rect x="578.9" y="2337.5" width="30" height="5" fill="#C4C4C4"/>
<rect x="578.9" y="2392" width="30" height="6" fill="#B0B0B0"/>
<rect x="578.9" y="2436.5" width="30" height="6" fill="#5C5C5C"/>
<rect x="578.9" y="2461" width="30" height="12" fill="#D6D6D6"/>
<rect x="578.9" y="2544" width="30" height="5" fill="#B6B6B6"/>
<rect x="578.9" y="2555" width="30" height="13" fill="#CACACA"/>
</g>
<g filter="url(#blurB)">
<rect x="371.6" y="2381" width="32" height="10" rx="4" fill="#030303"/>
<rect x="372.6" y="2422" width="30" height="6" fill="#6C6C6C"/>
<rect x="407.5" y="2381" width="32" height="10" rx="4" fill="#030303"/>
<rect x="408.5" y="2422" width="30" height="6" fill="#3E3E3E"/>
<rect x="442.5" y="2381" width="32" height="10" rx="4" fill="#030303"/>
<rect x="443.5" y="2422" width="30" height="6" fill="#686868"/>
<rect x="476.6" y="2381" width="32" height="10" rx="4" fill="#030303"/>
<rect x="477.6" y="2422" width="30" height="6" fill="#6C6C6C"/>
<rect x="509.7" y="2381" width="32" height="10" rx="4" fill="#030303"/>
<rect x="510.7" y="2422" width="30" height="6" fill="#9A9A9A"/>
<rect x="543.8" y="2381" width="32" height="10" rx="4" fill="#030303"/>
<rect x="544.8" y="2422" width="30" height="6" fill="#6E6E6E"/>
<rect x="577.9" y="2381" width="32" height="10" rx="4" fill="#030303"/>
<rect x="578.9" y="2422" width="30" height="6" fill="#787878"/>
</g>
<g filter="url(#blur3)">
<path d="M614,2316 H641 L643,2560 L646,2676 H619 L617,2560 Z" fill="url(#l8)"/>
<rect x="615" y="2376.5" width="29" height="10" rx="3" fill="#000"/>
<rect x="615" y="2361.0" width="29" height="4" rx="3" fill="#2A2A2A"/>
<rect x="615" y="2350.5" width="29" height="3" rx="3" fill="#3A3A3A"/>
<rect x="615" y="2421.5" width="29" height="5" rx="3" fill="#151515"/>
<rect x="615" y="2437.0" width="29" height="4" rx="3" fill="#202020"/>
<rect x="615" y="2525.5" width="29" height="7" rx="3" fill="#080808"/>
<rect x="615" y="2544.0" width="29" height="4" rx="3" fill="#151515"/>
<rect x="615" y="2554.0" width="29" height="14" rx="3" fill="#000"/>
<rect x="615" y="2587.0" width="29" height="16" rx="3" fill="#0A0A0A"/>
<rect x="615" y="2621.0" width="29" height="14" rx="3" fill="#0E0E0E"/>
</g>
<text x="220.0" y="2709.8" font-size="27.5" text-anchor="middle">Ponceau S</text>
<text x="507.3" y="2711.6" font-size="27.5" text-anchor="middle">Streptavidin-HRP</text>
<text x="656.0" y="35.0" font-size="48">b</text>
<rect x="747.2" y="64.2" width="349.5" height="349.5" fill="#8D9194"/>
<rect x="750.8" y="67.8" width="53.6" height="53.6" fill="#21285A"/>
<rect x="808.5" y="67.8" width="53.6" height="53.6" fill="#6094C4"/>
<rect x="866.3" y="67.8" width="53.6" height="53.6" fill="#5C8EC0"/>
<rect x="924.0" y="67.8" width="53.6" height="53.6" fill="#E3EDF8"/>
<rect x="981.7" y="67.8" width="53.6" height="53.6" fill="#D6E5F3"/>
<rect x="1039.5" y="67.8" width="53.6" height="53.6" fill="#CBDDEF"/>
<rect x="750.8" y="125.5" width="53.6" height="53.6" fill="#6094C4"/>
<rect x="808.5" y="125.5" width="53.6" height="53.6" fill="#21285A"/>
<rect x="866.3" y="125.5" width="53.6" height="53.6" fill="#5C8EC0"/>
<rect x="924.0" y="125.5" width="53.6" height="53.6" fill="#F6F9FD"/>
<rect x="981.7" y="125.5" width="53.6" height="53.6" fill="#DCE8F5"/>
<rect x="1039.5" y="125.5" width="53.6" height="53.6" fill="#D4E3F2"/>
<rect x="750.8" y="183.3" width="53.6" height="53.6" fill="#5C8EC0"/>
<rect x="808.5" y="183.3" width="53.6" height="53.6" fill="#5C8EC0"/>
<rect x="866.3" y="183.3" width="53.6" height="53.6" fill="#21285A"/>
<rect x="924.0" y="183.3" width="53.6" height="53.6" fill="#F1F6FB"/>
<rect x="981.7" y="183.3" width="53.6" height="53.6" fill="#DDE9F5"/>
<rect x="1039.5" y="183.3" width="53.6" height="53.6" fill="#D4E4F2"/>
<rect x="750.8" y="241.0" width="53.6" height="53.6" fill="#E3EDF8"/>
<rect x="808.5" y="241.0" width="53.6" height="53.6" fill="#F6F9FD"/>
<rect x="866.3" y="241.0" width="53.6" height="53.6" fill="#F1F6FB"/>
<rect x="924.0" y="241.0" width="53.6" height="53.6" fill="#21285A"/>
<rect x="981.7" y="241.0" width="53.6" height="53.6" fill="#9CC2E0"/>
<rect x="1039.5" y="241.0" width="53.6" height="53.6" fill="#93BCDC"/>
<rect x="750.8" y="298.7" width="53.6" height="53.6" fill="#D6E5F3"/>
<rect x="808.5" y="298.7" width="53.6" height="53.6" fill="#DCE8F5"/>
<rect x="866.3" y="298.7" width="53.6" height="53.6" fill="#DDE9F5"/>
<rect x="924.0" y="298.7" width="53.6" height="53.6" fill="#9CC2E0"/>
<rect x="981.7" y="298.7" width="53.6" height="53.6" fill="#21285A"/>
<rect x="1039.5" y="298.7" width="53.6" height="53.6" fill="#7EB0D6"/>
<rect x="750.8" y="356.5" width="53.6" height="53.6" fill="#CBDDEF"/>
<rect x="808.5" y="356.5" width="53.6" height="53.6" fill="#D4E3F2"/>
<rect x="866.3" y="356.5" width="53.6" height="53.6" fill="#D4E4F2"/>
<rect x="924.0" y="356.5" width="53.6" height="53.6" fill="#93BCDC"/>
<rect x="981.7" y="356.5" width="53.6" height="53.6" fill="#7EB0D6"/>
<rect x="1039.5" y="356.5" width="53.6" height="53.6" fill="#21285A"/>
<path d="M777.8,64 V44 H865.7 M835,64 V45.4 H892.6 V64 M820.7,44 V17.3 H994.3 V32.1 M951,64 V32.1 H1038 V37.9 M1007.9,64 V37.9 H1067.6 V64" fill="none" stroke="#111" stroke-width="3.6"/>
<path d="M747,75.2 H725.3 V174.9 H729 M747,140.5 H729 V206 H747 M725.3,124.2 H699 V319.9 H715.3 M747,271.6 H715.3 V369 H721 M747,336.8 H721 V402.5 H747" fill="none" stroke="#111" stroke-width="3.6"/>
<text x="1100.5" y="103.6" font-size="26">rep1</text>
<text x="1100.5" y="161.7" font-size="26">rep2</text>
<text x="1100.5" y="220.7" font-size="26">rep3</text>
<text x="1100.5" y="279.9" font-size="26">rep1</text>
<text x="1100.5" y="338.4" font-size="26">rep2</text>
<text x="1100.5" y="397.3" font-size="26">rep3</text>
<line x1="1159.8" y1="79.0" x2="1159.8" y2="222.5" stroke="#000" stroke-width="3.4" />
<line x1="1159.8" y1="256.0" x2="1159.8" y2="399.3" stroke="#000" stroke-width="3.4" />
<text x="1166.2" y="160.8" font-size="27.5">LARP-1::GFP</text>
<text x="1165.5" y="336.8" font-size="24">LARP-1::APEX2</text>
<text x="771.8" y="442.6" font-size="26" text-anchor="middle">rep1</text>
<text x="834.0" y="442.6" font-size="26" text-anchor="middle">rep2</text>
<text x="894.7" y="442.6" font-size="26" text-anchor="middle">rep3</text>
<text x="956.5" y="442.6" font-size="26" text-anchor="middle">rep1</text>
<text x="1016.2" y="442.6" font-size="26" text-anchor="middle">rep2</text>
<text x="1076.8" y="442.6" font-size="26" text-anchor="middle">rep3</text>
<line x1="756.7" y1="452.9" x2="912.0" y2="452.9" stroke="#000" stroke-width="3.4" />
<line x1="922.2" y1="452.9" x2="1094.3" y2="452.9" stroke="#000" stroke-width="3.4" />
<text x="826.5" y="483.0" font-size="27.5" text-anchor="middle">LARP-1::GFP</text>
<text x="1021.3" y="483.0" font-size="27.5" text-anchor="middle">LARP-1::APEX2</text>
<text x="1156.9" y="428.2" font-size="28">Sample Dists</text>
<rect x="1152.8" y="435.6" width="176.2" height="13.1" fill="url(#sdist)"/>
<line x1="1164.2" y1="435.6" x2="1164.2" y2="439.5" stroke="#fff" stroke-width="1.6" />
<line x1="1164.2" y1="444.8" x2="1164.2" y2="448.7" stroke="#fff" stroke-width="1.6" />
<line x1="1196.1" y1="435.6" x2="1196.1" y2="439.5" stroke="#fff" stroke-width="1.6" />
<line x1="1196.1" y1="444.8" x2="1196.1" y2="448.7" stroke="#fff" stroke-width="1.6" />
<line x1="1228.0" y1="435.6" x2="1228.0" y2="439.5" stroke="#fff" stroke-width="1.6" />
<line x1="1228.0" y1="444.8" x2="1228.0" y2="448.7" stroke="#fff" stroke-width="1.6" />
<line x1="1259.9" y1="435.6" x2="1259.9" y2="439.5" stroke="#fff" stroke-width="1.6" />
<line x1="1259.9" y1="444.8" x2="1259.9" y2="448.7" stroke="#fff" stroke-width="1.6" />
<line x1="1291.8" y1="435.6" x2="1291.8" y2="439.5" stroke="#fff" stroke-width="1.6" />
<line x1="1291.8" y1="444.8" x2="1291.8" y2="448.7" stroke="#fff" stroke-width="1.6" />
<text x="1168.0" y="469.3" font-size="24.7" text-anchor="middle">50</text>
<text x="1200.3" y="469.3" font-size="24.7" text-anchor="middle">40</text>
<text x="1232.6" y="469.3" font-size="24.7" text-anchor="middle">30</text>
<text x="1264.9" y="469.3" font-size="24.7" text-anchor="middle">20</text>
<text x="1297.2" y="469.3" font-size="24.7" text-anchor="middle">10</text>
<text x="1322.0" y="469.3" font-size="24.7" text-anchor="middle">0</text>
<text x="1362.0" y="34.5" font-size="48">d</text>
<circle cx="1743.3" cy="283.8" r="166.2" fill="#80BEF8"/>
<circle cx="1627.5" cy="282.5" r="125.5" fill="#EE8A22"/>
<circle cx="1743.3" cy="283.8" r="166.2" fill="#C98A88" clip-path="url(#orclip)"/>
<text x="1525.6" y="93.3" font-size="28" text-anchor="middle">LARP-1::APEX2-enriched</text>
<text x="1525.6" y="124.4" font-size="28" text-anchor="middle">mRNAs of</text>
<text x="1525.6" y="157.4" font-size="28" text-anchor="middle">mitochondrial proteins</text>
<text x="1721.7" y="20.8" font-size="28">Down-regulated</text>
<text x="1721.7" y="52.2" font-size="28">mitochondrial</text>
<text x="1721.7" y="83.6" font-size="28">proteins in</text>
<text x="1721.7" y="114.5" font-size="28"><tspan font-style="italic">larp-1</tspan> mutants</text>
<text x="1819.5" y="154.5" font-size="28" text-anchor="middle">457</text>
<text x="1526.5" y="204.0" font-size="28" text-anchor="middle">245</text>
<text x="1641.0" y="292.0" font-size="28" text-anchor="middle">176</text>
<text x="657.0" y="535.3" font-size="48">c</text>
<text x="972.0" y="555.9" font-size="28.1" text-anchor="middle">LARP-1::APEX2-enriched mRNAs (653)</text>
<text x="973.0" y="586.7" font-size="28.2" text-anchor="middle">endcoding proteins of subcellular location</text>
<path d="M974.7,702.7 L896.2,609.1 L896.2,670.1 L974.7,763.7 Z" fill="#D1A5F9" stroke="#2A2A2A" stroke-width="1.3" stroke-linejoin="round"/>
<path d="M974.7,702.7 L1184.2,702.7 L1184.2,763.7 L974.7,763.7 Z" fill="#D0A4F8" stroke="#2A2A2A" stroke-width="1.3" stroke-linejoin="round"/>
<path d="M974.7,702.7 L896.2,609.1 L906.6,607.2 L917.1,605.6 L927.9,604.3 L938.7,603.2 L949.7,602.4 L960.7,601.9 L971.7,601.7 L982.8,601.8 L993.8,602.1 L1004.8,602.8 L1015.7,603.7 L1026.5,604.8 L1037.2,606.3 L1047.7,608.0 L1057.9,610.0 L1068.0,612.3 L1077.7,614.8 L1087.2,617.5 L1096.4,620.5 L1105.2,623.7 L1113.7,627.1 L1121.8,630.8 L1129.5,634.6 L1136.7,638.7 L1143.5,642.9 L1149.8,647.3 L1155.6,651.8 L1161.0,656.5 L1165.8,661.3 L1170.0,666.2 L1173.8,671.2 L1176.9,676.3 L1179.5,681.5 L1181.6,686.8 L1183.0,692.0 L1183.9,697.4 L1184.2,702.7 Z" fill="#D4A8FB" stroke="#2A2A2A" stroke-width="1.3" stroke-linejoin="round"/>
<path d="M942.9,714.6 L785.8,781.4 L785.8,842.4 L942.9,775.6 Z" fill="#D2E4E4" stroke="#2A2A2A" stroke-width="1.3" stroke-linejoin="round"/>
<path d="M785.8,781.4 L778.3,777.1 L771.4,772.6 L764.9,767.9 L759.1,763.0 L753.8,758.0 L749.1,752.9 L744.9,747.7 L741.4,742.3 L738.6,736.9 L736.3,731.4 L734.7,725.8 L733.7,720.2 L733.4,714.6 L733.4,775.6 L733.7,781.2 L734.7,786.8 L736.3,792.4 L738.6,797.9 L741.4,803.3 L744.9,808.7 L749.1,813.9 L753.8,819.0 L759.1,824.0 L764.9,828.9 L771.4,833.6 L778.3,838.1 L785.8,842.4 Z" fill="#D3E5E5" stroke="#2A2A2A" stroke-width="1.3" stroke-linejoin="round"/>
<path d="M942.9,714.6 L785.8,781.4 L778.6,777.3 L772.0,773.0 L765.8,768.5 L760.1,763.9 L754.9,759.2 L750.3,754.3 L746.2,749.4 L742.6,744.3 L739.7,739.1 L737.3,733.9 L735.4,728.6 L734.2,723.3 L733.5,717.9 L733.4,712.6 L734.0,707.2 L735.1,701.9 L736.8,696.6 L739.0,691.4 L741.9,686.2 L745.3,681.1 L749.2,676.1 L753.7,671.2 L758.8,666.4 L764.3,661.8 L770.4,657.3 L776.9,653.0 L784.0,648.8 L791.4,644.8 L799.3,641.1 L807.6,637.5 L816.3,634.1 L825.3,631.0 L834.6,628.1 L844.3,625.5 L854.2,623.1 L864.4,621.0 Z" fill="#D6E7E7" stroke="#2A2A2A" stroke-width="1.3" stroke-linejoin="round"/>
<path d="M984.9,718.8 L1188.2,743.2 L1188.2,804.2 L984.9,779.8 Z" fill="#F2F27A" stroke="#2A2A2A" stroke-width="1.3" stroke-linejoin="round"/>
<path d="M1194.4,718.8 L1194.0,725.0 L1192.8,731.1 L1190.9,737.2 L1188.2,743.2 L1188.2,804.2 L1190.9,798.2 L1192.8,792.1 L1194.0,786.0 L1194.4,779.8 Z" fill="#F0F070" stroke="#2A2A2A" stroke-width="1.3" stroke-linejoin="round"/>
<path d="M984.9,718.8 L1194.4,718.8 L1194.0,725.0 L1192.8,731.1 L1190.9,737.2 L1188.2,743.2 Z" fill="#F8F882" stroke="#2A2A2A" stroke-width="1.3" stroke-linejoin="round"/>
<path d="M980.7,728.1 L1052.4,823.0 L1052.4,884.0 L980.7,789.1 Z" fill="#C9939F" stroke="#2A2A2A" stroke-width="1.3" stroke-linejoin="round"/>
<path d="M1184.0,752.5 L1180.9,757.8 L1177.3,763.0 L1173.1,768.1 L1168.3,773.1 L1162.9,777.9 L1157.1,782.6 L1150.7,787.1 L1143.8,791.5 L1136.4,795.7 L1128.6,799.7 L1120.3,803.4 L1111.6,807.0 L1102.5,810.3 L1093.1,813.3 L1083.3,816.2 L1073.3,818.7 L1062.9,821.0 L1052.4,823.0 L1052.4,884.0 L1062.9,882.0 L1073.3,879.7 L1083.3,877.2 L1093.1,874.3 L1102.5,871.3 L1111.6,868.0 L1120.3,864.4 L1128.6,860.7 L1136.4,856.7 L1143.8,852.5 L1150.7,848.1 L1157.1,843.6 L1162.9,838.9 L1168.3,834.1 L1173.1,829.1 L1177.3,824.0 L1180.9,818.8 L1184.0,813.5 Z" fill="#CC96A2" stroke="#2A2A2A" stroke-width="1.3" stroke-linejoin="round"/>
<path d="M980.7,728.1 L1184.0,752.5 L1180.9,757.8 L1177.3,763.0 L1173.1,768.1 L1168.3,773.1 L1162.9,777.9 L1157.1,782.6 L1150.7,787.1 L1143.8,791.5 L1136.4,795.7 L1128.6,799.7 L1120.3,803.4 L1111.6,807.0 L1102.5,810.3 L1093.1,813.3 L1083.3,816.2 L1073.3,818.7 L1062.9,821.0 L1052.4,823.0 Z" fill="#F4BACD" stroke="#2A2A2A" stroke-width="1.3" stroke-linejoin="round"/>
<path d="M969.7,730.7 L1020.4,828.7 L1020.4,889.7 L969.7,791.7 Z" fill="#8EC4F4" stroke="#2A2A2A" stroke-width="1.3" stroke-linejoin="round"/>
<path d="M1037.9,826.2 L1033.6,826.9 L1029.2,827.5 L1024.8,828.1 L1020.4,828.7 L1020.4,889.7 L1024.8,889.1 L1029.2,888.5 L1033.6,887.9 L1037.9,887.2 Z" fill="#96CAF8" stroke="#2A2A2A" stroke-width="1.3" stroke-linejoin="round"/>
<path d="M969.7,730.7 L1037.9,826.2 L1033.6,826.9 L1029.2,827.5 L1024.8,828.1 L1020.4,828.7 Z" fill="#9FCFFA" stroke="#2A2A2A" stroke-width="1.3" stroke-linejoin="round"/>
<path d="M951.4,729.8 L886.7,825.9 L886.7,886.9 L951.4,790.8 Z" fill="#D2902C" stroke="#2A2A2A" stroke-width="1.3" stroke-linejoin="round"/>
<path d="M886.7,825.9 L875.6,824.0 L864.7,821.7 L854.1,819.3 L843.8,816.5 L833.9,813.4 L824.3,810.1 L815.2,806.5 L806.5,802.7 L798.2,798.7 L798.2,859.7 L806.5,863.7 L815.2,867.5 L824.3,871.1 L833.9,874.4 L843.8,877.5 L854.1,880.3 L864.7,882.7 L875.6,885.0 L886.7,886.9 Z" fill="#DA952E" stroke="#2A2A2A" stroke-width="1.3" stroke-linejoin="round"/>
<path d="M951.4,729.8 L886.7,825.9 L875.6,824.0 L864.7,821.7 L854.1,819.3 L843.8,816.5 L833.9,813.4 L824.3,810.1 L815.2,806.5 L806.5,802.7 L798.2,798.7 Z" fill="#F0A93A" stroke="#2A2A2A" stroke-width="1.3" stroke-linejoin="round"/>
<path d="M1009.1,830.8 L998.0,831.9 L986.8,832.7 L975.5,833.2 L964.2,833.4 L952.9,833.3 L941.6,832.9 L930.3,832.2 L919.2,831.3 L908.1,830.0 L897.3,828.5 L897.3,889.5 L908.1,891.0 L919.2,892.3 L930.3,893.2 L941.6,893.9 L952.9,894.3 L964.2,894.4 L975.5,894.2 L986.8,893.7 L998.0,892.9 L1009.1,891.8 Z" fill="#F4E2C8" stroke="#2A2A2A" stroke-width="1.3" stroke-linejoin="round"/>
<path d="M962.0,732.4 L1009.1,830.8 L998.0,831.9 L986.8,832.7 L975.5,833.2 L964.2,833.4 L952.9,833.3 L941.6,832.9 L930.3,832.2 L919.2,831.3 L908.1,830.0 L897.3,828.5 Z" fill="#F6E4CA" stroke="#2A2A2A" stroke-width="1.3" stroke-linejoin="round"/>
<text x="832.3" y="675.6" font-size="24.0" text-anchor="middle">Endoplasmic</text>
<text x="832.3" y="702.7" font-size="24.0" text-anchor="middle">Reticulum</text>
<text x="833.1" y="726.4" font-size="24.0" text-anchor="middle">(178/653)</text>
<text x="825.5" y="751.9" font-size="24.0" text-anchor="middle">27.3 %</text>
<text x="1036.6" y="645.9" font-size="24.0" text-anchor="middle">Mitochondria</text>
<text x="1051.4" y="673.0" font-size="24.0" text-anchor="middle">(245/653)</text>
<text x="1043.4" y="695.9" font-size="24.0" text-anchor="middle">37.5 %</text>
<text x="955.1" y="823.9" font-size="24.0" text-anchor="middle">Cytosol</text>
<text x="956.4" y="861.2" font-size="24.0" text-anchor="middle">(28/653)</text>
<text x="959.4" y="885.8" font-size="24.0" text-anchor="middle">4.3 %</text>
<text x="1250.8" y="766.7" font-size="24.0" text-anchor="middle">Lysosome</text>
<text x="1249.7" y="792.6" font-size="24.0" text-anchor="middle">(22/653)</text>
<text x="1249.7" y="817.3" font-size="24.0" text-anchor="middle">3.4 %</text>
<text x="1087.1" y="907.9" font-size="24.0" text-anchor="middle">Peroxisome</text>
<text x="1085.7" y="936.7" font-size="24.0" text-anchor="middle">(10/653) 1.5%</text>
<text x="1071.2" y="773.9" font-size="24.0" text-anchor="middle" transform="rotate(-36 1071.2 773.9)">Golgi</text>
<text x="1108.8" y="789.8" font-size="24.0" text-anchor="middle" transform="rotate(-38 1108.8 789.8)">(111/653)</text>
<text x="1133.7" y="835.5" font-size="24.0" text-anchor="middle" transform="rotate(-28 1133.7 835.5)">17.0 %</text>
<text x="899.2" y="784.4" font-size="24.0" text-anchor="middle" transform="rotate(-41 899.2 784.4)">Endosome</text>
<text x="841.9" y="844.5" font-size="24.0" text-anchor="middle" transform="rotate(14 841.9 844.5)">(59/653)</text>
<text x="840.9" y="870.6" font-size="24.0" text-anchor="middle" transform="rotate(16 840.9 870.6)">9.0 %</text>
<text x="6.0" y="35.0" font-size="48">a</text>
<text x="186.3" y="64.7" font-size="27.3">Linker</text>
<line x1="220.8" y1="69.8" x2="220.8" y2="91.0" stroke="#222" stroke-width="5.0" />
<polygon points="212.0,90.0 229.6,90.0 220.8,107.5" fill="#222"/>
<line x1="210.5" y1="113.7" x2="234.0" y2="113.7" stroke="#111" stroke-width="3.6" />
<circle cx="252.0" cy="113.7" r="22.5" fill="#D4FFB0" opacity="0.9"/>
<circle cx="252.0" cy="113.7" r="17.0" fill="#44FF14" stroke="#2E9C1E" stroke-width="3.0"/>
<rect x="84.0" y="90.6" width="127.0" height="46.0" rx="23.0" fill="#E1A548" stroke="#6C2F14" stroke-width="3.8"/>
<text x="147.5" y="123.5" font-size="27.5" text-anchor="middle" fill="#fff" font-weight="bold">LARP-1</text>
<text x="223.0" y="157.0" font-size="27.3">GFP</text>
<text x="504.3" y="65.9" font-size="27.3">Linker</text>
<line x1="545.5" y1="70.5" x2="545.5" y2="91.5" stroke="#222" stroke-width="5.0" />
<polygon points="536.7,90.5 554.3,90.5 545.5,108.0" fill="#222"/>
<line x1="537.5" y1="113.5" x2="557.0" y2="113.5" stroke="#111" stroke-width="3.6" />
<path d="M574.3,111.2 L589.5,119.3 A17.2,17.2 0 1 1 589.5,103.1 Z" fill="#C9A2F8" stroke="#2B2BE0" stroke-width="2.2" stroke-linejoin="round"/>
<rect x="409.6" y="90.6" width="127.7" height="45.3" rx="22.7" fill="#E1A548" stroke="#6C2F14" stroke-width="3.8"/>
<text x="473.4" y="123.2" font-size="27.5" text-anchor="middle" fill="#fff" font-weight="bold">LARP-1</text>
<text x="533.1" y="158.5" font-size="27.3">APEX2</text>
<line x1="148.6" y1="140.0" x2="148.6" y2="191.0" stroke="#222" stroke-width="5.2" />
<polygon points="137.3,190.0 159.9,190.0 148.6,212.0" fill="#222"/>
<line x1="477.6" y1="140.0" x2="477.6" y2="193.0" stroke="#222" stroke-width="5.2" />
<polygon points="466.3,192.0 488.9,192.0 477.6,214.0" fill="#222"/>
<path d="M22.6,215.7 C25.7,215.1 34.7,215.7 41.2,218.0 C47.7,220.3 54.2,226.4 61.7,229.5 C69.2,232.6 77.5,237.2 86.4,236.8 C95.3,236.4 104.9,230.7 115.2,227.0 C125.5,223.3 140.0,216.9 148.2,214.7 C156.4,212.5 158.4,212.8 164.6,213.7 C170.8,214.6 176.6,216.9 185.2,219.9 C193.8,222.9 206.5,228.9 216.1,231.6 C225.7,234.3 234.2,236.3 242.8,236.0 C251.4,235.7 258.2,233.2 267.5,229.8 C276.8,226.4 287.4,219.2 298.4,215.8 C309.4,212.4 327.4,209.9 333.4,209.2 C339.4,208.5 336.8,210.0 334.4,211.8 C332.0,213.6 326.7,215.2 319.0,219.8 C311.3,224.4 298.4,233.4 288.1,239.4 C277.8,245.4 265.8,252.7 257.2,255.9 C248.6,259.1 245.3,260.1 236.7,258.9 C228.1,257.7 215.4,252.5 205.8,248.7 C196.2,244.9 186.6,239.1 179.0,236.3 C171.4,233.6 166.3,232.2 160.5,232.2 C154.7,232.2 151.7,233.4 144.1,236.3 C136.5,239.2 124.8,246.6 115.2,249.7 C105.6,252.8 95.3,255.5 86.4,254.8 C77.5,254.1 69.2,249.5 61.7,245.6 C54.2,241.7 47.7,235.2 41.2,231.2 C34.7,227.2 25.7,224.1 22.6,221.5 C19.5,218.9 19.5,216.3 22.6,215.7 Z" fill="#5DEE3C" stroke="#49D42C" stroke-width="1.4"/>
<path d="M41.2,224.6 C44.6,226.8 54.2,234.0 61.7,237.6 C69.2,241.1 77.5,245.7 86.4,245.8 C95.3,245.9 105.2,241.7 115.2,238.3 C125.2,235.0 138.3,228.1 146.1,225.5 C154.0,222.9 156.6,222.5 162.6,222.9 C168.5,223.4 174.0,225.2 182.1,228.1 C190.2,231.0 201.3,236.9 210.9,240.1 C220.6,243.4 231.2,247.0 239.8,247.4 C248.3,247.9 253.4,246.2 262.4,242.9 C271.3,239.5 288.1,230.1 293.2,227.6" fill="none" stroke="#B4FFA0" stroke-width="3.2" stroke-linecap="round" opacity="0.85"/>
<path d="M86.4,241.8 C91.2,240.6 105.2,237.7 115.2,234.3 C125.2,231.0 138.3,224.1 146.1,221.5 C154.0,218.9 156.6,218.5 162.6,218.9 C168.5,219.4 174.0,221.2 182.1,224.1 C190.2,227.0 206.1,234.1 210.9,236.1" fill="none" stroke="#B4FFA0" stroke-width="1.2" stroke-dasharray="1.5,2.2" opacity="0.9"/>
<path d="M86.4,250.3 C91.2,249.1 105.2,246.2 115.2,242.8 C125.2,239.5 138.3,232.6 146.1,230.0 C154.0,227.4 156.6,227.0 162.6,227.4 C168.5,227.9 174.0,229.7 182.1,232.6 C190.2,235.5 206.1,242.6 210.9,244.6" fill="none" stroke="#B4FFA0" stroke-width="2.4" stroke-dasharray="2.4,2.4" stroke-linecap="round" opacity="0.9"/>
<path d="M348.0,215.7 C351.1,215.1 360.1,215.7 366.6,218.0 C373.1,220.3 379.6,226.4 387.1,229.5 C394.6,232.6 402.9,237.2 411.8,236.8 C420.7,236.4 430.3,230.7 440.6,227.0 C450.9,223.3 465.4,216.9 473.6,214.7 C481.8,212.5 483.8,212.8 490.0,213.7 C496.2,214.6 502.0,216.9 510.6,219.9 C519.2,222.9 531.9,228.9 541.5,231.6 C551.1,234.3 559.6,236.3 568.2,236.0 C576.8,235.7 583.6,233.2 592.9,229.8 C602.2,226.4 612.8,219.2 623.8,215.8 C634.8,212.4 652.8,209.9 658.8,209.2 C664.8,208.5 662.2,210.0 659.8,211.8 C657.4,213.6 652.1,215.2 644.4,219.8 C636.7,224.4 623.8,233.4 613.5,239.4 C603.2,245.4 591.2,252.7 582.6,255.9 C574.0,259.1 570.7,260.1 562.1,258.9 C553.5,257.7 540.8,252.5 531.2,248.7 C521.6,244.9 511.9,239.1 504.4,236.3 C496.8,233.6 491.7,232.2 485.9,232.2 C480.1,232.2 477.1,233.4 469.5,236.3 C461.9,239.2 450.2,246.6 440.6,249.7 C431.0,252.8 420.7,255.5 411.8,254.8 C402.9,254.1 394.6,249.5 387.1,245.6 C379.6,241.7 373.1,235.2 366.6,231.2 C360.1,227.2 351.1,224.1 348.0,221.5 C344.9,218.9 344.9,216.3 348.0,215.7 Z" fill="#A97AF0" stroke="#9566E0" stroke-width="1.4"/>
<path d="M366.6,224.6 C370.0,226.8 379.6,234.0 387.1,237.6 C394.6,241.1 402.9,245.7 411.8,245.8 C420.7,245.9 430.6,241.7 440.6,238.3 C450.6,235.0 463.7,228.1 471.5,225.5 C479.4,222.9 482.0,222.5 487.9,222.9 C493.9,223.4 499.4,225.2 507.5,228.1 C515.6,231.0 526.7,236.9 536.3,240.1 C546.0,243.4 556.6,247.0 565.1,247.4 C573.7,247.9 578.8,246.2 587.8,242.9 C596.7,239.5 613.5,230.1 618.6,227.6" fill="none" stroke="#DCC6FF" stroke-width="3.2" stroke-linecap="round" opacity="0.85"/>
<path d="M411.8,241.8 C416.6,240.6 430.6,237.7 440.6,234.3 C450.6,231.0 463.7,224.1 471.5,221.5 C479.4,218.9 482.0,218.5 487.9,218.9 C493.9,219.4 499.4,221.2 507.5,224.1 C515.6,227.0 531.5,234.1 536.3,236.1" fill="none" stroke="#DCC6FF" stroke-width="1.2" stroke-dasharray="1.5,2.2" opacity="0.9"/>
<path d="M411.8,250.3 C416.6,249.1 430.6,246.2 440.6,242.8 C450.6,239.5 463.7,232.6 471.5,230.0 C479.4,227.4 482.0,227.0 487.9,227.4 C493.9,227.9 499.4,229.7 507.5,232.6 C515.6,235.5 531.5,242.6 536.3,244.6" fill="none" stroke="#DCC6FF" stroke-width="2.4" stroke-dasharray="2.4,2.4" stroke-linecap="round" opacity="0.9"/>
<path d="M158.5,243.8 V275.5 H492 V243.8 M323,275.5 V295.3" fill="none" stroke="#222" stroke-width="3.6"/>
<path d="M323,295.3 H165 Q142.5,295.3 142.5,318 V332" fill="none" stroke="#222" stroke-width="3.6"/>
<polygon points="131.7,331.0 154.4,331.0 143.0,353.0" fill="#222"/>
<path d="M323,295.3 H481 Q503.5,295.3 503.5,318 V332" fill="none" stroke="#222" stroke-width="3.6"/>
<polygon points="492.2,331.0 514.8,331.0 503.5,353.0" fill="#222"/>
<text x="67.9" y="328.2" font-size="28.3">H<tspan font-size="20" dy="8">2</tspan><tspan dy="-8">O</tspan><tspan font-size="20" dy="8">2</tspan><tspan dy="-8">, 1 min</tspan></text>
<text x="426.1" y="328.2" font-size="28.3">1 min, H<tspan font-size="20" dy="8">2</tspan><tspan dy="-8">O</tspan><tspan font-size="20" dy="8">2</tspan></text>
<circle cx="153.3" cy="557.0" r="97.0" fill="url(#glow)"/>
<circle cx="465.4" cy="560.0" r="97.0" fill="url(#glow)"/>
<polygon points="121.0,357.0 124.8,361.3 130.4,362.4 128.5,367.8 130.4,373.2 124.8,374.3 121.0,378.6 117.2,374.3 111.6,373.2 113.5,367.8 111.6,362.4 117.2,361.3" fill="#F1DA33" stroke="#7E3A0E" stroke-width="2.4" stroke-linejoin="round"/>
<line x1="131.5" y1="367.3" x2="157.2" y2="367.3" stroke="#111" stroke-width="3.0" />
<polygon points="157.2,365.4 169.8,345.6 195.0,345.6 207.6,365.4 195.0,385.2 169.8,385.2" fill="none" stroke="#111" stroke-width="3.0" stroke-linejoin="miter"/>
<line x1="174.0" y1="350.4" x2="190.8" y2="350.4" stroke="#111" stroke-width="2.7" />
<line x1="201.0" y1="366.3" x2="192.6" y2="379.5" stroke="#111" stroke-width="2.7" />
<line x1="172.2" y1="379.5" x2="163.8" y2="366.3" stroke="#111" stroke-width="2.7" />
<line x1="207.6" y1="367.3" x2="231.0" y2="367.3" stroke="#111" stroke-width="3.0" />
<text x="234.4" y="376" font-size="28"><tspan fill="#3A78C6">N</tspan><tspan fill="#111">H</tspan><tspan font-size="19" dy="4" fill="#111">2</tspan></text>
<text x="186.0" y="414.2" font-size="27.8" text-anchor="middle" fill="#4A8AE0">Biotin-Aniline</text>
<path d="M111,371.5 C80,380 66,415 80,432 C88,442 100,446 117,446.5" fill="none" stroke="#111" stroke-width="2.6"/>
<polygon points="114.5,440.5 127.5,446.8 115.5,454.0" fill="#111"/>
<line x1="153.0" y1="445.7" x2="178.5" y2="445.7" stroke="#111" stroke-width="3.0" />
<polygon points="178.5,444.5 191.1,424.7 216.3,424.7 228.9,444.5 216.3,464.3 191.1,464.3" fill="none" stroke="#111" stroke-width="3.0" stroke-linejoin="miter"/>
<line x1="195.3" y1="429.5" x2="212.1" y2="429.5" stroke="#111" stroke-width="2.7" />
<line x1="222.3" y1="445.4" x2="213.9" y2="458.6" stroke="#111" stroke-width="2.7" />
<line x1="193.5" y1="458.6" x2="185.1" y2="445.4" stroke="#111" stroke-width="2.7" />
<line x1="228.9" y1="445.0" x2="253.3" y2="445.0" stroke="#111" stroke-width="3.0" />
<text x="257.2" y="454.3" font-size="28" fill="#3A78C6">N<tspan font-size="17" dy="-12">2</tspan></text>
<line x1="287.5" y1="436.0" x2="297.5" y2="436.0" stroke="#3A78C6" stroke-width="3.0" />
<path d="M154.9,470.0 L153.3,451.5 A18.6,18.6 0 1 1 140.7,458.0 Z" fill="#C9A2F8" stroke="#2B2BE0" stroke-width="2.2" stroke-linejoin="round"/>
<polygon points="142.3,435.7 146.1,440.0 151.7,441.1 149.8,446.5 151.7,451.9 146.1,453.0 142.3,457.3 138.6,453.0 132.9,451.9 134.8,446.5 132.9,441.1 138.6,440.0" fill="#F1DA33" stroke="#7E3A0E" stroke-width="2.4" stroke-linejoin="round"/>
<line x1="164.3" y1="485.8" x2="170.6" y2="500.0" stroke="#111" stroke-width="3.4" />
<rect x="89.6" y="500.0" width="126.7" height="43.3" rx="21.6" fill="#E1A548" stroke="#6C2F14" stroke-width="3.8"/>
<text x="152.9" y="531.5" font-size="27.5" text-anchor="middle" fill="#fff" font-weight="bold">LARP-1</text>
<path d="M104.5,608.4 C105.0,608.3 106.8,608.2 107.6,607.9 C108.5,607.6 109.3,607.2 109.8,606.6 C110.3,606.0 110.5,605.2 110.6,604.3 C110.6,603.4 110.2,602.2 110.2,601.2 C110.2,600.2 110.3,599.1 110.5,598.2 C110.7,597.3 111.1,596.3 111.4,595.9 C111.7,595.5 111.7,596.1 112.4,595.9 C113.0,595.6 114.2,594.8 115.2,594.3 C116.2,593.8 117.6,593.5 118.6,593.0 C119.5,592.5 120.3,592.2 120.8,591.5 C121.2,590.9 121.4,589.9 121.4,588.9 C121.4,587.9 120.5,586.5 120.6,585.5 C120.7,584.5 121.6,583.6 121.8,583.2" fill="none" stroke="#8C52C6" stroke-width="4.8" stroke-linecap="round" stroke-linejoin="round"/>
<path d="M114.0,566.0 C114.5,566.2 116.3,567.0 117.3,567.2 C118.3,567.3 119.5,567.4 119.9,566.9 C120.4,566.5 119.4,565.2 120.1,564.6 C120.7,564.1 122.6,563.9 123.8,563.6 C124.9,563.4 126.6,563.0 127.1,563.1 C127.6,563.3 126.1,564.2 126.6,564.5 C127.1,564.9 128.8,564.8 130.0,565.1 C131.2,565.3 132.8,565.9 133.7,566.1 C134.5,566.3 134.4,566.4 135.1,566.2 C135.7,566.0 136.7,565.7 137.5,565.2 C138.3,564.6 139.1,563.1 139.9,562.8 C140.7,562.4 141.9,562.8 142.3,562.8" fill="none" stroke="#E4D43E" stroke-width="4.8" stroke-linecap="round" stroke-linejoin="round"/>
<path d="M161.2,548.6 C160.8,548.9 159.2,549.8 158.6,550.5 C157.9,551.1 157.4,551.8 157.2,552.6 C157.0,553.3 157.2,554.1 157.5,555.0 C157.9,555.8 158.6,556.9 159.2,557.7 C159.8,558.4 160.4,558.8 161.0,559.5 C161.6,560.2 162.5,560.8 162.7,561.6 C162.9,562.4 162.8,563.3 162.4,564.2 C162.1,565.2 161.3,566.2 160.8,567.2 C160.2,568.2 159.4,569.4 159.1,570.2 C158.8,570.9 158.7,571.0 158.8,571.7 C158.9,572.4 159.3,573.4 159.8,574.3 C160.3,575.2 161.3,576.1 162.0,577.1 C162.7,578.0 163.6,579.1 163.9,579.8 C164.2,580.4 164.0,580.3 163.9,580.9 C163.8,581.6 163.7,582.8 163.3,583.7 C162.9,584.7 162.2,585.9 161.8,586.9 C161.4,587.9 160.4,589.1 160.8,589.8 C161.2,590.5 163.7,590.9 164.3,591.1" fill="none" stroke="#4A1A8E" stroke-width="4.8" stroke-linecap="round" stroke-linejoin="round"/>
<path d="M175.3,562.8 C174.9,563.0 173.5,563.8 172.8,564.3 C172.1,564.8 171.5,565.4 171.2,566.0 C170.9,566.7 170.8,567.4 171.0,568.2 C171.1,568.9 171.6,569.8 172.0,570.6 C172.5,571.5 173.2,572.7 173.6,573.2 C174.0,573.8 174.2,573.5 174.6,574.0 C174.9,574.5 175.6,575.3 175.7,576.0 C175.9,576.8 175.6,577.8 175.3,578.7 C175.0,579.7 174.3,580.7 173.9,581.7 C173.5,582.7 173.0,583.7 172.9,584.6 C172.8,585.5 172.8,586.5 173.2,587.0 C173.6,587.4 174.6,586.9 175.2,587.4 C175.7,587.9 176.1,589.2 176.5,590.1 C176.9,590.9 177.5,591.9 177.7,592.7 C178.0,593.5 178.2,594.3 178.0,595.0 C177.9,595.7 177.5,596.3 176.9,596.8 C176.3,597.4 175.4,597.7 174.5,598.3 C173.7,598.9 172.4,599.5 171.8,600.3 C171.1,601.1 170.7,602.3 170.6,603.2 C170.6,604.1 170.9,604.9 171.5,605.6 C172.0,606.4 173.5,606.9 174.1,607.6 C174.8,608.4 175.1,609.6 175.3,610.0" fill="none" stroke="#DA8EE2" stroke-width="4.8" stroke-linecap="round" stroke-linejoin="round"/>
<path d="M178.5,553.3 C178.4,553.8 177.8,555.4 177.7,556.3 C177.6,557.2 177.6,558.1 177.9,558.8 C178.2,559.4 178.8,559.9 179.6,560.4 C180.3,560.8 181.4,561.0 182.4,561.4 C183.4,561.8 184.8,562.2 185.6,562.7 C186.5,563.3 187.0,563.9 187.3,564.5 C187.6,565.1 187.8,565.8 187.7,566.5 C187.6,567.2 187.2,568.0 186.7,568.7 C186.3,569.5 185.6,570.3 185.1,571.0 C184.5,571.8 183.8,572.4 183.5,573.4 C183.2,574.3 183.0,575.8 183.3,576.6 C183.5,577.5 184.2,577.9 185.0,578.3 C185.8,578.8 186.9,579.0 187.9,579.3 C189.0,579.6 190.2,579.7 191.1,580.1 C192.1,580.4 192.9,580.7 193.5,581.4 C194.1,582.1 194.5,583.2 194.5,584.1 C194.5,585.0 193.9,585.9 193.5,586.9 C193.1,587.9 192.4,588.9 192.0,589.8 C191.7,590.8 191.3,591.7 191.4,592.5 C191.4,593.3 191.6,594.0 192.3,594.6 C193.1,595.1 195.2,595.6 195.8,595.8" fill="none" stroke="#E4D43E" stroke-width="4.8" stroke-linecap="round" stroke-linejoin="round"/>
<path d="M142.3,573.8 C142.1,574.3 141.4,575.8 141.3,576.7 C141.1,577.6 141.0,578.5 141.2,579.2 C141.5,579.9 142.1,580.6 142.8,581.0 C143.5,581.4 144.8,581.3 145.5,581.8 C146.2,582.4 146.6,583.6 146.9,584.5 C147.3,585.3 147.6,586.1 147.7,586.9 C147.7,587.6 147.5,588.3 147.1,588.9 C146.7,589.5 146.0,590.0 145.2,590.5 C144.4,591.0 143.4,591.3 142.5,591.9 C141.7,592.6 140.5,593.5 139.9,594.3 C139.4,595.2 139.2,595.9 139.4,597.0 C139.5,598.0 140.3,599.6 141.0,600.4 C141.8,601.2 143.2,601.2 144.1,601.6 C145.0,602.1 145.9,602.5 146.4,603.1 C147.0,603.7 147.5,604.3 147.3,605.2 C147.2,606.1 145.7,607.9 145.4,608.4" fill="none" stroke="#4EA6DA" stroke-width="4.8" stroke-linecap="round" stroke-linejoin="round"/>
<path d="M126.6,594.2 C126.3,594.6 125.1,595.7 124.6,596.5 C124.1,597.3 123.7,598.0 123.6,598.7 C123.6,599.5 123.8,600.3 124.3,600.9 C124.8,601.6 126.0,601.8 126.4,602.6 C126.9,603.4 126.9,604.7 127.0,605.6 C127.0,606.6 127.1,607.5 126.9,608.2 C126.7,609.0 126.3,609.7 125.7,610.0 C125.2,610.3 124.5,609.5 123.6,610.0 C122.7,610.5 121.3,612.2 120.6,613.0 C119.8,613.8 119.5,614.0 119.2,614.6 C118.8,615.2 118.5,615.7 118.7,616.5 C118.9,617.3 120.0,618.9 120.3,619.4" fill="none" stroke="#36A436" stroke-width="4.8" stroke-linecap="round" stroke-linejoin="round"/>
<path d="M150.2,595.8 C150.4,596.4 150.7,598.4 151.2,599.3 C151.6,600.2 152.4,601.1 153.1,601.3 C153.8,601.5 154.7,600.3 155.5,600.4 C156.4,600.5 157.3,601.3 158.2,601.8 C159.0,602.3 160.0,602.7 160.6,603.3 C161.2,603.8 161.7,604.4 161.9,605.1 C162.1,605.7 162.0,606.5 161.8,607.3 C161.5,608.1 161.0,609.0 160.6,609.9 C160.1,610.7 159.4,611.6 159.0,612.4 C158.6,613.2 158.2,614.0 158.1,614.7 C158.1,615.4 158.2,616.1 158.5,616.7 C158.9,617.4 159.5,617.9 160.2,618.4 C160.9,619.0 161.9,619.4 162.7,619.9 C163.6,620.5 164.5,620.9 165.2,621.5 C165.8,622.1 166.4,622.8 166.6,623.5 C166.8,624.2 166.7,625.0 166.4,625.8 C166.1,626.6 165.5,627.6 165.0,628.4 C164.4,629.3 163.7,630.3 163.2,631.1 C162.8,632.0 161.9,632.9 162.4,633.6 C162.8,634.3 165.3,634.8 165.9,635.1" fill="none" stroke="#36A436" stroke-width="4.8" stroke-linecap="round" stroke-linejoin="round"/>
<path d="M195.8,609.2 C195.3,609.0 193.8,608.4 192.9,608.3 C192.0,608.1 191.2,608.0 190.5,608.2 C189.8,608.5 189.3,608.9 188.8,609.6 C188.2,610.4 187.1,611.9 187.1,612.9 C187.2,613.9 188.7,614.6 189.2,615.4 C189.8,616.2 190.3,617.1 190.5,617.8 C190.7,618.6 190.6,619.2 190.2,620.1 C189.7,620.9 188.8,622.5 187.9,623.0 C186.9,623.4 185.5,622.7 184.4,622.7 C183.3,622.7 182.2,622.7 181.4,623.0 C180.6,623.3 180.0,623.8 179.6,624.6 C179.2,625.4 179.1,626.5 179.0,627.5 C178.9,628.6 179.0,629.8 179.0,630.8 C179.0,631.8 179.1,632.7 178.9,633.5 C178.7,634.2 178.3,634.8 177.7,635.3 C177.2,635.7 176.3,635.9 175.4,636.1 C174.5,636.3 173.4,636.3 172.4,636.5 C171.4,636.6 170.1,636.8 169.5,636.9 C168.9,637.0 169.2,636.7 168.8,637.1 C168.3,637.4 167.3,638.1 166.7,638.9 C166.2,639.8 166.0,641.6 165.3,642.3 C164.7,642.9 163.2,642.9 162.8,643.0" fill="none" stroke="#4A1A8E" stroke-width="4.8" stroke-linecap="round" stroke-linejoin="round"/>
<path d="M134.4,639.9 C134.9,640.0 136.4,640.6 137.2,640.8 C138.1,640.9 139.0,641.0 139.6,640.8 C140.3,640.5 141.0,640.1 141.3,639.4 C141.7,638.8 141.0,637.5 141.6,636.9 C142.1,636.3 143.6,636.1 144.6,635.8 C145.5,635.6 146.5,635.3 147.3,635.4 C148.1,635.5 149.1,635.7 149.4,636.3 C149.6,636.9 148.3,638.7 148.8,639.1 C149.3,639.5 151.2,638.8 152.3,638.6 C153.4,638.4 154.6,638.2 155.3,637.8 C156.1,637.3 156.6,636.6 156.8,635.8 C157.0,635.0 156.4,634.1 156.5,632.9 C156.7,631.7 156.8,629.4 157.6,628.8 C158.4,628.1 160.6,628.9 161.2,628.9" fill="none" stroke="#DA8EE2" stroke-width="4.8" stroke-linecap="round" stroke-linejoin="round"/>
<path d="M118.7,635.1 C118.3,635.3 116.9,636.0 116.2,636.5 C115.5,637.0 114.9,637.2 114.6,638.2 C114.3,639.1 114.1,641.4 114.4,642.3 C114.7,643.1 115.7,643.0 116.5,643.3 C117.2,643.7 118.2,643.9 119.0,644.2 C119.8,644.5 121.2,644.5 121.4,645.1 C121.6,645.7 120.5,647.3 120.3,647.7" fill="none" stroke="#36A436" stroke-width="4.8" stroke-linecap="round" stroke-linejoin="round"/>
<polygon points="107.7,547.2 112.0,552.2 118.4,553.4 116.3,559.6 118.4,565.8 112.0,567.0 107.7,572.0 103.4,567.0 97.0,565.8 99.1,559.6 97.0,553.4 103.4,552.2" fill="#F1DA33" stroke="#7E3A0E" stroke-width="2.4" stroke-linejoin="round"/>
<polygon points="155.7,544.8 160.0,549.8 166.4,551.0 164.3,557.2 166.4,563.4 160.0,564.6 155.7,569.6 151.4,564.6 145.0,563.4 147.1,557.2 145.0,551.0 151.4,549.8" fill="#F1DA33" stroke="#7E3A0E" stroke-width="2.4" stroke-linejoin="round"/>
<polygon points="195.0,548.8 199.3,553.8 205.7,555.0 203.6,561.2 205.7,567.4 199.3,568.6 195.0,573.6 190.7,568.6 184.3,567.4 186.4,561.2 184.3,555.0 190.7,553.8" fill="#F1DA33" stroke="#7E3A0E" stroke-width="2.4" stroke-linejoin="round"/>
<polygon points="134.4,568.5 138.7,573.5 145.1,574.7 143.0,580.9 145.1,587.1 138.7,588.3 134.4,593.3 130.1,588.3 123.7,587.1 125.8,580.9 123.7,574.7 130.1,573.5" fill="#F1DA33" stroke="#7E3A0E" stroke-width="2.4" stroke-linejoin="round"/>
<polygon points="170.6,605.4 174.9,610.4 181.3,611.6 179.2,617.8 181.3,624.0 174.9,625.2 170.6,630.2 166.3,625.2 159.9,624.0 162.0,617.8 159.9,611.6 166.3,610.4" fill="#F1DA33" stroke="#7E3A0E" stroke-width="2.4" stroke-linejoin="round"/>
<polygon points="129.7,614.9 134.0,619.9 140.4,621.1 138.3,627.3 140.4,633.5 134.0,634.7 129.7,639.7 125.4,634.7 119.0,633.5 121.1,627.3 119.0,621.1 125.4,619.9" fill="#F1DA33" stroke="#7E3A0E" stroke-width="2.4" stroke-linejoin="round"/>
<polygon points="417.9,352.4 421.6,356.7 427.3,357.8 425.4,363.2 427.3,368.6 421.6,369.7 417.9,374.0 414.1,369.7 408.5,368.6 410.4,363.2 408.5,357.8 414.1,356.7" fill="#F1DA33" stroke="#7E3A0E" stroke-width="2.4" stroke-linejoin="round"/>
<line x1="428.5" y1="365.3" x2="452.4" y2="365.3" stroke="#111" stroke-width="3.0" />
<polygon points="452.4,365.3 465.0,345.5 490.2,345.5 502.8,365.3 490.2,385.1 465.0,385.1" fill="none" stroke="#111" stroke-width="3.0" stroke-linejoin="miter"/>
<line x1="459.0" y1="364.4" x2="467.4" y2="351.2" stroke="#111" stroke-width="2.7" />
<line x1="487.8" y1="351.2" x2="496.2" y2="364.4" stroke="#111" stroke-width="2.7" />
<line x1="486.0" y1="380.3" x2="469.2" y2="380.3" stroke="#111" stroke-width="2.7" />
<line x1="502.8" y1="365.3" x2="529.0" y2="365.3" stroke="#111" stroke-width="3.0" />
<text x="533.1" y="375.5" font-size="28"><tspan fill="#C42A2A">O</tspan><tspan fill="#666">H</tspan></text>
<text x="376.7" y="413.8" font-size="28.3" fill="#A01414">Biotin-phenol (Tyramide)</text>
<path d="M405,366 C372,378 360,410 372,430 C380,441 395,445 418,446" fill="none" stroke="#111" stroke-width="2.6"/>
<polygon points="415.5,440.0 428.5,446.3 416.5,453.5" fill="#111"/>
<line x1="457.0" y1="444.7" x2="485.3" y2="444.7" stroke="#111" stroke-width="3.0" />
<polygon points="485.3,444.7 497.9,424.9 523.1,424.9 535.7,444.7 523.1,464.5 497.9,464.5" fill="none" stroke="#111" stroke-width="3.0" stroke-linejoin="miter"/>
<line x1="491.9" y1="443.8" x2="500.3" y2="430.6" stroke="#111" stroke-width="2.7" />
<line x1="520.7" y1="430.6" x2="529.1" y2="443.8" stroke="#111" stroke-width="2.7" />
<line x1="518.9" y1="459.7" x2="502.1" y2="459.7" stroke="#111" stroke-width="2.7" />
<line x1="535.7" y1="444.7" x2="560.0" y2="444.7" stroke="#111" stroke-width="3.0" />
<text x="563.5" y="455" font-size="28" fill="#C42A2A">O</text>
<line x1="585.0" y1="436.0" x2="596.0" y2="436.0" stroke="#C42A2A" stroke-width="3.0" />
<path d="M457.6,463.6 L456.0,445.1 A18.6,18.6 0 1 1 443.4,451.6 Z" fill="#C9A2F8" stroke="#2B2BE0" stroke-width="2.2" stroke-linejoin="round"/>
<polygon points="446.7,429.8 450.4,434.1 456.1,435.2 454.2,440.6 456.1,446.0 450.4,447.1 446.7,451.4 442.9,447.1 437.3,446.0 439.2,440.6 437.3,435.2 442.9,434.1" fill="#F1DA33" stroke="#7E3A0E" stroke-width="2.4" stroke-linejoin="round"/>
<line x1="468.6" y1="480.9" x2="475.7" y2="497.4" stroke="#111" stroke-width="3.4" />
<rect x="400.9" y="497.4" width="127.5" height="44.1" rx="22.1" fill="#E1A548" stroke="#6C2F14" stroke-width="3.8"/>
<text x="464.6" y="529.4" font-size="27.5" text-anchor="middle" fill="#fff" font-weight="bold">LARP-1</text>
<rect x="423.7" y="591.1" width="40.2" height="25.9" rx="9" fill="#D9B0D9" stroke="#9C6A9E" stroke-width="1.6" transform="rotate(4 443.8 604)"/>
<circle cx="443.4" cy="570.6" r="16.5" fill="#2D5078" stroke="#284468" stroke-width="1.2"/>
<rect x="496.9" y="565.9" width="24.4" height="59.8" rx="12" fill="#D3C07E" stroke="#A08040" stroke-width="1.6"/>
<circle cx="475.7" cy="591.1" r="17.8" fill="#E2E2F6" stroke="#2A2A62" stroke-width="3.0"/>
<rect x="462.3" y="606.8" width="19.7" height="30.7" rx="9.8" fill="#58B64E" stroke="#3E9E9A" stroke-width="1.2"/>
<polygon points="435.5,543.3 439.8,548.3 446.2,549.5 444.1,555.7 446.2,561.9 439.8,563.1 435.5,568.1 431.2,563.1 424.8,561.9 426.9,555.7 424.8,549.5 431.2,548.3" fill="#F1DA33" stroke="#7E3A0E" stroke-width="2.4" stroke-linejoin="round"/>
<polygon points="478.0,550.4 482.3,555.4 488.7,556.6 486.6,562.8 488.7,569.0 482.3,570.2 478.0,575.2 473.7,570.2 467.3,569.0 469.4,562.8 467.3,556.6 473.7,555.4" fill="#F1DA33" stroke="#7E3A0E" stroke-width="2.4" stroke-linejoin="round"/>
<polygon points="510.3,541.7 514.6,546.7 521.0,547.9 518.9,554.1 521.0,560.3 514.6,561.5 510.3,566.5 506.0,561.5 499.6,560.3 501.7,554.1 499.6,547.9 506.0,546.7" fill="#F1DA33" stroke="#7E3A0E" stroke-width="2.4" stroke-linejoin="round"/>
<polygon points="415.1,583.4 419.4,588.4 425.8,589.6 423.7,595.8 425.8,602.0 419.4,603.2 415.1,608.2 410.8,603.2 404.4,602.0 406.5,595.8 404.4,589.6 410.8,588.4" fill="#F1DA33" stroke="#7E3A0E" stroke-width="2.4" stroke-linejoin="round"/>
<polygon points="492.2,607.0 496.5,612.0 502.9,613.2 500.8,619.4 502.9,625.6 496.5,626.8 492.2,631.8 487.9,626.8 481.5,625.6 483.6,619.4 481.5,613.2 487.9,612.0" fill="#F1DA33" stroke="#7E3A0E" stroke-width="2.4" stroke-linejoin="round"/>
<text x="245.0" y="486.7" font-size="23.8">Distal proteins</text>
<polygon points="317.0,500.3 331.4,510.8 325.9,528.0 308.1,528.0 302.6,510.8" fill="#3C3F8C" stroke="#25285E" stroke-width="1.4"/>
<polygon points="351.0,498.5 366.4,528.6 335.6,528.6" fill="#D8A83E" stroke="#A07A22" stroke-width="1.6" stroke-linejoin="round"/>
<path d="M263.5,570.6 C263.5,571.2 263.1,572.9 263.2,573.9 C263.3,574.9 263.5,575.7 264.0,576.4 C264.5,577.0 265.4,577.3 266.3,577.6 C267.2,577.9 268.5,577.5 269.6,578.0 C270.7,578.6 272.6,580.2 273.1,581.1 C273.7,582.0 273.2,582.8 272.9,583.4 C272.5,584.1 271.9,584.6 271.1,585.1 C270.3,585.5 269.2,585.8 268.3,586.1 C267.3,586.5 265.9,586.0 265.3,587.1 C264.6,588.2 264.2,591.6 264.3,592.7 C264.5,593.7 265.6,593.4 266.4,593.5 C267.2,593.6 268.2,593.3 269.2,593.1 C270.2,592.9 271.3,592.5 272.2,592.3 C273.2,592.2 274.2,592.0 274.9,592.1 C275.7,592.2 276.4,592.5 276.9,593.1 C277.4,593.6 277.8,594.6 278.0,595.4 C278.3,596.2 278.8,597.1 278.5,598.1 C278.3,599.1 276.6,600.1 276.6,601.5 C276.6,602.8 277.7,605.4 278.5,606.2 C279.3,606.9 280.3,606.1 281.2,605.9 C282.2,605.8 283.3,605.4 284.2,605.3 C285.2,605.2 286.1,605.1 286.9,605.2 C287.6,605.4 288.4,605.5 288.7,606.2 C289.0,607.0 288.7,609.4 288.7,610.0" fill="none" stroke="#8A8A52" stroke-width="4.2" stroke-linecap="round" stroke-linejoin="round"/>
<path d="M280.0,574.4 C280.4,574.6 281.8,575.4 282.7,575.7 C283.5,575.9 284.3,576.1 285.0,576.0 C285.7,575.9 286.3,575.5 286.9,575.0 C287.4,574.4 287.7,573.5 288.4,572.7 C289.0,571.9 290.1,570.6 290.9,570.4 C291.8,570.2 292.9,570.9 293.5,571.3 C294.2,571.8 294.7,572.3 295.0,573.0 C295.2,573.7 295.2,574.6 295.1,575.5 C295.0,576.4 294.6,577.5 294.4,578.5 C294.2,579.5 293.4,580.3 293.9,581.4 C294.4,582.5 296.6,584.7 297.6,585.1 C298.5,585.6 299.0,584.6 299.6,584.0 C300.3,583.4 300.9,582.5 301.5,581.6 C302.1,580.8 302.7,579.7 303.3,579.0 C303.9,578.3 304.1,577.4 305.2,577.3 C306.4,577.2 309.5,577.7 310.3,578.4 C311.1,579.1 310.2,580.4 310.1,581.5 C309.9,582.6 309.5,583.9 309.4,585.0 C309.4,586.0 309.3,587.0 309.6,587.8 C310.0,588.6 310.5,589.1 311.4,589.5 C312.3,590.0 314.2,590.8 315.1,590.5 C316.0,590.3 316.2,588.9 316.9,588.2 C317.5,587.5 318.1,586.9 318.7,586.6 C319.4,586.2 320.1,586.1 320.8,586.2 C321.5,586.4 322.2,586.8 323.0,587.3 C323.7,587.7 324.8,588.5 325.2,588.8" fill="none" stroke="#2222F0" stroke-width="4.2" stroke-linecap="round" stroke-linejoin="round"/>
<text x="235.5" y="630.0" font-size="23.8">Distal RNAs</text>
<line x1="148.2" y1="648.5" x2="148.2" y2="743.8" stroke="#222" stroke-width="5.2" />
<polygon points="136.7,742.8 159.7,742.8 148.2,765.8" fill="#222"/>
<line x1="473.5" y1="649.0" x2="473.5" y2="744.7" stroke="#222" stroke-width="5.2" />
<polygon points="462.0,743.7 485.0,743.7 473.5,766.7" fill="#222"/>
<text x="71.0" y="681.4" font-size="27.5" text-anchor="middle">Biotinylated</text>
<text x="71.0" y="712.3" font-size="27.5" text-anchor="middle">proximal</text>
<text x="71.0" y="743.2" font-size="27.5" text-anchor="middle">RNAs</text>
<text x="394.5" y="681.4" font-size="27.5" text-anchor="middle">Biotinylated</text>
<text x="394.5" y="712.3" font-size="27.5" text-anchor="middle">proximal</text>
<text x="394.5" y="743.2" font-size="27.5" text-anchor="middle">proteins</text>
<g transform="translate(57.3,108.3)">
<path d="M104.5,608.4 C105.0,608.3 106.8,608.2 107.6,607.9 C108.5,607.6 109.3,607.2 109.8,606.6 C110.3,606.0 110.5,605.2 110.6,604.3 C110.6,603.4 110.2,602.2 110.2,601.2 C110.2,600.2 110.3,599.1 110.5,598.2 C110.7,597.3 111.1,596.3 111.4,595.9 C111.7,595.5 111.7,596.1 112.4,595.9 C113.0,595.6 114.2,594.8 115.2,594.3 C116.2,593.8 117.6,593.5 118.6,593.0 C119.5,592.5 120.3,592.2 120.8,591.5 C121.2,590.9 121.4,589.9 121.4,588.9 C121.4,587.9 120.5,586.5 120.6,585.5 C120.7,584.5 121.6,583.6 121.8,583.2" fill="none" stroke="#8C52C6" stroke-width="4.8" stroke-linecap="round" stroke-linejoin="round"/>
<path d="M114.0,566.0 C114.5,566.2 116.3,567.0 117.3,567.2 C118.3,567.3 119.5,567.4 119.9,566.9 C120.4,566.5 119.4,565.2 120.1,564.6 C120.7,564.1 122.6,563.9 123.8,563.6 C124.9,563.4 126.6,563.0 127.1,563.1 C127.6,563.3 126.1,564.2 126.6,564.5 C127.1,564.9 128.8,564.8 130.0,565.1 C131.2,565.3 132.8,565.9 133.7,566.1 C134.5,566.3 134.4,566.4 135.1,566.2 C135.7,566.0 136.7,565.7 137.5,565.2 C138.3,564.6 139.1,563.1 139.9,562.8 C140.7,562.4 141.9,562.8 142.3,562.8" fill="none" stroke="#E4D43E" stroke-width="4.8" stroke-linecap="round" stroke-linejoin="round"/>
<path d="M161.2,548.6 C160.8,548.9 159.2,549.8 158.6,550.5 C157.9,551.1 157.4,551.8 157.2,552.6 C157.0,553.3 157.2,554.1 157.5,555.0 C157.9,555.8 158.6,556.9 159.2,557.7 C159.8,558.4 160.4,558.8 161.0,559.5 C161.6,560.2 162.5,560.8 162.7,561.6 C162.9,562.4 162.8,563.3 162.4,564.2 C162.1,565.2 161.3,566.2 160.8,567.2 C160.2,568.2 159.4,569.4 159.1,570.2 C158.8,570.9 158.7,571.0 158.8,571.7 C158.9,572.4 159.3,573.4 159.8,574.3 C160.3,575.2 161.3,576.1 162.0,577.1 C162.7,578.0 163.6,579.1 163.9,579.8 C164.2,580.4 164.0,580.3 163.9,580.9 C163.8,581.6 163.7,582.8 163.3,583.7 C162.9,584.7 162.2,585.9 161.8,586.9 C161.4,587.9 160.4,589.1 160.8,589.8 C161.2,590.5 163.7,590.9 164.3,591.1" fill="none" stroke="#4A1A8E" stroke-width="4.8" stroke-linecap="round" stroke-linejoin="round"/>
<path d="M175.3,562.8 C174.9,563.0 173.5,563.8 172.8,564.3 C172.1,564.8 171.5,565.4 171.2,566.0 C170.9,566.7 170.8,567.4 171.0,568.2 C171.1,568.9 171.6,569.8 172.0,570.6 C172.5,571.5 173.2,572.7 173.6,573.2 C174.0,573.8 174.2,573.5 174.6,574.0 C174.9,574.5 175.6,575.3 175.7,576.0 C175.9,576.8 175.6,577.8 175.3,578.7 C175.0,579.7 174.3,580.7 173.9,581.7 C173.5,582.7 173.0,583.7 172.9,584.6 C172.8,585.5 172.8,586.5 173.2,587.0 C173.6,587.4 174.6,586.9 175.2,587.4 C175.7,587.9 176.1,589.2 176.5,590.1 C176.9,590.9 177.5,591.9 177.7,592.7 C178.0,593.5 178.2,594.3 178.0,595.0 C177.9,595.7 177.5,596.3 176.9,596.8 C176.3,597.4 175.4,597.7 174.5,598.3 C173.7,598.9 172.4,599.5 171.8,600.3 C171.1,601.1 170.7,602.3 170.6,603.2 C170.6,604.1 170.9,604.9 171.5,605.6 C172.0,606.4 173.5,606.9 174.1,607.6 C174.8,608.4 175.1,609.6 175.3,610.0" fill="none" stroke="#DA8EE2" stroke-width="4.8" stroke-linecap="round" stroke-linejoin="round"/>
<path d="M178.5,553.3 C178.4,553.8 177.8,555.4 177.7,556.3 C177.6,557.2 177.6,558.1 177.9,558.8 C178.2,559.4 178.8,559.9 179.6,560.4 C180.3,560.8 181.4,561.0 182.4,561.4 C183.4,561.8 184.8,562.2 185.6,562.7 C186.5,563.3 187.0,563.9 187.3,564.5 C187.6,565.1 187.8,565.8 187.7,566.5 C187.6,567.2 187.2,568.0 186.7,568.7 C186.3,569.5 185.6,570.3 185.1,571.0 C184.5,571.8 183.8,572.4 183.5,573.4 C183.2,574.3 183.0,575.8 183.3,576.6 C183.5,577.5 184.2,577.9 185.0,578.3 C185.8,578.8 186.9,579.0 187.9,579.3 C189.0,579.6 190.2,579.7 191.1,580.1 C192.1,580.4 192.9,580.7 193.5,581.4 C194.1,582.1 194.5,583.2 194.5,584.1 C194.5,585.0 193.9,585.9 193.5,586.9 C193.1,587.9 192.4,588.9 192.0,589.8 C191.7,590.8 191.3,591.7 191.4,592.5 C191.4,593.3 191.6,594.0 192.3,594.6 C193.1,595.1 195.2,595.6 195.8,595.8" fill="none" stroke="#E4D43E" stroke-width="4.8" stroke-linecap="round" stroke-linejoin="round"/>
<path d="M142.3,573.8 C142.1,574.3 141.4,575.8 141.3,576.7 C141.1,577.6 141.0,578.5 141.2,579.2 C141.5,579.9 142.1,580.6 142.8,581.0 C143.5,581.4 144.8,581.3 145.5,581.8 C146.2,582.4 146.6,583.6 146.9,584.5 C147.3,585.3 147.6,586.1 147.7,586.9 C147.7,587.6 147.5,588.3 147.1,588.9 C146.7,589.5 146.0,590.0 145.2,590.5 C144.4,591.0 143.4,591.3 142.5,591.9 C141.7,592.6 140.5,593.5 139.9,594.3 C139.4,595.2 139.2,595.9 139.4,597.0 C139.5,598.0 140.3,599.6 141.0,600.4 C141.8,601.2 143.2,601.2 144.1,601.6 C145.0,602.1 145.9,602.5 146.4,603.1 C147.0,603.7 147.5,604.3 147.3,605.2 C147.2,606.1 145.7,607.9 145.4,608.4" fill="none" stroke="#4EA6DA" stroke-width="4.8" stroke-linecap="round" stroke-linejoin="round"/>
<path d="M126.6,594.2 C126.3,594.6 125.1,595.7 124.6,596.5 C124.1,597.3 123.7,598.0 123.6,598.7 C123.6,599.5 123.8,600.3 124.3,600.9 C124.8,601.6 126.0,601.8 126.4,602.6 C126.9,603.4 126.9,604.7 127.0,605.6 C127.0,606.6 127.1,607.5 126.9,608.2 C126.7,609.0 126.3,609.7 125.7,610.0 C125.2,610.3 124.5,609.5 123.6,610.0 C122.7,610.5 121.3,612.2 120.6,613.0 C119.8,613.8 119.5,614.0 119.2,614.6 C118.8,615.2 118.5,615.7 118.7,616.5 C118.9,617.3 120.0,618.9 120.3,619.4" fill="none" stroke="#36A436" stroke-width="4.8" stroke-linecap="round" stroke-linejoin="round"/>
<path d="M150.2,595.8 C150.4,596.4 150.7,598.4 151.2,599.3 C151.6,600.2 152.4,601.1 153.1,601.3 C153.8,601.5 154.7,600.3 155.5,600.4 C156.4,600.5 157.3,601.3 158.2,601.8 C159.0,602.3 160.0,602.7 160.6,603.3 C161.2,603.8 161.7,604.4 161.9,605.1 C162.1,605.7 162.0,606.5 161.8,607.3 C161.5,608.1 161.0,609.0 160.6,609.9 C160.1,610.7 159.4,611.6 159.0,612.4 C158.6,613.2 158.2,614.0 158.1,614.7 C158.1,615.4 158.2,616.1 158.5,616.7 C158.9,617.4 159.5,617.9 160.2,618.4 C160.9,619.0 161.9,619.4 162.7,619.9 C163.6,620.5 164.5,620.9 165.2,621.5 C165.8,622.1 166.4,622.8 166.6,623.5 C166.8,624.2 166.7,625.0 166.4,625.8 C166.1,626.6 165.5,627.6 165.0,628.4 C164.4,629.3 163.7,630.3 163.2,631.1 C162.8,632.0 161.9,632.9 162.4,633.6 C162.8,634.3 165.3,634.8 165.9,635.1" fill="none" stroke="#36A436" stroke-width="4.8" stroke-linecap="round" stroke-linejoin="round"/>
<path d="M195.8,609.2 C195.3,609.0 193.8,608.4 192.9,608.3 C192.0,608.1 191.2,608.0 190.5,608.2 C189.8,608.5 189.3,608.9 188.8,609.6 C188.2,610.4 187.1,611.9 187.1,612.9 C187.2,613.9 188.7,614.6 189.2,615.4 C189.8,616.2 190.3,617.1 190.5,617.8 C190.7,618.6 190.6,619.2 190.2,620.1 C189.7,620.9 188.8,622.5 187.9,623.0 C186.9,623.4 185.5,622.7 184.4,622.7 C183.3,622.7 182.2,622.7 181.4,623.0 C180.6,623.3 180.0,623.8 179.6,624.6 C179.2,625.4 179.1,626.5 179.0,627.5 C178.9,628.6 179.0,629.8 179.0,630.8 C179.0,631.8 179.1,632.7 178.9,633.5 C178.7,634.2 178.3,634.8 177.7,635.3 C177.2,635.7 176.3,635.9 175.4,636.1 C174.5,636.3 173.4,636.3 172.4,636.5 C171.4,636.6 170.1,636.8 169.5,636.9 C168.9,637.0 169.2,636.7 168.8,637.1 C168.3,637.4 167.3,638.1 166.7,638.9 C166.2,639.8 166.0,641.6 165.3,642.3 C164.7,642.9 163.2,642.9 162.8,643.0" fill="none" stroke="#4A1A8E" stroke-width="4.8" stroke-linecap="round" stroke-linejoin="round"/>
<path d="M134.4,639.9 C134.9,640.0 136.4,640.6 137.2,640.8 C138.1,640.9 139.0,641.0 139.6,640.8 C140.3,640.5 141.0,640.1 141.3,639.4 C141.7,638.8 141.0,637.5 141.6,636.9 C142.1,636.3 143.6,636.1 144.6,635.8 C145.5,635.6 146.5,635.3 147.3,635.4 C148.1,635.5 149.1,635.7 149.4,636.3 C149.6,636.9 148.3,638.7 148.8,639.1 C149.3,639.5 151.2,638.8 152.3,638.6 C153.4,638.4 154.6,638.2 155.3,637.8 C156.1,637.3 156.6,636.6 156.8,635.8 C157.0,635.0 156.4,634.1 156.5,632.9 C156.7,631.7 156.8,629.4 157.6,628.8 C158.4,628.1 160.6,628.9 161.2,628.9" fill="none" stroke="#DA8EE2" stroke-width="4.8" stroke-linecap="round" stroke-linejoin="round"/>
<path d="M118.7,635.1 C118.3,635.3 116.9,636.0 116.2,636.5 C115.5,637.0 114.9,637.2 114.6,638.2 C114.3,639.1 114.1,641.4 114.4,642.3 C114.7,643.1 115.7,643.0 116.5,643.3 C117.2,643.7 118.2,643.9 119.0,644.2 C119.8,644.5 121.2,644.5 121.4,645.1 C121.6,645.7 120.5,647.3 120.3,647.7" fill="none" stroke="#36A436" stroke-width="4.8" stroke-linecap="round" stroke-linejoin="round"/>
<polygon points="107.7,547.2 112.0,552.2 118.4,553.4 116.3,559.6 118.4,565.8 112.0,567.0 107.7,572.0 103.4,567.0 97.0,565.8 99.1,559.6 97.0,553.4 103.4,552.2" fill="#F1DA33" stroke="#7E3A0E" stroke-width="2.4" stroke-linejoin="round"/>
<polygon points="155.7,544.8 160.0,549.8 166.4,551.0 164.3,557.2 166.4,563.4 160.0,564.6 155.7,569.6 151.4,564.6 145.0,563.4 147.1,557.2 145.0,551.0 151.4,549.8" fill="#F1DA33" stroke="#7E3A0E" stroke-width="2.4" stroke-linejoin="round"/>
<polygon points="195.0,548.8 199.3,553.8 205.7,555.0 203.6,561.2 205.7,567.4 199.3,568.6 195.0,573.6 190.7,568.6 184.3,567.4 186.4,561.2 184.3,555.0 190.7,553.8" fill="#F1DA33" stroke="#7E3A0E" stroke-width="2.4" stroke-linejoin="round"/>
<polygon points="134.4,568.5 138.7,573.5 145.1,574.7 143.0,580.9 145.1,587.1 138.7,588.3 134.4,593.3 130.1,588.3 123.7,587.1 125.8,580.9 123.7,574.7 130.1,573.5" fill="#F1DA33" stroke="#7E3A0E" stroke-width="2.4" stroke-linejoin="round"/>
<polygon points="170.6,605.4 174.9,610.4 181.3,611.6 179.2,617.8 181.3,624.0 174.9,625.2 170.6,630.2 166.3,625.2 159.9,624.0 162.0,617.8 159.9,611.6 166.3,610.4" fill="#F1DA33" stroke="#7E3A0E" stroke-width="2.4" stroke-linejoin="round"/>
<polygon points="129.7,614.9 134.0,619.9 140.4,621.1 138.3,627.3 140.4,633.5 134.0,634.7 129.7,639.7 125.4,634.7 119.0,633.5 121.1,627.3 119.0,621.1 125.4,619.9" fill="#F1DA33" stroke="#7E3A0E" stroke-width="2.4" stroke-linejoin="round"/>
</g>
<g transform="translate(73,116)">
<rect x="423.7" y="591.1" width="40.2" height="25.9" rx="9" fill="#D9B0D9" stroke="#9C6A9E" stroke-width="1.6" transform="rotate(4 443.8 604)"/>
<circle cx="443.4" cy="570.6" r="16.5" fill="#2D5078" stroke="#284468" stroke-width="1.2"/>
<rect x="496.9" y="565.9" width="24.4" height="59.8" rx="12" fill="#D3C07E" stroke="#A08040" stroke-width="1.6"/>
<circle cx="475.7" cy="591.1" r="17.8" fill="#E2E2F6" stroke="#2A2A62" stroke-width="3.0"/>
<rect x="462.3" y="606.8" width="19.7" height="30.7" rx="9.8" fill="#58B64E" stroke="#3E9E9A" stroke-width="1.2"/>
<polygon points="435.5,543.3 439.8,548.3 446.2,549.5 444.1,555.7 446.2,561.9 439.8,563.1 435.5,568.1 431.2,563.1 424.8,561.9 426.9,555.7 424.8,549.5 431.2,548.3" fill="#F1DA33" stroke="#7E3A0E" stroke-width="2.4" stroke-linejoin="round"/>
<polygon points="478.0,550.4 482.3,555.4 488.7,556.6 486.6,562.8 488.7,569.0 482.3,570.2 478.0,575.2 473.7,570.2 467.3,569.0 469.4,562.8 467.3,556.6 473.7,555.4" fill="#F1DA33" stroke="#7E3A0E" stroke-width="2.4" stroke-linejoin="round"/>
<polygon points="510.3,541.7 514.6,546.7 521.0,547.9 518.9,554.1 521.0,560.3 514.6,561.5 510.3,566.5 506.0,561.5 499.6,560.3 501.7,554.1 499.6,547.9 506.0,546.7" fill="#F1DA33" stroke="#7E3A0E" stroke-width="2.4" stroke-linejoin="round"/>
<polygon points="415.1,583.4 419.4,588.4 425.8,589.6 423.7,595.8 425.8,602.0 419.4,603.2 415.1,608.2 410.8,603.2 404.4,602.0 406.5,595.8 404.4,589.6 410.8,588.4" fill="#F1DA33" stroke="#7E3A0E" stroke-width="2.4" stroke-linejoin="round"/>
<polygon points="492.2,607.0 496.5,612.0 502.9,613.2 500.8,619.4 502.9,625.6 496.5,626.8 492.2,631.8 487.9,626.8 481.5,625.6 483.6,619.4 481.5,613.2 487.9,612.0" fill="#F1DA33" stroke="#7E3A0E" stroke-width="2.4" stroke-linejoin="round"/>
</g>
<rect x="91.2" y="769.6" width="11.9" height="11.4" fill="#E5DDFA"/>
<rect x="102.8" y="769.6" width="11.9" height="11.4" fill="#F08A6C"/>
<rect x="114.3" y="769.6" width="11.9" height="11.4" fill="#E5DDFA"/>
<rect x="125.9" y="769.6" width="11.9" height="11.4" fill="#F08A6C"/>
<rect x="137.5" y="769.6" width="11.9" height="11.4" fill="#F8DDD3"/>
<rect x="149.1" y="769.6" width="11.9" height="11.4" fill="#F08A6C"/>
<rect x="160.6" y="769.6" width="11.9" height="11.4" fill="#F8DDD3"/>
<rect x="172.2" y="769.6" width="11.9" height="11.4" fill="#F8DDD3"/>
<rect x="183.8" y="769.6" width="11.9" height="11.4" fill="#F8DDD3"/>
<rect x="195.3" y="769.6" width="11.9" height="11.4" fill="#F8DDD3"/>
<rect x="91.2" y="780.7" width="11.9" height="11.4" fill="#F08A6C"/>
<rect x="102.8" y="780.7" width="11.9" height="11.4" fill="#E5DDFA"/>
<rect x="114.3" y="780.7" width="11.9" height="11.4" fill="#F08A6C"/>
<rect x="125.9" y="780.7" width="11.9" height="11.4" fill="#F8DDD3"/>
<rect x="137.5" y="780.7" width="11.9" height="11.4" fill="#E5DDFA"/>
<rect x="149.1" y="780.7" width="11.9" height="11.4" fill="#F8DDD3"/>
<rect x="160.6" y="780.7" width="11.9" height="11.4" fill="#F08A6C"/>
<rect x="172.2" y="780.7" width="11.9" height="11.4" fill="#F8DDD3"/>
<rect x="183.8" y="780.7" width="11.9" height="11.4" fill="#F8DDD3"/>
<rect x="195.3" y="780.7" width="11.9" height="11.4" fill="#F8DDD3"/>
<rect x="91.2" y="791.9" width="11.9" height="11.4" fill="#C3AAF4"/>
<rect x="102.8" y="791.9" width="11.9" height="11.4" fill="#E5DDFA"/>
<rect x="114.3" y="791.9" width="11.9" height="11.4" fill="#F08A6C"/>
<rect x="125.9" y="791.9" width="11.9" height="11.4" fill="#E5DDFA"/>
<rect x="137.5" y="791.9" width="11.9" height="11.4" fill="#F08A6C"/>
<rect x="149.1" y="791.9" width="11.9" height="11.4" fill="#F08A6C"/>
<rect x="160.6" y="791.9" width="11.9" height="11.4" fill="#E5DDFA"/>
<rect x="172.2" y="791.9" width="11.9" height="11.4" fill="#F8DDD3"/>
<rect x="183.8" y="791.9" width="11.9" height="11.4" fill="#F8DDD3"/>
<rect x="195.3" y="791.9" width="11.9" height="11.4" fill="#F08A6C"/>
<rect x="91.2" y="803.0" width="11.9" height="11.4" fill="#E5DDFA"/>
<rect x="102.8" y="803.0" width="11.9" height="11.4" fill="#C3AAF4"/>
<rect x="114.3" y="803.0" width="11.9" height="11.4" fill="#E5DDFA"/>
<rect x="125.9" y="803.0" width="11.9" height="11.4" fill="#E5DDFA"/>
<rect x="137.5" y="803.0" width="11.9" height="11.4" fill="#F08A6C"/>
<rect x="149.1" y="803.0" width="11.9" height="11.4" fill="#E5DDFA"/>
<rect x="160.6" y="803.0" width="11.9" height="11.4" fill="#F08A6C"/>
<rect x="172.2" y="803.0" width="11.9" height="11.4" fill="#F08A6C"/>
<rect x="183.8" y="803.0" width="11.9" height="11.4" fill="#F08A6C"/>
<rect x="195.3" y="803.0" width="11.9" height="11.4" fill="#F8DDD3"/>
<rect x="91.2" y="814.1" width="11.9" height="11.4" fill="#A27CF4"/>
<rect x="102.8" y="814.1" width="11.9" height="11.4" fill="#E5DDFA"/>
<rect x="114.3" y="814.1" width="11.9" height="11.4" fill="#E5DDFA"/>
<rect x="125.9" y="814.1" width="11.9" height="11.4" fill="#C3AAF4"/>
<rect x="137.5" y="814.1" width="11.9" height="11.4" fill="#E5DDFA"/>
<rect x="149.1" y="814.1" width="11.9" height="11.4" fill="#C3AAF4"/>
<rect x="160.6" y="814.1" width="11.9" height="11.4" fill="#E5DDFA"/>
<rect x="172.2" y="814.1" width="11.9" height="11.4" fill="#F08A6C"/>
<rect x="183.8" y="814.1" width="11.9" height="11.4" fill="#F8DDD3"/>
<rect x="195.3" y="814.1" width="11.9" height="11.4" fill="#F08A6C"/>
<rect x="91.2" y="825.2" width="11.9" height="11.4" fill="#C3AAF4"/>
<rect x="102.8" y="825.2" width="11.9" height="11.4" fill="#E5DDFA"/>
<rect x="114.3" y="825.2" width="11.9" height="11.4" fill="#A27CF4"/>
<rect x="125.9" y="825.2" width="11.9" height="11.4" fill="#E5DDFA"/>
<rect x="137.5" y="825.2" width="11.9" height="11.4" fill="#E5DDFA"/>
<rect x="149.1" y="825.2" width="11.9" height="11.4" fill="#E5DDFA"/>
<rect x="160.6" y="825.2" width="11.9" height="11.4" fill="#E5DDFA"/>
<rect x="172.2" y="825.2" width="11.9" height="11.4" fill="#E5DDFA"/>
<rect x="183.8" y="825.2" width="11.9" height="11.4" fill="#F8DDD3"/>
<rect x="195.3" y="825.2" width="11.9" height="11.4" fill="#F08A6C"/>
<rect x="91.2" y="836.4" width="11.9" height="11.4" fill="#A27CF4"/>
<rect x="102.8" y="836.4" width="11.9" height="11.4" fill="#C3AAF4"/>
<rect x="114.3" y="836.4" width="11.9" height="11.4" fill="#E5DDFA"/>
<rect x="125.9" y="836.4" width="11.9" height="11.4" fill="#C3AAF4"/>
<rect x="137.5" y="836.4" width="11.9" height="11.4" fill="#C3AAF4"/>
<rect x="149.1" y="836.4" width="11.9" height="11.4" fill="#E5DDFA"/>
<rect x="160.6" y="836.4" width="11.9" height="11.4" fill="#C3AAF4"/>
<rect x="172.2" y="836.4" width="11.9" height="11.4" fill="#F08A6C"/>
<rect x="183.8" y="836.4" width="11.9" height="11.4" fill="#E5DDFA"/>
<rect x="195.3" y="836.4" width="11.9" height="11.4" fill="#E5DDFA"/>
<rect x="91.2" y="847.5" width="11.9" height="11.4" fill="#C3AAF4"/>
<rect x="102.8" y="847.5" width="11.9" height="11.4" fill="#A27CF4"/>
<rect x="114.3" y="847.5" width="11.9" height="11.4" fill="#C3AAF4"/>
<rect x="125.9" y="847.5" width="11.9" height="11.4" fill="#E5DDFA"/>
<rect x="137.5" y="847.5" width="11.9" height="11.4" fill="#C3AAF4"/>
<rect x="149.1" y="847.5" width="11.9" height="11.4" fill="#E5DDFA"/>
<rect x="160.6" y="847.5" width="11.9" height="11.4" fill="#E5DDFA"/>
<rect x="172.2" y="847.5" width="11.9" height="11.4" fill="#C3AAF4"/>
<rect x="183.8" y="847.5" width="11.9" height="11.4" fill="#E5DDFA"/>
<rect x="195.3" y="847.5" width="11.9" height="11.4" fill="#F08A6C"/>
<rect x="91.2" y="858.6" width="11.9" height="11.4" fill="#A27CF4"/>
<rect x="102.8" y="858.6" width="11.9" height="11.4" fill="#C3AAF4"/>
<rect x="114.3" y="858.6" width="11.9" height="11.4" fill="#C3AAF4"/>
<rect x="125.9" y="858.6" width="11.9" height="11.4" fill="#A27CF4"/>
<rect x="137.5" y="858.6" width="11.9" height="11.4" fill="#C3AAF4"/>
<rect x="149.1" y="858.6" width="11.9" height="11.4" fill="#A27CF4"/>
<rect x="160.6" y="858.6" width="11.9" height="11.4" fill="#C3AAF4"/>
<rect x="172.2" y="858.6" width="11.9" height="11.4" fill="#E5DDFA"/>
<rect x="183.8" y="858.6" width="11.9" height="11.4" fill="#C3AAF4"/>
<rect x="195.3" y="858.6" width="11.9" height="11.4" fill="#E5DDFA"/>
<rect x="91.2" y="869.8" width="11.9" height="11.4" fill="#A27CF4"/>
<rect x="102.8" y="869.8" width="11.9" height="11.4" fill="#A27CF4"/>
<rect x="114.3" y="869.8" width="11.9" height="11.4" fill="#A27CF4"/>
<rect x="125.9" y="869.8" width="11.9" height="11.4" fill="#C3AAF4"/>
<rect x="137.5" y="869.8" width="11.9" height="11.4" fill="#A27CF4"/>
<rect x="149.1" y="869.8" width="11.9" height="11.4" fill="#C3AAF4"/>
<rect x="160.6" y="869.8" width="11.9" height="11.4" fill="#A27CF4"/>
<rect x="172.2" y="869.8" width="11.9" height="11.4" fill="#C3AAF4"/>
<rect x="183.8" y="869.8" width="11.9" height="11.4" fill="#A27CF4"/>
<rect x="195.3" y="869.8" width="11.9" height="11.4" fill="#C3AAF4"/>
<text x="76.7" y="832.5" font-size="27.5" text-anchor="middle" transform="rotate(-90 76.7 832.5)">Heat map</text>
<text x="148.6" y="904.9" font-size="27.5" text-anchor="middle">RNA-seq</text>
<line x1="458.2" y1="840.5" x2="458.2" y2="874.5" stroke="#3A80D0" stroke-width="2.4" />
<line x1="507.6" y1="821.7" x2="507.6" y2="874.5" stroke="#3A80D0" stroke-width="2.4" />
<line x1="522.3" y1="768.1" x2="522.3" y2="874.5" stroke="#3A80D0" stroke-width="2.6" />
<line x1="534.8" y1="828.0" x2="534.8" y2="874.5" stroke="#3A80D0" stroke-width="2.2" />
<line x1="477.4" y1="811.2" x2="477.4" y2="874.5" stroke="#C83030" stroke-width="2.6" />
<line x1="502.8" y1="854.4" x2="502.8" y2="874.5" stroke="#C83030" stroke-width="3.0" />
<line x1="520.5" y1="826.0" x2="520.5" y2="874.5" stroke="#3A80D0" stroke-width="4.5" />
<line x1="523.5" y1="835.0" x2="523.5" y2="874.5" stroke="#3A80D0" stroke-width="5.0" />
<line x1="506.0" y1="849.0" x2="506.0" y2="874.5" stroke="#3A80D0" stroke-width="4.0" />
<line x1="475.0" y1="862.0" x2="475.0" y2="874.5" stroke="#C83030" stroke-width="4.0" />
<line x1="466.0" y1="868.0" x2="466.0" y2="874.5" stroke="#C83030" stroke-width="3.0" />
<line x1="469.0" y1="869.0" x2="469.0" y2="874.5" stroke="#3A80D0" stroke-width="3.0" />
<line x1="443.0" y1="870.0" x2="443.0" y2="874.5" stroke="#3A80D0" stroke-width="3.0" />
<line x1="440.0" y1="871.5" x2="440.0" y2="874.5" stroke="#C83030" stroke-width="3.0" />
<line x1="493.5" y1="871.0" x2="493.5" y2="874.5" stroke="#3A80D0" stroke-width="3.0" />
<line x1="513.7" y1="871.0" x2="513.7" y2="874.5" stroke="#C83030" stroke-width="3.0" />
<line x1="532.2" y1="869.0" x2="532.2" y2="874.5" stroke="#C83030" stroke-width="3.0" />
<line x1="480.0" y1="866.0" x2="480.0" y2="874.5" stroke="#3A80D0" stroke-width="2.5" />
<path d="M433.2,767.4 V875.3 H543.8" fill="none" stroke="#111" stroke-width="2.6"/>
<text x="418.5" y="821.0" font-size="27.3" text-anchor="middle" transform="rotate(-90 418.5 821.0)">Intensity</text>
<text x="497.5" y="903.1" font-size="27.5" text-anchor="middle">LC-MS/MS</text></svg></body></html>
